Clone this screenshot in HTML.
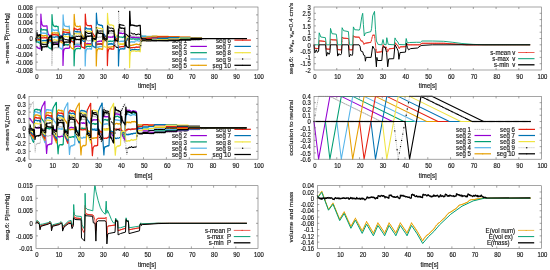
<!DOCTYPE html>
<html lang="en"><head><meta charset="utf-8"><title>segments</title>
<style>html,body{margin:0;padding:0;background:#fff;overflow:hidden}svg{display:block;filter:blur(0.38px)}text{white-space:pre}</style></head>
<body>
<svg width="550" height="270" viewBox="0 0 550 270" font-family="'Liberation Sans', sans-serif" font-size="6.5" fill="#1a1a1a">
<style>text{stroke:#1a1a1a;stroke-width:0.18px;stroke-linejoin:round}</style>
<rect width="550" height="270" fill="#fff"/>
<text transform="translate(186.90 42.70) scale(0.94 1)" text-anchor="end">seg 1</text>
<path d="M190.40 40.10h16.5" stroke="#b8b8b8" stroke-width="0.8" fill="none" stroke-dasharray="1.4 0.7"/>
<circle cx="198.65" cy="40.10" r="0.5" fill="#a0a0a0"/>
<text transform="translate(230.90 42.70) scale(0.94 1)" text-anchor="end">seg 6</text>
<path d="M234.40 40.10h16.5" stroke="#e51e10" stroke-width="1.2" fill="none"/>
<circle cx="242.65" cy="40.10" r="0.6" fill="#e51e10"/>
<text transform="translate(186.90 49.00) scale(0.94 1)" text-anchor="end">seg 2</text>
<path d="M190.40 46.40h16.5" stroke="#9400d3" stroke-width="1.2" fill="none"/>
<text transform="translate(230.90 49.00) scale(0.94 1)" text-anchor="end">seg 7</text>
<path d="M234.40 46.40h16.5" stroke="#0072b2" stroke-width="1.2" fill="none"/>
<circle cx="242.65" cy="46.40" r="0.5" fill="#0072b2"/>
<text transform="translate(186.90 55.30) scale(0.94 1)" text-anchor="end">seg 3</text>
<path d="M190.40 52.70h16.5" stroke="#009e73" stroke-width="1.2" fill="none"/>
<text transform="translate(230.90 55.30) scale(0.94 1)" text-anchor="end">seg 8</text>
<path d="M234.40 52.70h16.5" stroke="#f0e442" stroke-width="1.2" fill="none"/>
<circle cx="242.65" cy="52.70" r="0.5" fill="#f0e442"/>
<text transform="translate(186.90 61.60) scale(0.94 1)" text-anchor="end">seg 4</text>
<path d="M190.40 59.00h16.5" stroke="#56b4e9" stroke-width="1.2" fill="none"/>
<text transform="translate(230.90 61.60) scale(0.94 1)" text-anchor="end">seg 9</text>
<path d="M234.40 59.00h16.5" stroke="#b0b0b0" stroke-width="0.7" fill="none" stroke-dasharray="1.2 0.8"/>
<circle cx="242.65" cy="59.00" r="0.7" fill="#000"/>
<text transform="translate(186.90 67.90) scale(0.94 1)" text-anchor="end">seg 5</text>
<path d="M190.40 65.30h16.5" stroke="#e69f00" stroke-width="1.2" fill="none"/>
<circle cx="198.65" cy="65.30" r="0.6" fill="#e69f00"/>
<text transform="translate(230.90 67.90) scale(0.94 1)" text-anchor="end">seg 10</text>
<path d="M234.40 65.30h16.5" stroke="#000000" stroke-width="1.25" fill="none"/>
<circle cx="242.65" cy="65.30" r="0.6" fill="#000"/>
<polyline points="36.0,31.8 36.1,32.0 36.2,32.0 36.4,31.2 36.9,33.1 37.6,34.5 37.8,34.7 38.0,34.7 38.3,35.0 38.6,35.6 39.4,36.5 39.8,37.1 40.0,37.3 40.3,37.4 40.9,44.3 41.1,44.2 41.3,43.8 41.9,43.7 42.1,43.5 42.2,43.6 42.3,43.4 42.4,43.5 42.7,43.4 42.8,43.2 43.3,43.2 43.4,43.0 44.0,43.4 44.2,43.2 44.3,43.4 44.5,43.2 44.7,43.3 44.8,43.2 44.9,43.4 45.1,43.4 45.4,43.3 45.5,43.4 45.8,43.2 46.0,43.4 46.2,43.2 46.4,43.4 46.5,43.3 46.7,43.5 46.8,43.5 46.9,43.5 47.0,43.6 47.2,43.2 47.3,42.5 47.5,39.7 48.9,36.3 49.3,35.7 49.4,35.7 49.7,35.5 49.8,35.5 50.0,35.4 50.4,34.7 50.5,34.8 50.9,34.6 51.0,34.7 51.2,34.7 51.4,34.6 51.7,43.9 51.9,65.8 52.3,53.4 52.5,50.7 53.0,48.7 53.2,48.3 53.9,47.8 54.1,48.0 54.2,48.0 54.4,48.2 54.5,48.0 54.9,47.9 55.1,47.6 55.3,47.6 55.6,47.7 55.8,47.6 56.1,47.9 56.2,47.8 56.3,47.9 56.6,47.8 56.8,47.6 57.0,47.6 57.2,47.8 57.3,47.7 58.0,47.8 58.1,47.9 58.2,47.9 58.4,46.4 58.6,43.6 59.1,41.5 59.5,39.8 60.0,38.6 60.6,37.6 60.8,37.7 60.9,37.5 61.1,37.4 61.3,37.1 61.8,37.2 62.0,36.9 62.3,37.0 62.5,36.8 63.1,46.4 63.2,46.3 63.4,46.4 63.5,46.2 63.9,46.1 64.4,45.5 65.1,45.6 65.4,45.3 65.7,45.4 66.5,45.3 66.6,45.5 67.1,45.7 67.2,45.9 67.3,45.8 67.5,45.8 67.6,45.6 68.1,45.5 68.2,45.6 68.4,45.7 68.9,45.2 69.0,45.4 69.2,45.4 69.3,45.6 69.5,44.6 69.9,42.1 70.1,41.2 70.9,39.2 71.5,38.4 71.6,38.3 71.7,38.4 72.1,38.1 72.5,38.3 72.6,38.1 72.9,37.9 73.0,38.0 73.3,37.7 73.5,37.8 73.6,37.6 74.2,43.7 74.7,43.4 75.0,43.6 75.1,43.3 75.3,43.4 75.5,43.1 75.6,43.2 76.3,43.3 76.8,43.2 77.5,43.4 77.6,43.3 78.0,43.4 78.2,43.1 78.5,43.0 79.0,43.1 79.2,43.0 79.3,43.1 79.5,43.1 79.6,43.3 79.8,43.3 80.0,43.4 80.5,42.8 80.8,41.5 81.2,40.9 81.5,39.9 81.8,39.3 82.3,39.1 82.5,38.7 83.4,38.6 83.5,38.4 83.7,38.4 83.8,38.3 84.0,38.4 84.1,38.4 84.3,38.2 84.7,38.0 84.8,38.1 85.3,40.9 85.5,40.9 85.6,40.8 85.8,40.8 86.2,40.9 86.4,40.6 86.5,40.6 86.6,40.5 86.7,40.5 86.8,40.4 86.9,40.6 87.6,40.6 88.2,41.1 88.4,40.9 88.5,40.9 88.7,40.8 88.8,40.8 89.1,40.6 89.5,40.5 89.8,40.8 90.2,40.7 90.4,40.5 90.6,40.8 90.9,40.7 91.1,40.7 91.2,40.9 91.3,40.7 91.4,40.7 92.1,40.5 92.2,40.6 92.8,39.6 93.2,39.7 93.7,39.1 93.8,39.2 93.9,39.4 94.1,39.2 94.3,39.2 94.4,39.1 94.7,39.3 94.9,39.3 95.1,39.2 95.4,39.5 95.6,39.2 95.8,39.3 96.3,37.4 96.5,37.0 96.6,37.0 96.8,37.1 96.9,37.1 97.1,37.2 97.2,37.2 97.6,37.3 97.7,37.2 98.3,37.5 98.6,37.1 98.7,37.2 98.8,37.1 99.0,37.2 99.7,36.8 100.3,37.3 100.4,37.1 100.5,37.2 100.6,37.1 100.7,37.2 100.8,37.1 100.9,37.3 101.0,37.2 101.4,37.2 101.7,36.4 102.0,36.1 102.4,35.9 102.7,36.1 103.0,37.8 103.5,37.5 103.8,37.9 104.2,37.9 104.4,38.2 104.6,38.2 104.7,38.4 104.8,38.3 104.9,38.6 105.2,38.7 105.3,38.7 105.6,38.8 105.7,38.8 105.8,38.8 105.9,38.7 106.4,38.9 106.5,38.9 106.8,39.0 106.9,38.9 107.5,33.2 107.7,33.0 108.0,33.0 108.3,33.3 108.4,33.2 109.3,33.3 109.6,33.0 109.9,33.1 110.4,32.9 110.6,33.1 110.8,33.0 110.9,33.1 111.4,33.2 111.6,33.0 111.8,33.1 112.0,33.1 112.8,33.5 112.9,33.4 113.5,33.6 113.6,33.3 113.7,33.3 113.9,34.3 114.1,36.6 114.5,36.9 115.3,37.9 115.4,37.9 115.5,38.0 116.0,38.9 116.3,38.7 116.8,39.3 117.0,39.2 117.3,39.5 117.4,39.3 117.5,39.5 117.9,39.2 118.0,39.4 118.6,30.5 118.7,30.5 118.8,30.3 119.1,30.8 119.4,30.6 119.6,30.9 119.8,31.1 119.9,30.9 120.0,31.0 120.1,30.9 120.2,31.1 120.5,31.0 120.7,31.2 121.1,30.9 121.7,31.0 121.8,31.2 122.0,31.1 122.2,31.3 122.6,30.9 122.9,31.1 123.1,31.0 123.2,31.0 123.5,30.8 123.7,30.9 124.0,31.2 124.6,31.1 124.8,31.2 125.0,32.5 125.2,35.9 126.2,38.5 127.0,40.0 127.6,40.3 128.0,40.3 128.1,40.6 128.4,40.7 128.9,41.4 129.0,41.4 129.1,41.3 129.4,39.2 129.7,33.6 130.0,34.7 130.5,35.5 130.9,35.5 131.0,35.7 131.2,35.8 131.3,36.0 131.6,36.1 131.7,36.3 132.3,36.2 132.5,36.4 132.6,36.3 132.9,36.4 133.0,36.4 133.1,36.5 133.8,36.2 134.2,36.3 134.7,36.2 134.9,36.4 135.0,36.4 135.3,37.0 135.5,37.0 135.7,37.2 135.9,37.0 136.0,37.1 136.3,36.7 136.7,36.7 136.8,36.6 137.0,36.7 137.3,36.7 137.6,36.8 137.7,36.6 137.8,36.8 138.3,36.6 138.7,36.8 138.9,37.0 139.0,37.0 139.3,37.1 139.6,36.9 139.8,36.8 140.0,36.9 140.2,36.7 140.5,37.1 140.9,37.1 141.0,37.3 141.4,37.4 141.6,37.7 141.7,37.6 141.8,37.6 142.2,37.3 142.3,37.4 142.4,37.2 142.6,37.6 145.8,37.6 146.2,38.1 146.8,38.2 151.3,38.3 151.9,38.8 152.6,38.9 156.9,38.9 157.4,39.5 158.3,39.7 179.1,39.7 180.3,39.6 190.2,39.5 190.7,39.3 191.4,39.2 201.3,39.2 201.6,38.8 201.9,38.6 203.1,38.5 246.9,38.5" fill="none" stroke="#b8b8b8" stroke-width="0.8" stroke-linejoin="round" stroke-dasharray="1.4 0.7"/>
<path d="M36.0 31.8h0M36.9 33.1h0M37.8 34.7h0M38.7 35.8h0M39.6 36.7h0M40.4 39.0h0M41.3 43.8h0M42.2 43.6h0M43.1 43.2h0M44.0 43.4h0M44.9 43.4h0M45.8 43.2h0M46.7 43.5h0M47.5 39.7h0M48.4 37.4h0M49.3 35.7h0M50.2 35.0h0M51.1 34.7h0M52.0 62.4h0M52.9 49.1h0M53.8 48.0h0M54.6 47.9h0M55.5 47.7h0M56.4 47.8h0M57.3 47.7h0M58.2 47.9h0M59.1 41.5h0M60.0 38.6h0M60.9 37.5h0M61.8 37.2h0M62.6 39.1h0M63.5 46.2h0M64.4 45.5h0M65.3 45.4h0M66.2 45.4h0M67.1 45.7h0M68.0 45.5h0M68.9 45.2h0M69.7 42.6h0M70.6 39.9h0M71.5 38.4h0M72.4 38.2h0M73.3 37.7h0M74.2 43.7h0M75.1 43.3h0M76.0 43.2h0M76.8 43.2h0M77.7 43.3h0M78.6 43.1h0M79.5 43.1h0M80.4 42.9h0M81.3 40.7h0M82.2 39.1h0M83.1 38.6h0M84.0 38.4h0M84.8 38.1h0M85.7 40.8h0M86.6 40.5h0M87.5 40.6h0M88.4 40.9h0M89.3 40.6h0M90.2 40.7h0M91.1 40.7h0M91.9 40.6h0M92.8 39.6h0M93.7 39.1h0M94.6 39.3h0M95.5 39.3h0M96.4 37.1h0M97.3 37.2h0M98.2 37.4h0M99.0 37.2h0M99.9 37.0h0M100.8 37.1h0M101.7 36.4h0M102.6 36.1h0M103.5 37.5h0M104.4 38.2h0M105.3 38.7h0M106.2 38.8h0M107.0 37.7h0M107.9 33.1h0M108.8 33.3h0M109.7 33.0h0M110.6 33.1h0M111.5 33.1h0M112.4 33.2h0M113.3 33.5h0M114.1 36.6h0M115.0 37.6h0M115.9 38.8h0M116.8 39.3h0M117.7 39.3h0M118.6 30.5h0M119.5 30.7h0M120.4 31.1h0M121.2 31.0h0M122.1 31.3h0M123.0 31.1h0M123.9 31.1h0M124.8 31.2h0M125.7 37.0h0M126.6 39.1h0M127.5 40.3h0M128.4 40.7h0M129.2 40.4h0M130.1 34.8h0M131.0 35.7h0M131.9 36.3h0M132.8 36.4h0M133.7 36.2h0M134.6 36.2h0M135.5 37.0h0M136.3 36.7h0M137.2 36.7h0M138.1 36.7h0M139.0 37.0h0M139.9 36.9h0M140.8 37.1h0M141.7 37.6h0M142.6 37.6h0M143.4 37.6h0M144.3 37.6h0M145.2 37.6h0M146.1 38.0h0M147.0 38.2h0M147.9 38.3h0M148.8 38.3h0M149.7 38.3h0M150.6 38.3h0M151.4 38.4h0M152.3 38.9h0M153.2 38.9h0M154.1 38.9h0M155.0 38.9h0M155.9 38.9h0M156.8 38.9h0M157.7 39.6h0M158.5 39.7h0M159.4 39.7h0M160.3 39.7h0M161.2 39.7h0M162.1 39.7h0M163.0 39.7h0M163.9 39.7h0M164.8 39.7h0M165.6 39.7h0M166.5 39.7h0M167.4 39.7h0M168.3 39.7h0M169.2 39.7h0M170.1 39.7h0M171.0 39.7h0M171.9 39.7h0M172.8 39.7h0M173.6 39.7h0M174.5 39.7h0M175.4 39.7h0M176.3 39.7h0M177.2 39.7h0M178.1 39.7h0M179.0 39.7h0M179.9 39.6h0M180.7 39.6h0M181.6 39.6h0M182.5 39.6h0M183.4 39.6h0M184.3 39.6h0M185.2 39.6h0M186.1 39.6h0M187.0 39.6h0M187.8 39.6h0M188.7 39.6h0M189.6 39.5h0M190.5 39.3h0M191.4 39.2h0M192.3 39.2h0M193.2 39.2h0M194.1 39.2h0M195.0 39.2h0M195.8 39.2h0M196.7 39.2h0M197.6 39.2h0M198.5 39.2h0M199.4 39.2h0M200.3 39.2h0M201.2 39.2h0M202.1 38.6h0M202.9 38.5h0M203.8 38.5h0M204.7 38.5h0M205.6 38.5h0M206.5 38.5h0M207.4 38.5h0M208.3 38.5h0M209.2 38.5h0M210.0 38.5h0M210.9 38.5h0M211.8 38.5h0M212.7 38.5h0M213.6 38.5h0M214.5 38.5h0M215.4 38.5h0M216.3 38.5h0M217.2 38.5h0M218.0 38.5h0M218.9 38.5h0M219.8 38.5h0M220.7 38.5h0M221.6 38.5h0M222.5 38.5h0M223.4 38.5h0M224.3 38.5h0M225.1 38.5h0M226.0 38.5h0M226.9 38.5h0M227.8 38.5h0M228.7 38.5h0M229.6 38.5h0M230.5 38.5h0M231.4 38.5h0M232.2 38.5h0M233.1 38.5h0M234.0 38.5h0M234.9 38.5h0M235.8 38.5h0M236.7 38.5h0M237.6 38.5h0M238.5 38.5h0M239.4 38.5h0M240.2 38.5h0M241.1 38.5h0M242.0 38.5h0M242.9 38.5h0M243.8 38.5h0M244.7 38.5h0M245.6 38.5h0M246.5 38.5h0" stroke="#a0a0a0" stroke-width="0.8" stroke-linecap="round" fill="none"/>
<polyline points="36.0,46.1 36.6,46.6 37.0,47.4 37.2,47.4 37.6,47.8 37.7,47.7 37.8,47.9 38.1,48.0 38.3,48.0 38.6,48.2 38.8,48.2 38.9,48.5 39.1,48.4 39.4,48.6 39.6,48.5 39.7,48.3 40.0,48.8 40.1,48.7 40.3,48.9 40.7,32.1 40.9,14.1 41.3,20.4 41.8,23.4 42.2,24.9 42.4,25.2 42.5,25.2 42.9,25.6 43.1,26.0 43.3,26.1 43.7,26.1 44.0,26.0 44.2,26.1 44.3,26.0 44.5,26.2 45.1,26.1 45.3,26.2 45.7,25.9 45.8,26.0 46.1,26.0 46.3,25.8 47.0,25.8 47.3,30.3 47.5,30.6 48.0,33.1 48.2,33.7 48.7,34.8 48.9,34.9 49.7,35.8 49.9,35.9 50.4,36.4 50.7,36.5 51.0,37.1 51.4,37.5 52.0,45.1 52.5,44.3 53.0,44.0 53.1,44.2 53.2,44.0 53.3,44.1 53.5,43.9 53.8,43.9 54.0,44.1 54.2,44.0 54.5,44.1 54.8,44.0 54.9,44.1 55.1,44.1 55.3,44.3 56.0,44.0 56.1,43.8 56.4,43.9 56.9,43.7 57.1,43.7 57.4,43.7 57.9,44.2 58.2,44.1 58.4,43.1 58.6,40.2 59.2,38.8 59.3,38.7 59.5,37.9 60.1,36.8 60.2,36.8 60.5,36.3 61.1,36.0 61.3,35.7 61.6,35.9 62.0,35.5 62.1,35.7 62.5,35.4 62.8,44.5 63.0,65.5 63.4,53.9 63.6,51.3 64.0,49.6 64.3,49.1 64.7,48.8 65.3,48.3 65.5,48.3 65.6,48.4 66.2,48.4 66.3,48.2 66.9,48.5 67.2,48.3 67.3,48.1 67.4,48.2 67.9,48.3 68.0,48.4 68.1,48.4 68.2,48.2 68.4,48.3 69.1,47.9 69.3,48.2 69.5,46.9 69.7,44.1 70.4,41.1 71.1,39.3 71.5,38.7 71.9,38.0 72.2,37.8 72.6,37.8 73.0,37.6 73.1,37.7 73.4,37.7 73.6,37.5 74.2,47.5 74.6,47.3 75.1,46.6 75.3,46.4 76.0,46.3 76.2,46.4 76.3,46.2 76.4,46.2 76.5,46.1 76.7,46.1 77.0,46.0 77.3,46.2 77.4,46.1 77.6,46.1 77.7,46.2 77.8,46.1 78.0,46.2 78.4,45.9 78.7,46.1 79.0,46.0 79.3,46.4 79.5,46.5 79.6,46.5 79.8,46.2 80.1,46.4 80.2,46.4 80.4,46.6 80.6,45.6 80.8,43.5 81.6,40.9 82.1,40.0 82.8,39.0 83.1,38.9 83.3,38.6 83.5,38.7 84.2,38.5 84.4,38.2 84.6,38.4 84.7,38.4 85.3,44.4 85.5,44.5 85.7,44.3 85.8,44.3 86.0,44.1 86.4,43.9 86.5,44.0 86.8,43.7 87.3,43.6 87.5,43.4 87.7,43.4 87.9,43.7 88.2,43.5 88.3,43.6 88.7,43.6 89.1,43.7 89.3,43.7 89.6,43.8 89.7,43.7 90.1,43.9 90.2,43.7 90.6,43.8 90.8,43.5 91.2,43.7 91.5,43.7 91.7,43.2 91.9,42.2 92.7,40.2 93.1,39.7 93.3,39.7 93.9,39.1 94.5,39.4 95.1,39.5 95.4,39.1 95.5,38.8 95.8,38.6 95.9,38.8 96.4,41.6 96.6,41.5 96.7,41.8 96.9,41.5 97.2,41.7 97.3,41.6 97.7,41.8 97.8,41.5 98.3,41.4 98.4,41.5 98.5,41.3 99.0,41.4 99.2,41.3 99.3,41.4 99.5,41.1 99.6,41.3 99.8,41.0 99.9,41.1 100.3,41.0 100.7,41.2 101.4,41.4 101.5,41.4 101.7,41.0 101.9,40.7 102.2,40.8 102.4,40.6 102.5,40.7 102.6,40.5 102.7,40.6 102.8,40.5 102.9,40.6 103.2,40.7 103.4,40.3 103.7,40.1 103.9,39.7 104.5,39.4 104.7,39.6 105.2,39.4 105.3,39.6 105.5,39.5 105.6,39.4 105.9,39.7 106.0,39.5 106.2,39.6 106.3,39.2 106.7,39.5 106.9,39.4 107.4,37.4 107.5,37.0 107.7,36.8 108.5,37.1 108.7,37.0 108.8,36.8 109.0,37.0 109.3,37.0 109.7,37.2 109.8,37.1 110.1,37.3 110.3,37.3 110.4,37.1 111.0,37.2 111.3,37.0 111.5,37.2 111.7,37.1 112.1,37.2 112.4,37.1 112.5,37.3 113.0,36.3 113.4,36.1 113.5,36.2 113.7,36.1 113.8,36.2 113.9,36.5 114.1,37.7 114.5,37.8 114.6,37.9 114.8,37.9 115.6,38.5 115.8,38.5 115.9,38.4 116.0,38.5 116.1,38.4 116.4,38.6 116.5,38.6 116.9,38.8 117.3,38.8 117.4,39.0 117.5,38.9 117.6,38.9 117.7,38.8 117.9,39.0 118.0,38.8 118.6,33.2 118.9,32.9 119.1,33.1 119.5,32.9 120.0,33.3 120.2,33.0 120.4,33.2 120.6,33.1 120.8,33.3 121.1,33.0 121.4,33.2 121.5,33.1 121.7,33.4 122.1,33.4 122.4,33.6 123.0,33.6 123.4,33.3 123.5,33.3 123.6,33.2 124.4,33.3 124.5,33.5 124.8,33.7 124.9,33.9 125.2,36.5 125.4,36.4 126.2,37.8 126.5,38.0 126.6,38.2 126.9,38.4 127.0,38.6 127.6,38.9 127.7,38.8 128.5,39.1 128.6,39.0 128.7,39.2 128.9,39.3 129.1,39.5 129.2,39.3 129.5,38.2 129.7,36.0 130.3,37.1 130.9,37.2 131.2,37.4 131.7,37.5 132.0,37.4 132.5,37.5 132.6,37.4 132.7,37.5 133.3,37.3 133.5,37.4 133.6,37.4 134.0,37.6 134.6,37.3 135.2,37.7 135.5,37.9 135.8,38.0 136.1,37.6 136.3,37.6 136.5,37.7 136.6,37.6 136.7,37.6 136.9,37.5 137.2,37.6 137.5,37.9 137.8,37.7 138.1,37.8 138.2,37.7 138.3,37.9 138.5,37.9 138.8,37.8 138.9,37.6 139.5,38.1 139.6,37.9 139.7,38.1 140.1,38.1 140.3,37.7 140.7,37.4 140.9,37.0 141.2,36.8 141.7,36.6 141.8,36.7 142.0,36.7 142.1,36.8 142.2,36.7 145.8,36.8 146.2,37.1 146.8,37.2 151.3,37.3 151.9,37.5 152.6,37.6 156.9,37.6 157.4,38.1 158.1,38.2 168.0,38.3 168.5,38.8 169.0,39.0 169.6,39.0 190.2,39.1 191.4,38.9 201.3,38.9 201.9,38.6 203.1,38.5 246.9,38.5" fill="none" stroke="#9400d3" stroke-width="1.2" stroke-linejoin="round"/>
<polyline points="36.0,39.2 36.1,39.3 36.2,39.8 36.4,42.4 36.6,41.9 36.8,41.7 37.2,41.8 37.4,41.7 37.7,42.1 38.2,42.1 38.3,42.3 38.6,42.3 38.9,42.7 39.4,43.0 39.7,43.2 39.8,43.2 40.3,43.3 40.9,28.8 41.2,28.6 41.8,29.6 42.4,29.9 42.7,29.9 43.0,30.1 43.4,29.7 44.0,29.7 44.2,29.8 44.4,29.7 44.5,29.8 44.9,30.0 45.2,30.0 45.4,29.9 45.8,30.1 46.2,29.9 46.3,30.1 46.5,30.0 47.0,29.6 47.3,40.6 47.5,43.6 47.9,46.1 48.1,46.7 48.2,46.7 48.5,47.3 48.9,47.6 49.4,48.1 49.7,48.3 49.9,48.2 50.0,48.3 50.2,48.3 50.4,48.6 50.7,48.4 50.9,48.8 51.4,49.0 51.8,32.3 52.0,14.6 52.4,21.1 52.8,23.4 53.1,24.8 53.5,25.7 53.6,25.8 53.8,25.7 54.0,26.0 54.2,26.1 54.5,26.3 54.8,26.3 55.1,26.6 55.3,26.6 55.6,26.2 55.9,26.0 56.2,26.4 56.3,26.1 56.5,26.0 56.8,26.3 57.0,26.3 57.1,26.6 57.4,26.6 57.5,26.5 57.8,26.5 58.1,26.4 58.4,31.0 58.6,31.3 59.0,33.1 59.5,34.7 60.3,35.7 60.5,35.8 61.0,36.3 61.1,36.3 61.3,36.5 61.4,36.5 62.0,37.6 62.2,37.9 62.3,37.8 62.5,38.2 63.1,45.4 63.4,45.3 63.5,45.1 63.6,45.3 63.9,44.8 64.0,44.9 64.2,44.8 64.3,44.9 64.5,44.6 64.7,44.6 65.0,44.4 65.2,44.4 65.4,44.4 65.7,44.7 65.9,44.6 66.0,44.7 66.2,44.5 66.7,44.4 66.9,44.6 67.0,44.5 67.1,44.8 67.3,44.6 67.6,44.8 68.0,44.6 68.3,44.5 68.4,44.6 68.5,44.5 68.7,44.5 68.9,44.6 69.3,44.6 69.5,43.5 69.7,40.7 71.1,37.3 71.3,37.1 71.4,36.9 71.6,36.9 71.9,36.5 72.9,35.8 73.1,35.8 73.2,35.7 73.6,35.6 73.9,45.0 74.1,65.8 74.5,54.2 74.7,52.0 75.0,50.8 75.2,50.1 75.6,49.1 76.2,48.6 76.3,48.7 76.4,48.6 76.5,48.8 77.0,48.5 77.2,48.6 77.7,48.4 78.1,48.4 78.2,48.6 78.5,48.5 78.6,48.4 79.0,48.5 79.1,48.4 79.2,48.6 79.4,48.5 80.4,48.8 80.6,47.6 80.8,44.7 81.4,41.9 81.8,40.2 82.2,39.4 82.4,39.2 82.8,38.4 83.2,38.3 83.6,37.9 83.8,38.0 84.2,37.7 84.4,37.8 84.6,37.6 84.7,37.7 85.3,47.2 85.4,47.3 85.6,47.2 85.7,47.1 86.1,47.2 86.2,47.0 86.3,47.0 86.5,46.5 86.8,46.7 87.5,46.3 87.7,46.3 87.8,46.4 88.1,46.3 88.3,46.4 88.6,46.3 88.7,46.4 88.8,46.3 89.5,46.7 89.7,46.5 89.8,46.6 90.3,46.5 90.6,46.3 90.9,46.5 91.3,46.4 91.4,46.5 91.6,46.3 91.9,43.9 92.7,41.4 93.2,40.2 93.5,39.9 93.9,39.1 94.1,39.2 94.3,39.1 94.6,39.0 94.7,39.1 95.1,38.9 95.5,38.9 95.8,38.7 96.4,44.7 96.6,44.7 96.9,44.5 97.6,44.7 97.8,44.3 98.2,44.2 98.6,44.2 98.7,44.1 98.8,44.2 98.9,44.0 99.0,44.1 99.2,43.9 99.4,44.1 99.6,44.1 99.7,44.0 100.0,44.0 100.2,44.1 100.4,44.0 100.5,44.1 100.8,44.0 101.5,44.4 101.9,43.7 102.0,43.7 102.3,43.8 102.6,43.6 103.0,42.1 104.2,39.9 104.7,39.5 104.9,39.5 105.2,39.5 105.6,39.4 106.0,39.0 106.2,39.0 106.4,38.9 106.6,39.3 106.7,39.2 106.8,39.3 106.9,39.2 107.0,39.2 107.5,41.6 107.6,41.7 108.0,41.3 108.4,41.5 108.5,41.4 108.6,41.6 108.7,41.4 108.9,41.5 109.1,41.3 109.6,41.2 109.8,41.2 109.9,41.3 110.3,41.1 110.4,41.3 110.6,41.0 110.8,41.2 111.6,41.2 112.1,41.4 112.6,41.1 112.8,41.1 113.1,40.8 113.4,40.8 113.7,40.9 113.9,40.6 114.1,40.6 114.3,40.3 114.4,40.3 114.7,39.7 115.0,39.4 115.3,39.5 115.8,39.4 115.9,39.1 116.3,39.2 116.4,39.4 116.6,39.3 116.9,39.4 117.5,39.2 117.6,39.1 118.0,39.3 118.4,37.7 118.6,37.1 118.7,37.3 118.9,37.1 119.0,37.2 119.2,37.1 119.6,36.8 119.7,37.0 120.2,37.0 120.6,37.0 120.8,37.1 121.0,37.0 121.7,37.2 121.9,37.0 122.1,37.1 122.4,37.5 122.7,37.3 122.9,37.4 123.6,37.0 123.9,36.3 124.1,36.0 124.7,35.9 124.9,36.0 125.2,37.8 125.4,38.0 125.5,37.9 125.8,38.1 125.9,38.0 126.1,38.2 126.4,38.2 126.6,38.1 126.7,38.2 126.8,38.1 127.1,38.4 127.2,38.3 127.5,38.4 127.7,38.6 128.0,38.7 128.5,39.0 128.6,38.9 129.1,39.1 129.2,39.4 129.5,39.0 129.7,37.9 130.2,38.8 130.8,39.2 130.9,39.1 131.0,39.1 131.2,39.0 131.6,39.1 131.8,38.9 132.1,38.9 132.2,38.8 132.6,39.1 132.8,38.9 132.9,39.0 133.2,38.9 133.3,38.8 133.5,39.0 133.6,39.0 133.7,38.9 133.8,38.9 134.1,38.9 134.2,39.1 134.3,39.0 134.5,39.1 134.8,39.0 135.0,39.3 135.1,39.1 135.3,39.2 135.5,39.0 136.0,39.2 136.3,39.1 136.6,39.2 137.0,38.9 137.2,39.1 137.7,39.1 137.9,38.9 138.0,39.0 138.2,38.8 138.3,39.0 138.6,39.1 138.7,39.0 138.9,39.2 139.0,39.1 139.2,39.2 139.6,39.2 139.9,39.5 140.2,39.5 140.5,38.0 140.9,36.6 141.0,36.7 141.1,36.3 141.2,36.3 141.8,36.6 142.0,36.3 142.4,36.1 142.6,36.3 145.8,36.3 146.2,36.5 146.9,36.6 151.3,36.6 152.6,36.8 156.9,36.8 157.4,37.1 158.1,37.2 168.0,37.3 168.5,37.7 169.3,37.9 179.1,37.9 179.6,38.5 180.1,38.6 180.7,38.6 201.3,38.7 201.9,38.5 203.1,38.5 246.9,38.5" fill="none" stroke="#009e73" stroke-width="1.2" stroke-linejoin="round"/>
<polyline points="36.0,38.7 36.1,38.8 36.2,39.3 36.4,40.8 36.7,40.5 37.1,40.5 37.4,40.8 37.8,40.9 38.1,41.1 38.3,41.0 38.4,41.1 38.9,41.5 39.2,41.3 39.4,41.3 39.7,41.2 39.9,41.4 40.1,41.4 40.3,41.6 40.9,32.6 41.4,32.8 41.5,33.0 41.9,32.9 42.1,33.2 42.3,33.1 42.9,33.2 43.1,33.3 43.2,33.2 43.3,33.3 43.7,33.0 44.3,33.3 44.9,33.2 45.0,33.3 45.1,33.2 45.2,33.3 45.8,33.3 46.0,33.4 46.1,33.3 46.3,33.3 46.5,33.4 47.0,33.3 47.2,33.6 47.3,34.5 47.5,38.0 47.8,38.3 48.8,40.8 48.9,41.0 49.0,41.0 49.3,41.8 50.0,42.6 50.2,42.5 50.3,42.6 50.5,42.6 50.9,43.0 51.4,43.0 52.0,29.0 52.3,28.9 53.0,29.7 53.1,29.6 53.5,30.2 53.6,30.1 54.1,30.4 54.2,30.3 54.5,30.5 54.8,30.6 55.2,30.2 55.6,30.1 55.9,29.9 56.2,30.2 56.4,30.3 56.6,30.2 56.9,30.4 57.2,30.2 57.3,30.2 57.5,30.0 58.1,29.8 58.3,38.3 58.5,42.7 58.8,45.0 59.1,46.8 59.4,47.4 59.9,47.8 60.1,48.1 60.4,48.1 60.9,48.6 61.0,48.6 61.1,48.4 61.3,48.7 61.9,49.0 62.1,49.4 62.2,49.3 62.5,49.4 62.9,32.9 63.1,14.9 63.5,21.2 63.8,22.8 64.3,25.0 64.5,25.6 64.7,25.9 65.0,25.8 65.2,26.0 65.4,26.0 65.7,26.4 66.1,26.3 66.6,26.5 66.7,26.4 67.0,26.7 67.2,26.6 67.3,26.7 67.5,26.7 67.7,26.4 68.0,26.6 68.4,26.5 68.6,26.6 68.7,26.3 69.2,26.0 69.5,30.9 69.6,31.3 69.7,31.3 70.1,33.3 70.5,34.6 71.0,35.4 71.7,36.4 72.1,36.5 72.9,37.2 73.1,37.3 73.6,37.9 74.2,45.4 74.6,45.4 74.8,44.9 75.2,44.9 75.6,44.6 75.7,44.7 76.2,44.7 77.0,44.4 77.2,44.6 77.4,44.5 77.5,44.7 77.8,44.5 78.1,44.6 78.2,44.5 78.3,44.6 78.4,44.5 78.6,44.8 78.7,44.6 78.8,44.7 79.1,44.5 79.2,44.6 79.3,44.5 79.6,44.7 80.1,44.8 80.2,44.9 80.4,44.7 80.6,43.5 80.8,40.7 81.4,39.2 82.4,37.2 82.6,36.9 82.8,36.8 83.1,36.5 83.2,36.6 83.4,36.3 83.7,36.3 84.2,36.0 84.7,35.9 85.0,45.0 85.2,65.9 85.6,54.3 86.0,51.0 86.4,49.7 86.9,48.9 87.2,49.0 87.4,48.7 87.6,48.8 87.7,48.7 87.9,48.9 88.3,48.8 88.5,48.9 88.6,48.9 89.3,49.0 89.6,48.8 89.8,48.6 89.9,48.6 90.2,48.5 90.7,49.0 90.8,48.8 91.3,48.9 91.5,49.2 91.6,49.0 91.7,48.1 91.9,45.1 92.7,41.4 93.5,39.6 93.8,39.1 94.1,39.0 94.2,39.1 94.6,38.4 95.1,38.0 95.3,38.0 95.4,37.8 95.8,38.0 96.4,47.7 96.6,47.6 96.8,47.4 96.9,47.5 97.1,47.5 97.3,47.2 97.4,47.3 97.5,47.0 98.2,47.3 98.5,46.9 98.8,46.9 99.2,46.7 99.3,46.8 99.4,46.7 99.8,46.6 100.0,46.5 100.2,46.6 100.6,46.5 101.3,46.5 101.4,46.4 101.7,46.7 101.9,46.6 102.4,46.7 102.6,46.5 102.8,45.7 103.0,43.7 103.8,41.0 104.0,40.8 104.6,39.7 104.7,39.6 104.8,39.7 105.0,39.3 105.7,39.2 106.0,38.9 106.2,39.0 106.6,38.7 106.9,38.7 107.5,44.7 107.6,44.8 108.3,44.3 108.5,44.5 108.6,44.3 108.7,44.3 109.0,44.1 109.5,44.3 109.6,44.2 109.8,44.3 110.0,44.1 110.5,44.0 110.6,44.2 110.9,44.2 111.1,43.9 111.3,44.3 111.5,44.3 111.6,44.4 111.9,44.2 112.1,44.4 112.4,44.1 112.5,44.2 112.9,44.0 113.3,44.0 113.4,43.9 113.7,43.9 113.8,43.8 114.3,41.9 114.4,41.8 115.3,39.9 115.4,39.8 115.6,39.7 116.0,39.2 116.5,39.1 116.6,39.0 117.0,39.0 117.3,38.8 117.6,38.9 117.8,38.8 118.1,39.2 118.6,41.8 118.9,41.6 119.4,41.7 119.5,41.6 119.7,41.6 119.8,41.4 119.9,41.5 120.1,41.3 120.4,41.3 120.7,41.2 121.1,41.3 121.4,41.2 121.5,41.3 121.6,41.1 122.1,41.3 122.5,41.2 122.6,41.3 122.7,41.3 122.8,41.2 123.1,41.5 123.2,41.4 123.4,41.6 123.5,41.4 123.7,41.4 124.0,40.6 124.1,40.7 124.5,40.6 124.7,40.7 125.0,40.4 125.2,40.7 125.5,40.2 126.0,39.6 126.1,39.7 126.2,39.6 126.4,39.8 126.5,39.8 126.7,39.8 127.0,39.5 127.1,39.5 127.2,39.6 127.4,39.4 127.8,39.8 128.4,39.5 128.5,39.3 128.7,39.3 128.8,39.2 129.0,39.3 129.1,39.2 129.5,41.2 129.7,41.3 129.9,41.7 130.2,42.0 130.5,42.3 130.7,42.2 130.9,41.8 131.1,41.8 131.3,41.7 131.6,42.0 131.8,42.0 132.2,41.7 132.6,41.9 132.7,42.0 132.8,41.9 132.9,42.0 133.1,41.7 133.2,41.9 133.3,41.8 133.6,41.8 133.9,42.1 134.1,42.1 134.6,42.2 134.7,42.1 135.2,40.8 135.5,40.8 135.7,41.0 135.8,41.0 136.0,41.0 137.3,40.6 137.8,40.7 138.0,40.9 138.3,40.8 138.5,41.0 138.8,41.1 138.9,41.0 139.2,41.2 139.5,41.0 139.8,41.1 139.9,41.0 140.2,41.0 140.5,38.6 140.8,37.1 141.2,36.5 141.4,36.4 141.6,36.5 141.8,36.2 142.1,36.1 145.8,36.1 146.3,36.3 147.2,36.3 156.9,36.3 157.4,36.5 158.1,36.6 168.0,36.6 168.5,37.0 169.3,37.1 179.1,37.1 179.6,37.6 180.3,37.7 190.2,37.7 190.7,38.3 191.2,38.4 191.8,38.5 246.9,38.5" fill="none" stroke="#56b4e9" stroke-width="1.2" stroke-linejoin="round"/>
<polyline points="36.0,38.6 36.2,39.0 36.4,40.1 36.6,40.0 36.7,40.1 36.8,40.0 37.0,40.0 37.2,39.7 37.4,39.7 37.6,39.9 37.7,39.8 37.8,40.0 38.1,40.1 38.2,40.2 38.4,40.2 38.6,40.4 38.7,40.4 39.0,40.1 39.3,40.1 39.4,40.0 39.6,40.2 39.9,40.3 40.0,40.4 40.3,40.6 40.9,35.2 41.1,35.3 41.2,35.2 41.4,35.4 41.7,35.5 42.0,35.3 42.2,35.7 42.3,35.6 42.5,35.8 42.7,35.7 43.0,36.1 43.1,36.0 43.3,36.2 43.4,35.9 43.8,35.7 44.0,36.0 44.1,35.9 44.2,36.0 44.4,35.6 44.8,35.7 45.1,35.4 45.7,35.6 46.0,35.9 46.3,35.7 46.9,35.9 47.1,35.7 47.2,35.8 47.3,36.5 47.5,38.7 47.9,39.2 48.5,39.9 48.9,40.1 49.0,40.3 49.2,40.4 49.5,40.9 49.8,40.9 50.2,41.3 50.3,41.2 50.5,41.2 50.7,41.4 51.1,41.5 51.2,41.4 51.4,41.6 52.0,32.4 52.1,32.3 52.4,32.6 52.6,32.6 53.0,33.1 53.1,33.1 53.3,33.0 53.6,33.0 54.0,32.8 54.3,33.0 54.9,32.8 55.4,33.2 55.8,33.2 56.0,33.0 56.1,33.2 56.2,33.2 56.3,33.0 56.8,32.9 56.9,32.9 57.2,32.8 57.6,33.1 57.9,32.9 58.1,33.2 58.2,33.0 58.3,33.3 58.6,37.7 59.6,40.6 59.9,40.9 60.0,40.9 60.3,41.6 60.6,42.0 61.1,42.1 61.3,42.5 61.9,42.7 62.1,42.9 62.2,42.9 62.3,42.9 62.5,43.2 63.1,29.0 63.4,28.9 64.4,29.7 64.5,29.6 64.9,29.9 65.1,29.9 65.2,30.1 65.4,30.0 65.6,30.2 65.7,30.0 65.9,30.2 66.4,30.1 66.5,30.2 66.6,30.1 66.7,30.3 67.1,30.1 67.2,30.2 67.4,30.2 67.5,30.3 68.0,30.0 68.1,30.1 68.3,30.0 68.4,30.1 68.5,30.0 68.6,30.2 68.7,30.1 69.0,30.0 69.1,30.2 69.2,30.0 69.5,40.7 69.7,43.7 70.0,45.3 70.4,46.7 70.9,47.4 71.1,47.6 71.2,47.6 71.3,47.8 71.5,47.9 72.2,48.6 72.5,48.5 72.7,48.7 73.0,48.6 73.1,48.8 73.2,48.7 73.3,48.9 73.6,49.1 74.2,14.3 74.7,21.9 75.1,24.0 75.4,25.4 75.8,26.0 76.1,26.0 76.4,26.4 76.8,26.4 77.0,26.6 77.4,26.4 77.7,26.5 77.8,26.4 78.1,26.5 78.3,26.6 78.5,26.5 79.0,26.5 79.2,26.4 79.5,26.1 79.8,26.2 80.3,26.1 80.6,30.7 80.7,31.1 80.8,31.1 81.3,33.5 81.7,34.5 82.3,35.2 82.4,35.5 82.7,35.9 83.1,36.6 83.5,37.2 83.6,37.1 83.7,37.4 83.8,37.3 84.1,37.7 84.2,37.7 84.5,38.1 84.6,38.3 84.7,38.4 85.3,45.3 86.9,44.6 87.3,44.4 87.9,44.7 88.1,44.7 88.2,44.7 88.4,44.5 88.7,44.5 88.8,44.3 89.1,44.5 89.3,44.4 89.6,44.8 89.9,44.6 90.1,44.7 90.4,44.7 90.6,44.5 90.9,44.9 91.2,44.7 91.5,44.8 91.7,43.5 91.9,40.7 92.2,40.3 92.7,38.4 92.9,38.1 93.4,37.1 93.5,37.2 93.6,37.0 93.8,37.2 94.3,36.6 94.4,36.6 94.5,36.5 94.6,36.5 94.9,36.4 95.1,36.4 95.2,36.2 95.4,36.1 95.7,35.7 95.8,35.7 96.1,44.8 96.3,65.9 96.7,54.4 96.9,51.7 97.3,50.1 97.6,49.4 98.0,48.9 98.8,48.7 99.0,48.8 99.3,48.6 99.5,48.9 99.7,48.9 99.8,49.1 100.2,48.9 100.3,49.0 100.7,48.8 100.9,48.9 101.2,48.8 101.4,49.2 101.7,49.2 101.8,49.3 101.9,49.2 102.0,49.4 102.3,49.3 102.4,49.5 102.6,49.3 102.8,47.9 103.0,45.1 103.9,41.0 104.2,40.4 104.7,39.4 105.2,39.1 105.7,38.3 105.8,38.2 105.9,38.3 106.5,37.8 106.6,37.9 106.7,37.8 106.8,38.0 106.9,38.0 107.5,47.7 107.6,47.6 107.7,47.7 107.9,47.6 108.0,47.4 108.2,47.4 108.3,47.3 108.5,47.5 108.9,47.0 109.0,47.1 109.1,47.0 109.6,47.1 109.8,46.9 110.4,46.9 110.5,47.1 110.8,47.4 111.1,47.3 111.3,47.1 111.7,46.7 112.5,46.7 112.7,46.8 113.0,46.8 113.1,46.7 113.3,46.9 113.7,46.6 113.8,46.5 114.3,43.3 115.0,40.7 115.5,39.9 116.0,39.4 116.3,39.1 116.4,39.0 116.5,39.1 116.8,38.7 117.1,38.8 117.3,38.7 117.7,38.7 117.8,38.6 118.0,38.9 118.6,44.8 118.8,44.6 119.0,44.8 119.1,44.7 119.7,44.2 119.8,44.5 119.9,44.3 120.0,44.4 120.1,44.2 120.2,44.3 120.7,44.0 120.9,44.0 121.2,44.5 121.4,44.5 121.8,44.2 122.0,44.4 122.1,44.3 122.5,44.3 122.6,44.2 122.9,44.1 123.0,44.0 123.5,44.3 123.8,44.1 124.2,44.1 124.4,43.9 124.6,44.0 124.7,43.9 124.8,44.0 125.4,42.1 125.6,41.8 125.9,40.9 126.1,40.6 126.5,39.7 126.7,39.7 126.8,39.4 126.9,39.4 127.0,39.4 127.2,39.4 127.5,39.6 127.8,39.2 128.6,38.9 128.8,39.2 129.0,39.1 129.1,39.2 129.7,44.9 129.9,45.4 130.3,45.5 130.6,45.5 130.8,45.3 130.9,45.4 131.0,45.2 131.2,45.3 131.8,45.3 132.0,45.1 132.2,45.2 132.7,44.9 132.8,44.9 133.0,45.2 133.6,44.7 134.0,44.7 134.2,44.6 134.6,44.7 134.7,44.6 134.8,44.6 134.9,44.4 135.1,44.2 135.7,44.4 135.9,44.2 136.1,44.1 136.5,44.3 136.8,44.1 136.9,44.2 137.0,44.3 137.1,44.2 137.6,44.4 137.7,44.4 137.8,44.5 138.0,44.4 138.1,44.6 138.5,44.5 138.7,44.7 138.9,44.6 139.1,44.4 139.6,44.6 139.7,44.5 139.8,44.5 140.2,44.5 140.7,39.6 140.9,38.8 141.2,38.2 141.6,38.0 141.9,38.1 142.1,38.0 142.4,38.1 142.6,38.0 145.8,37.9 146.2,37.2 146.7,37.0 147.6,36.9 151.3,36.9 151.9,36.3 152.6,36.2 156.9,36.1 157.4,36.3 158.3,36.3 168.0,36.3 168.5,36.6 169.2,36.6 179.1,36.6 179.6,37.0 180.4,37.1 190.2,37.1 190.7,37.6 191.4,37.7 201.3,37.7 201.8,38.3 202.8,38.5 246.9,38.5" fill="none" stroke="#e69f00" stroke-width="1.2" stroke-linejoin="round"/>
<polyline points="36.0,37.2 36.4,38.5 36.6,38.6 36.8,38.6 36.9,38.6 37.2,38.9 37.3,38.8 37.7,39.2 37.9,39.1 38.3,39.4 39.4,39.3 39.6,39.4 39.8,39.3 39.9,39.5 40.1,39.3 40.3,39.4 40.7,38.0 40.9,37.6 41.0,37.7 41.1,37.6 41.3,37.7 41.5,38.0 41.7,37.9 41.8,38.0 41.9,37.9 42.5,37.9 42.8,37.7 43.2,37.9 43.5,37.8 43.7,37.9 43.8,37.8 44.1,37.8 44.2,37.6 44.3,37.7 44.7,37.6 44.8,37.6 45.0,37.9 45.2,37.7 45.4,37.7 45.7,38.0 46.0,37.8 46.1,37.8 46.3,37.6 47.0,37.7 47.1,37.6 47.2,37.6 47.5,39.4 47.9,39.3 48.1,39.7 48.3,39.7 48.4,39.8 48.7,39.8 49.0,40.1 49.2,39.9 49.5,40.2 49.7,40.1 49.8,40.3 49.9,40.1 50.2,40.3 50.3,40.1 51.2,40.5 51.4,40.4 52.0,34.4 52.2,34.0 53.3,34.8 53.6,34.7 53.8,34.8 53.9,34.7 54.2,34.8 54.3,34.6 54.5,34.6 54.8,34.6 54.9,34.5 55.3,34.9 55.8,34.9 56.1,34.6 56.2,34.6 56.5,35.0 56.8,35.1 56.9,34.9 57.0,34.9 57.2,35.2 57.4,35.3 57.6,35.1 58.0,35.3 58.2,35.0 58.4,35.6 58.6,37.8 58.9,38.1 59.0,38.1 59.5,39.1 59.6,39.1 60.4,40.3 61.1,40.7 61.5,40.8 61.6,40.7 61.8,40.9 61.9,40.8 62.1,40.9 62.2,40.7 62.5,40.8 63.1,31.6 63.2,31.6 63.4,31.8 63.5,31.7 63.9,32.0 64.2,31.9 64.3,32.1 64.9,32.2 65.0,32.3 65.3,32.2 65.5,32.3 65.9,32.1 66.3,32.3 66.5,32.3 66.7,32.4 67.1,32.5 67.2,32.6 67.3,32.5 67.4,32.6 67.7,32.4 68.4,32.6 68.6,32.5 68.7,32.6 69.2,32.2 69.3,32.2 69.4,32.6 69.5,33.5 69.7,36.9 70.7,39.9 71.1,40.4 71.2,40.8 71.6,41.4 71.7,41.5 71.9,41.4 72.0,41.7 72.1,41.6 72.7,41.8 72.9,41.8 73.0,42.1 73.1,42.0 73.3,42.3 73.6,42.4 74.1,30.5 74.2,28.2 74.3,28.0 74.6,28.1 75.6,29.1 76.2,29.2 76.3,29.2 76.6,29.2 76.8,29.6 77.1,29.8 77.3,29.5 77.4,29.5 77.6,29.8 77.8,29.7 78.0,29.6 78.4,29.6 78.6,29.5 78.7,29.3 79.1,29.0 79.2,29.0 79.3,29.1 80.2,28.8 80.3,28.9 80.5,37.3 80.7,41.7 81.0,44.1 81.2,45.3 81.5,46.5 81.7,46.9 82.2,47.0 82.5,47.4 82.8,47.5 83.1,47.5 83.2,47.3 83.4,47.6 83.7,47.7 84.3,48.4 84.5,48.5 84.7,48.5 85.1,31.9 85.3,14.1 85.8,21.4 86.3,23.9 86.7,25.0 87.4,25.3 87.7,25.6 88.4,25.6 88.6,25.7 88.9,25.5 89.1,25.7 89.3,25.6 89.5,25.8 89.8,25.7 90.2,25.8 90.3,25.6 90.7,25.6 90.9,25.4 91.3,25.5 91.4,25.5 91.7,30.1 91.9,30.5 92.3,32.1 92.5,32.7 93.6,34.9 94.3,35.5 95.1,36.7 95.3,36.9 95.5,37.2 95.8,37.4 96.4,44.8 96.5,44.8 97.5,43.9 97.8,43.9 98.0,44.1 98.2,44.0 98.5,44.1 98.6,44.0 98.7,44.0 98.9,43.9 99.2,44.1 99.5,44.1 99.9,43.7 100.6,43.9 100.7,43.7 100.9,43.6 101.3,43.7 101.9,44.4 102.6,44.6 102.8,43.5 103.0,40.6 104.2,37.8 104.8,36.9 105.0,36.8 105.6,36.3 106.0,36.2 106.2,36.0 106.5,36.0 106.6,35.8 106.8,35.9 106.9,35.8 107.2,44.9 107.4,65.6 107.8,54.3 108.0,52.0 108.5,49.9 108.8,49.1 109.3,48.9 109.6,48.6 109.9,48.7 110.4,48.6 110.6,48.8 111.0,48.9 111.4,49.1 111.5,49.0 111.6,49.1 111.8,48.9 112.0,49.1 112.8,49.0 113.0,49.2 113.3,49.2 113.4,49.1 113.5,49.2 113.6,49.1 113.7,49.2 113.9,48.0 114.1,45.1 114.7,42.4 115.5,40.0 115.8,39.3 116.0,38.9 116.4,38.9 116.8,38.3 116.9,38.4 117.3,38.3 117.4,38.4 117.5,38.4 117.6,38.5 117.8,38.4 118.0,38.2 118.6,47.9 119.1,47.3 119.2,47.4 119.6,46.9 120.0,46.9 120.1,46.8 120.6,46.8 120.8,46.9 121.0,46.6 121.4,46.7 121.5,46.6 121.6,46.7 121.7,46.6 122.0,46.7 122.4,46.5 122.6,46.5 122.7,46.6 123.1,46.4 123.4,46.8 123.6,46.7 123.7,46.4 123.9,46.5 124.1,46.5 124.4,46.7 124.7,46.7 124.9,46.3 125.2,43.9 125.5,43.0 125.9,41.5 126.4,40.5 126.6,40.3 126.7,39.9 127.5,38.9 127.8,38.8 128.1,38.5 128.5,38.5 128.7,38.8 129.0,38.7 129.1,38.8 129.7,47.7 129.9,47.8 130.1,48.1 130.5,48.0 130.6,47.9 130.8,47.8 131.0,47.6 131.6,47.8 131.9,47.5 132.7,47.8 132.9,47.7 133.2,47.4 133.3,47.5 134.0,47.5 134.2,47.7 134.5,47.7 134.7,47.7 134.9,47.4 135.5,47.3 135.7,47.1 135.9,47.2 136.1,47.2 136.3,47.0 136.5,47.2 136.6,47.2 136.7,47.3 137.2,47.1 137.5,47.1 137.7,47.3 137.9,47.3 138.0,47.2 138.1,47.3 138.5,47.0 138.8,47.0 138.9,47.1 139.3,47.0 139.6,47.1 139.8,47.4 140.0,47.3 140.2,47.5 140.5,43.5 140.7,41.6 140.9,40.4 141.1,39.8 141.2,39.7 141.4,39.6 141.8,39.3 141.9,39.4 142.1,39.2 142.3,39.3 142.4,39.2 145.8,39.2 146.3,38.7 147.0,38.6 151.3,38.6 151.8,38.1 152.4,38.0 156.9,37.9 157.4,37.1 158.2,36.9 168.0,36.9 169.2,37.1 179.1,37.1 179.6,37.3 180.4,37.4 190.2,37.4 190.7,37.8 191.4,37.9 201.3,37.9 201.8,38.4 202.9,38.5 246.9,38.5" fill="none" stroke="#e51e10" stroke-width="1.2" stroke-linejoin="round"/>
<polyline points="36.0,38.2 36.2,38.3 36.4,38.0 36.7,38.1 36.9,38.0 37.1,38.2 37.2,38.1 37.3,38.2 37.8,37.9 38.2,38.0 38.4,38.3 39.0,37.9 39.1,37.7 39.3,37.5 39.4,37.7 39.6,37.5 40.1,37.6 40.3,37.4 40.4,37.6 40.9,40.6 41.1,40.8 41.2,40.8 41.4,41.0 42.0,41.0 42.3,40.8 42.7,40.6 42.8,40.6 43.1,40.4 43.3,40.5 43.4,40.7 43.7,40.8 43.8,40.7 43.9,40.8 44.1,40.5 44.3,40.7 44.4,40.6 45.0,40.6 45.3,40.8 45.5,40.4 45.8,40.6 46.0,40.5 46.4,40.4 46.7,40.2 46.9,40.4 47.0,40.3 47.1,40.4 47.3,40.3 47.5,40.6 47.7,40.2 48.1,40.0 48.5,39.6 48.7,39.4 48.8,39.5 48.9,39.3 49.1,39.6 49.3,39.5 49.4,39.3 49.5,39.5 49.7,39.4 49.9,39.5 50.3,39.2 50.4,39.3 51.1,39.2 51.3,39.0 51.4,39.2 51.9,37.5 52.0,37.2 52.1,37.1 52.2,37.3 52.5,37.2 52.6,37.1 52.9,37.2 53.1,37.1 53.4,37.2 53.5,37.2 53.8,37.2 53.9,37.0 54.3,37.0 54.6,37.5 55.3,36.9 55.6,37.0 55.8,36.9 56.4,37.0 56.6,36.9 56.8,37.0 57.2,36.9 57.4,36.9 57.5,36.7 57.8,36.9 58.1,36.8 58.3,37.1 58.6,38.9 59.1,38.9 59.4,39.1 59.8,39.5 59.9,39.5 60.1,39.7 60.3,39.6 60.5,39.7 60.6,39.9 61.0,39.5 61.1,39.4 61.2,39.6 61.3,39.5 61.5,39.6 61.8,39.8 62.0,39.8 62.1,40.0 62.2,39.9 62.3,40.0 62.5,40.0 63.1,34.1 63.3,33.9 63.5,33.9 63.6,34.0 63.9,33.9 64.0,34.0 64.1,33.9 64.3,34.2 64.4,34.1 64.6,34.3 64.7,34.2 65.0,34.4 65.2,34.4 65.4,34.6 65.5,34.6 65.6,34.5 66.2,34.3 66.3,34.3 66.6,34.2 66.7,34.3 67.0,34.1 67.1,34.2 67.3,34.2 67.5,34.0 67.9,34.2 68.1,34.1 68.2,34.2 68.4,34.1 68.7,34.2 69.0,34.1 69.2,33.8 69.4,34.3 69.5,34.9 69.7,37.0 69.9,37.1 70.0,37.1 70.9,38.8 71.1,38.9 71.2,38.8 71.4,39.1 71.7,39.2 71.9,39.4 72.1,39.4 72.6,39.9 72.7,39.9 73.0,40.0 73.2,40.0 73.5,40.3 73.6,40.3 74.2,31.3 74.4,31.0 74.5,31.1 74.7,31.0 74.8,31.1 75.1,31.5 75.2,31.4 75.3,31.6 75.8,31.5 76.2,31.8 76.3,31.6 76.4,31.6 76.5,31.5 76.6,31.6 76.7,31.6 77.0,31.8 77.2,31.8 77.4,31.5 77.6,31.7 78.0,31.9 78.2,31.9 78.3,31.7 78.5,32.0 78.7,32.0 79.3,31.9 79.6,32.0 80.2,31.7 80.3,31.9 80.4,31.7 80.6,32.9 80.8,36.2 81.5,38.4 81.8,38.9 82.0,38.9 82.2,39.6 82.3,39.7 82.5,40.1 82.6,40.5 83.0,40.7 83.4,41.1 83.5,41.1 83.7,41.3 84.0,41.2 84.5,41.6 84.6,41.5 84.7,41.6 85.3,27.6 85.4,27.4 85.6,27.7 86.2,27.9 86.6,28.6 86.8,28.6 87.1,28.9 87.4,28.9 87.8,28.7 88.4,29.0 88.5,28.8 88.7,28.8 89.1,29.1 89.2,29.0 89.3,29.1 89.5,29.1 89.8,28.9 90.1,28.9 90.3,28.9 90.4,29.0 90.6,28.7 90.8,28.9 91.2,28.6 91.3,28.7 91.4,28.6 91.7,39.3 91.9,42.5 92.2,44.1 92.4,45.1 93.1,46.4 93.5,46.5 93.8,46.9 94.1,46.8 94.3,46.9 94.4,46.8 94.5,47.0 94.6,47.0 94.7,47.3 94.9,47.4 95.1,47.6 95.4,47.6 95.7,47.8 95.8,47.7 96.1,37.3 96.4,13.2 96.8,19.6 97.1,21.4 97.4,23.2 97.8,24.1 98.2,24.5 98.4,24.5 98.5,24.6 98.6,24.6 99.0,24.9 99.2,24.7 99.5,24.8 99.6,25.0 99.7,25.1 100.0,24.8 100.4,25.3 100.9,25.4 101.0,25.2 101.2,25.2 101.4,25.3 101.6,25.6 101.7,25.5 101.8,25.7 102.0,25.7 102.2,25.9 102.5,25.6 102.8,30.1 102.9,30.4 103.0,30.4 103.4,32.4 103.8,33.9 103.9,34.2 104.3,34.6 104.7,35.3 105.7,36.3 106.0,36.9 106.2,36.9 106.9,37.7 107.5,44.7 107.8,44.7 108.0,44.4 108.2,44.4 108.4,44.2 108.6,44.4 109.0,43.8 109.1,43.8 109.3,44.0 109.5,43.7 109.9,43.9 110.3,43.7 110.4,43.9 110.6,43.9 111.1,43.6 111.4,43.7 111.6,43.5 111.9,43.8 112.1,43.8 112.8,44.4 113.1,44.3 113.3,44.5 113.4,44.4 113.5,44.4 113.7,44.3 113.8,44.1 113.9,43.3 114.1,40.5 114.5,39.9 115.1,38.0 115.6,37.4 115.7,37.0 115.9,36.9 116.0,36.7 116.1,36.7 116.6,36.4 116.8,36.4 117.1,36.1 117.4,36.4 117.5,36.3 118.0,35.9 118.3,45.0 118.5,66.0 118.9,54.2 119.1,51.6 119.5,49.9 120.0,49.1 120.2,49.1 120.5,48.9 120.6,49.0 120.8,48.9 121.0,49.1 121.2,48.9 121.5,48.9 122.0,48.7 122.2,48.7 122.4,48.9 122.5,48.7 123.2,49.1 123.4,48.9 123.8,48.8 124.1,48.8 124.4,48.7 124.8,48.9 125.0,47.7 125.2,45.0 126.2,40.6 127.0,39.2 127.2,39.0 127.4,38.8 127.8,38.7 128.2,38.4 128.4,38.1 129.1,38.1 129.7,50.2 129.8,50.4 130.1,50.6 130.2,50.6 130.7,50.1 130.8,50.2 131.0,50.1 131.2,49.8 131.6,50.0 131.8,50.0 131.9,49.8 132.3,49.6 132.5,49.7 132.7,49.5 133.0,49.7 133.2,49.7 133.3,49.8 133.6,49.8 133.8,49.5 134.0,49.5 134.2,49.8 134.6,49.6 134.7,49.7 134.9,49.4 135.0,49.5 135.1,49.4 135.3,49.5 135.5,49.5 135.6,49.6 135.7,49.5 136.0,49.5 136.1,49.6 136.2,49.6 136.3,49.7 136.6,49.6 136.9,49.6 137.2,49.8 137.7,49.8 137.8,49.9 138.2,49.7 138.5,49.7 138.9,50.0 139.2,50.1 139.9,49.6 140.0,49.8 140.2,49.7 140.6,43.7 140.9,41.6 141.3,40.5 141.7,40.6 142.3,40.0 142.6,40.1 145.8,40.1 146.2,39.9 146.8,39.8 151.3,39.7 151.8,39.4 152.3,39.3 156.9,39.2 157.4,38.7 158.1,38.6 168.0,38.6 168.3,38.0 168.6,37.7 169.1,37.6 169.9,37.5 179.1,37.5 180.3,37.7 190.2,37.7 190.7,37.9 191.4,38.0 201.3,38.0 201.8,38.4 202.9,38.5 246.9,38.5" fill="none" stroke="#0072b2" stroke-width="1.2" stroke-linejoin="round"/>
<polyline points="36.0,39.1 36.2,38.5 36.4,37.4 36.7,37.5 36.8,37.6 37.2,37.2 37.8,37.3 38.3,36.7 38.9,36.8 39.2,36.6 39.4,36.4 39.8,36.7 40.1,36.6 40.3,36.7 40.9,42.9 41.4,42.6 42.0,42.8 42.2,42.5 42.3,42.7 42.5,42.7 42.9,42.5 43.1,42.6 43.2,42.5 43.4,42.6 43.8,42.4 44.0,42.3 44.5,42.6 44.8,42.5 45.2,42.6 45.3,42.4 45.5,42.6 45.9,42.5 46.0,42.7 46.1,42.5 46.3,42.5 46.5,42.5 46.8,42.4 47.1,42.6 47.3,42.1 47.5,41.0 47.9,40.1 48.4,38.9 48.5,39.0 48.7,38.8 49.1,38.6 49.3,38.2 50.1,37.7 50.8,38.0 50.9,37.8 51.2,37.9 51.4,37.8 51.5,37.9 52.0,40.3 52.4,39.9 53.1,40.0 53.2,40.1 53.5,40.0 53.6,40.1 54.0,39.9 54.2,40.0 54.4,39.9 54.5,40.0 54.8,39.8 55.2,39.9 55.3,40.0 55.8,40.0 56.2,40.3 56.9,40.1 57.1,40.4 57.4,40.3 57.5,40.4 57.6,40.2 57.9,40.4 58.0,40.3 58.3,40.2 58.5,40.2 58.8,39.9 59.1,39.6 59.3,39.1 59.9,38.7 60.3,38.7 60.6,38.7 60.9,38.6 61.4,38.7 61.6,38.9 62.1,38.6 62.2,38.7 62.5,38.5 63.1,36.7 63.5,36.4 63.8,36.4 63.9,36.6 64.1,36.4 64.3,36.5 64.4,36.3 64.6,36.2 64.9,36.3 65.0,36.2 65.3,36.5 65.5,36.4 65.6,36.7 65.7,36.7 66.1,36.4 66.2,36.4 66.3,36.5 66.9,36.5 67.3,37.0 67.4,36.8 67.5,36.9 67.9,36.6 68.5,36.7 68.6,36.6 68.7,36.7 69.0,36.5 69.2,36.4 69.4,36.6 69.7,38.2 70.1,38.1 70.3,38.3 70.6,38.3 71.2,38.9 71.3,38.8 71.4,38.9 71.9,38.9 72.7,39.5 73.2,39.1 73.3,39.1 73.4,39.2 73.6,39.0 74.2,33.5 74.5,33.2 75.3,33.6 75.6,33.5 75.8,33.7 76.0,33.6 76.1,33.8 76.3,33.7 76.5,33.9 76.7,33.9 76.8,33.6 77.0,33.8 77.2,33.8 77.4,34.0 78.1,33.7 78.3,33.9 78.4,33.8 78.7,33.7 78.8,33.8 79.0,33.8 79.4,33.9 79.5,33.8 79.6,33.9 80.1,33.8 80.4,33.9 80.5,34.0 80.6,34.6 80.8,37.0 81.6,38.2 82.0,38.5 82.2,38.5 82.3,38.5 82.5,39.0 83.0,39.4 83.2,39.3 84.0,39.8 84.3,39.5 84.5,39.5 84.7,39.7 85.3,30.8 85.4,30.9 85.6,30.8 85.7,30.9 85.8,30.9 86.1,31.1 86.3,31.1 86.9,31.2 87.2,31.1 87.3,31.2 87.7,31.4 87.8,31.2 87.9,31.3 88.3,31.2 88.5,31.4 89.1,31.3 89.2,31.4 89.5,31.3 89.9,31.5 90.1,31.5 90.2,31.5 90.4,31.8 90.6,31.6 91.1,31.6 91.5,31.4 91.7,32.8 91.9,36.0 92.3,36.6 92.8,38.3 93.7,39.9 94.3,40.4 94.5,40.8 94.8,40.9 95.2,41.3 95.4,41.2 95.5,41.2 95.8,41.1 96.4,27.0 96.7,27.0 97.5,27.7 97.8,28.2 97.9,28.1 98.0,28.2 98.3,28.0 99.0,28.4 99.4,28.3 99.6,28.4 99.8,28.3 99.9,28.4 100.2,28.3 100.3,28.4 100.8,28.4 101.2,28.6 101.4,28.5 101.7,28.8 101.8,28.7 101.9,28.8 102.0,28.7 102.3,28.7 102.5,28.6 102.8,39.5 103.2,43.7 103.4,45.0 103.7,46.0 103.9,46.2 104.3,46.3 104.4,46.3 104.9,46.9 105.0,46.9 105.2,46.8 105.4,47.0 105.5,46.9 105.6,47.2 106.2,47.4 106.4,47.8 106.6,47.9 106.7,47.9 106.9,48.1 107.3,31.2 107.5,13.4 107.7,17.1 108.0,20.6 108.4,22.5 108.7,23.8 109.1,24.5 109.3,24.6 109.5,24.9 109.6,24.9 109.9,25.1 110.3,24.9 110.9,25.1 111.7,24.8 112.0,25.1 112.1,25.1 112.3,25.3 112.6,25.3 112.8,25.4 113.3,25.4 113.5,25.6 113.6,25.6 113.9,30.2 114.1,30.4 114.8,33.5 115.3,34.4 115.5,34.6 115.6,34.9 116.3,35.5 116.9,36.8 117.3,37.0 117.4,37.3 117.8,37.3 118.0,37.4 118.6,44.8 119.1,44.4 119.5,44.3 119.7,44.1 119.8,44.2 120.0,43.9 120.4,44.0 120.5,43.8 120.7,43.8 120.8,43.9 121.4,44.0 121.5,44.1 121.8,44.0 121.9,43.8 122.1,44.0 122.4,43.8 122.7,43.8 123.4,43.6 123.6,43.6 124.1,44.4 124.8,44.5 125.0,43.3 125.2,40.5 125.7,39.7 126.1,38.4 126.8,37.0 126.9,36.8 127.1,36.9 127.4,36.6 127.5,36.7 127.9,36.2 128.1,36.3 128.4,36.1 128.9,36.2 129.1,36.1 129.4,46.2 129.6,67.6 130.0,56.5 130.3,53.4 130.6,52.4 130.8,51.9 131.0,51.8 131.2,51.4 131.5,51.4 131.6,51.2 131.9,51.2 132.1,51.0 132.3,51.1 132.9,50.8 133.3,50.8 133.6,51.1 133.7,50.8 133.8,50.8 134.0,50.9 134.1,50.9 134.2,51.0 134.5,50.9 134.6,51.0 134.9,51.0 135.0,51.0 135.1,50.9 135.9,51.4 136.2,51.3 136.6,51.3 136.8,51.4 137.3,51.0 138.6,51.2 138.7,51.1 138.8,51.2 138.9,51.1 139.1,51.3 139.3,51.2 140.1,51.8 140.2,51.8 140.5,46.6 140.8,42.9 141.0,41.6 141.2,41.1 141.8,40.6 145.8,40.6 146.8,40.4 151.3,40.4 151.8,40.2 152.3,40.1 156.9,40.1 157.4,39.8 158.1,39.7 168.0,39.7 168.5,39.2 169.3,39.1 179.1,39.1 179.4,38.5 179.7,38.2 180.2,38.1 180.9,38.0 190.2,38.0 191.4,38.2 201.3,38.2 201.9,38.4 203.1,38.5 246.9,38.5" fill="none" stroke="#f0e442" stroke-width="1.2" stroke-linejoin="round"/>
<polyline points="36.0,38.6 36.1,38.3 36.3,32.9 36.8,35.7 37.0,39.8 37.3,37.7 37.6,37.0 38.1,36.4 38.3,36.0 38.4,36.0 38.9,35.7 39.1,35.6 39.3,35.7 39.6,35.5 40.0,35.6 40.3,35.6 40.8,43.6 41.0,50.3 41.2,47.6 41.4,46.3 41.7,42.1 41.8,42.8 42.1,43.9 42.2,44.2 42.5,44.4 42.9,44.4 43.3,44.6 43.7,44.5 43.8,44.6 44.1,44.7 44.8,44.3 45.1,44.6 45.5,44.4 46.2,44.9 46.7,44.8 46.9,44.5 47.1,44.4 47.2,44.1 47.4,47.0 47.5,44.4 47.9,41.3 48.1,36.5 48.4,37.8 48.7,37.9 49.1,37.6 49.7,37.4 49.9,37.2 50.3,37.1 50.7,36.9 50.8,36.6 51.1,36.9 51.3,36.8 51.4,36.8 51.9,41.5 52.1,37.9 52.3,40.5 52.5,41.6 52.8,45.4 52.9,44.5 53.2,43.0 53.8,42.3 53.9,42.5 54.1,42.3 54.3,42.3 54.6,42.2 55.0,42.4 55.4,42.1 55.6,42.3 56.0,42.1 56.1,41.9 56.5,42.2 56.6,42.1 57.1,42.0 57.2,42.1 57.5,41.8 57.8,41.8 58.0,42.1 58.2,42.1 58.3,41.7 58.5,36.9 58.8,38.5 59.0,39.2 59.2,42.5 59.5,39.9 59.8,38.9 60.0,38.4 60.1,38.4 60.3,38.0 60.4,38.0 60.6,37.9 60.8,38.0 61.0,37.9 61.4,37.9 62.1,37.6 62.3,37.7 62.5,37.6 62.6,37.6 63.0,39.6 63.2,44.9 63.4,42.0 63.6,40.7 63.9,36.7 64.1,38.1 64.3,38.8 64.7,39.4 64.9,39.4 65.0,39.5 65.3,39.6 65.4,39.4 65.7,39.6 66.1,39.4 66.3,39.8 66.5,39.7 66.6,39.8 67.2,39.7 67.4,39.9 67.7,39.8 67.9,39.9 68.0,39.9 68.1,39.8 68.4,40.2 68.7,40.3 68.9,40.1 69.4,40.1 69.6,44.4 70.1,40.1 70.3,35.8 70.5,37.2 70.7,38.0 71.0,38.4 71.5,38.2 71.7,38.2 71.9,38.1 72.2,38.3 72.4,38.3 72.7,38.7 73.0,38.7 73.3,38.4 73.6,38.4 74.1,36.6 74.3,31.3 74.5,34.0 74.7,35.0 75.0,39.4 75.3,37.4 75.8,36.2 76.0,36.1 76.2,36.2 76.5,36.0 76.6,36.2 76.7,36.1 76.8,36.3 77.1,36.3 77.2,36.4 77.5,36.1 77.8,36.5 78.0,36.3 78.2,36.4 78.3,36.2 78.5,36.2 78.7,36.1 78.8,36.3 79.1,36.3 79.2,36.5 79.8,36.1 80.2,36.3 80.5,36.1 80.7,32.7 80.8,34.9 81.2,37.0 81.4,41.2 81.7,39.3 81.8,39.0 82.2,38.7 82.4,38.9 82.6,38.8 82.8,38.6 83.2,38.9 83.3,38.8 83.6,39.2 84.2,39.1 84.6,39.4 84.7,39.3 85.2,34.5 85.4,38.1 85.6,35.3 85.8,33.9 86.1,29.9 86.3,31.6 86.6,32.4 86.8,32.7 87.3,32.8 87.5,33.1 87.6,33.1 87.8,33.2 88.2,33.2 88.4,33.4 88.6,33.4 88.8,33.5 88.9,33.7 89.2,33.4 89.4,33.4 89.6,33.2 89.7,33.3 90.2,33.2 90.3,33.4 90.5,33.2 90.8,33.4 91.1,33.1 91.3,33.4 91.5,33.3 91.6,33.4 91.8,39.3 92.2,37.6 92.3,37.4 92.5,33.9 92.8,36.6 93.1,37.5 93.4,38.1 93.6,38.3 93.7,38.3 93.9,38.5 94.2,38.5 94.4,38.8 94.7,38.6 94.8,38.8 95.3,39.3 95.4,39.1 95.5,39.2 95.8,39.3 96.3,31.8 96.5,25.4 96.7,28.0 96.9,29.2 97.2,33.5 97.4,32.1 97.7,31.1 97.9,31.2 98.5,30.9 98.6,31.0 98.7,30.9 99.0,31.0 99.3,30.7 99.5,30.9 99.7,30.9 99.9,31.1 100.2,30.8 100.5,31.0 100.7,30.8 100.9,31.2 101.4,30.7 101.6,30.8 101.7,31.0 102.3,30.9 102.5,31.1 102.6,31.0 102.7,31.3 102.9,29.3 103.0,32.7 103.4,35.4 103.6,40.3 103.8,39.2 103.9,39.0 104.3,39.4 104.6,39.6 105.4,40.6 105.5,40.6 106.0,41.0 106.5,40.9 106.9,41.2 107.4,29.6 107.5,29.5 107.6,31.7 107.8,29.2 108.0,28.2 108.3,24.4 108.6,26.7 108.9,27.5 109.0,27.5 109.4,28.0 109.8,27.9 109.9,28.1 110.3,28.1 110.4,28.3 111.5,28.0 112.0,28.4 112.1,28.4 112.5,28.2 112.9,28.5 113.0,28.4 113.3,28.7 113.6,28.8 114.0,45.9 114.3,45.6 114.5,45.8 114.7,42.5 114.9,44.6 115.4,46.4 115.5,46.5 115.9,46.6 116.3,47.0 117.0,47.6 117.1,47.5 117.4,47.5 117.5,47.4 117.8,47.5 117.9,47.4 118.0,47.5 118.4,31.0 118.6,11.3 118.7,11.0 119.4,25.8 119.6,25.2 119.9,24.7 120.2,24.8 120.4,24.7 120.6,24.8 120.7,24.7 120.9,25.0 121.0,24.9 121.2,24.9 121.4,25.1 121.7,25.3 121.9,24.9 122.2,25.1 122.4,25.3 122.7,25.1 122.8,25.2 123.0,25.1 123.2,25.4 123.4,25.3 123.7,25.2 123.9,25.5 124.4,25.6 124.5,25.8 124.7,25.7 124.9,29.3 125.1,26.1 125.6,31.4 125.8,36.3 126.1,34.9 126.4,34.5 126.8,34.8 127.0,35.1 127.4,35.4 127.5,35.4 127.7,35.8 127.9,36.0 128.0,36.4 128.4,36.5 128.9,37.2 129.1,37.3 129.2,35.9 129.5,34.8 129.6,35.5 129.8,40.1 130.0,36.7 130.2,35.0 130.5,30.8 130.8,32.5 131.0,33.0 131.2,33.1 131.6,33.4 131.9,33.4 132.7,33.9 132.8,34.0 133.0,33.6 133.3,33.9 133.6,33.7 133.8,33.8 133.9,33.6 134.1,33.8 134.3,33.6 134.5,33.7 134.6,33.7 134.8,33.8 134.9,34.1 135.0,34.0 135.5,34.6 135.8,34.4 136.0,34.4 136.3,34.7 136.9,34.3 137.1,34.5 137.2,34.4 137.3,34.5 137.6,34.3 137.7,34.4 137.9,33.9 138.8,34.2 139.0,34.1 139.2,34.3 139.7,34.2 139.9,34.5 140.2,34.3 140.5,38.9 140.7,47.7 140.9,44.2 141.2,41.9 141.4,41.3 141.8,41.0 142.0,40.9 142.1,41.0 142.6,40.7 151.3,40.8 152.3,40.6 156.9,40.6 158.0,40.4 168.0,40.4 168.5,40.1 169.3,40.1 179.1,40.1 179.6,39.5 180.3,39.4 190.2,39.4 190.5,38.8 190.8,38.5 191.3,38.4 192.0,38.3 201.3,38.3 201.9,38.5 203.1,38.5 246.9,38.5" fill="none" stroke="#b0b0b0" stroke-width="0.7" stroke-linejoin="round" stroke-dasharray="1.2 0.8"/>
<path d="M36.0 38.6h0M36.9 37.8h0M37.8 36.8h0M38.7 35.9h0M39.6 35.5h0M40.4 37.8h0M41.3 46.8h0M42.2 44.2h0M43.1 44.4h0M44.0 44.7h0M44.9 44.5h0M45.8 44.6h0M46.7 44.8h0M47.5 44.4h0M48.4 37.8h0M49.3 37.5h0M50.2 37.1h0M51.1 36.9h0M52.0 40.2h0M52.9 44.5h0M53.8 42.3h0M54.6 42.2h0M55.5 42.2h0M56.4 42.1h0M57.3 42.0h0M58.2 42.1h0M59.1 40.8h0M60.0 38.4h0M60.9 37.9h0M61.8 37.8h0M62.6 37.6h0M63.5 41.3h0M64.4 39.0h0M65.3 39.6h0M66.2 39.5h0M67.1 39.8h0M68.0 39.9h0M68.9 40.1h0M69.7 42.9h0M70.6 37.6h0M71.5 38.2h0M72.4 38.3h0M73.3 38.4h0M74.2 33.9h0M75.1 38.6h0M76.0 36.1h0M76.8 36.3h0M77.7 36.3h0M78.6 36.2h0M79.5 36.3h0M80.4 36.1h0M81.3 39.0h0M82.2 38.7h0M83.1 38.8h0M84.0 39.1h0M84.8 38.0h0M85.7 34.6h0M86.6 32.4h0M87.5 33.1h0M88.4 33.4h0M89.3 33.4h0M90.2 33.2h0M91.1 33.1h0M91.9 38.9h0M92.8 36.6h0M93.7 38.3h0M94.6 38.7h0M95.5 39.2h0M96.4 27.8h0M97.3 32.7h0M98.2 31.0h0M99.0 31.0h0M99.9 31.1h0M100.8 30.9h0M101.7 31.0h0M102.6 31.0h0M103.5 37.8h0M104.4 39.4h0M105.3 40.5h0M106.2 41.0h0M107.0 38.0h0M107.9 28.6h0M108.8 27.2h0M109.7 28.0h0M110.6 28.2h0M111.5 28.0h0M112.4 28.3h0M113.3 28.7h0M114.1 45.7h0M115.0 45.1h0M115.9 46.6h0M116.8 47.4h0M117.7 47.5h0M118.6 11.3h0M119.5 25.5h0M120.4 24.7h0M121.2 24.9h0M122.1 25.1h0M123.0 25.1h0M123.9 25.5h0M124.8 27.9h0M125.7 34.0h0M126.6 34.6h0M127.5 35.4h0M128.4 36.5h0M129.2 35.9h0M130.1 35.6h0M131.0 33.0h0M131.9 33.4h0M132.8 34.0h0M133.7 33.8h0M134.6 33.7h0M135.5 34.6h0M136.3 34.7h0M137.2 34.4h0M138.1 34.0h0M139.0 34.1h0M139.9 34.5h0M140.8 45.7h0M141.7 41.2h0M142.6 40.7h0M143.4 40.7h0M144.3 40.7h0M145.2 40.7h0M146.1 40.8h0M147.0 40.8h0M147.9 40.8h0M148.8 40.8h0M149.7 40.8h0M150.6 40.8h0M151.4 40.8h0M152.3 40.6h0M153.2 40.6h0M154.1 40.6h0M155.0 40.6h0M155.9 40.6h0M156.8 40.6h0M157.7 40.5h0M158.5 40.4h0M159.4 40.4h0M160.3 40.4h0M161.2 40.4h0M162.1 40.4h0M163.0 40.4h0M163.9 40.4h0M164.8 40.4h0M165.6 40.4h0M166.5 40.4h0M167.4 40.4h0M168.3 40.2h0M169.2 40.1h0M170.1 40.1h0M171.0 40.1h0M171.9 40.1h0M172.8 40.1h0M173.6 40.1h0M174.5 40.1h0M175.4 40.1h0M176.3 40.1h0M177.2 40.1h0M178.1 40.1h0M179.0 40.1h0M179.9 39.5h0M180.7 39.4h0M181.6 39.4h0M182.5 39.4h0M183.4 39.4h0M184.3 39.4h0M185.2 39.4h0M186.1 39.4h0M187.0 39.4h0M187.8 39.4h0M188.7 39.4h0M189.6 39.4h0M190.5 38.8h0M191.4 38.4h0M192.3 38.3h0M193.2 38.3h0M194.1 38.3h0M195.0 38.3h0M195.8 38.3h0M196.7 38.3h0M197.6 38.3h0M198.5 38.3h0M199.4 38.3h0M200.3 38.3h0M201.2 38.3h0M202.1 38.5h0M202.9 38.5h0M203.8 38.5h0M204.7 38.5h0M205.6 38.5h0M206.5 38.5h0M207.4 38.5h0M208.3 38.5h0M209.2 38.5h0M210.0 38.5h0M210.9 38.5h0M211.8 38.5h0M212.7 38.5h0M213.6 38.5h0M214.5 38.5h0M215.4 38.5h0M216.3 38.5h0M217.2 38.5h0M218.0 38.5h0M218.9 38.5h0M219.8 38.5h0M220.7 38.5h0M221.6 38.5h0M222.5 38.5h0M223.4 38.5h0M224.3 38.5h0M225.1 38.5h0M226.0 38.5h0M226.9 38.5h0M227.8 38.5h0M228.7 38.5h0M229.6 38.5h0M230.5 38.5h0M231.4 38.5h0M232.2 38.5h0M233.1 38.5h0M234.0 38.5h0M234.9 38.5h0M235.8 38.5h0M236.7 38.5h0M237.6 38.5h0M238.5 38.5h0M239.4 38.5h0M240.2 38.5h0M241.1 38.5h0M242.0 38.5h0M242.9 38.5h0M243.8 38.5h0M244.7 38.5h0M245.6 38.5h0M246.5 38.5h0" stroke="#000" stroke-width="1.24" stroke-linecap="round" fill="none"/>
<polyline points="36.0,38.3 36.1,38.3 36.3,41.1 36.4,38.4 36.8,36.6 37.0,32.7 37.2,34.3 37.4,35.2 37.7,35.4 37.9,35.5 38.0,35.4 38.2,35.5 38.3,35.3 38.4,35.4 38.7,35.2 38.9,34.9 39.0,35.0 39.1,34.9 39.7,34.9 39.8,34.7 40.3,34.6 40.8,45.4 40.9,45.4 41.0,43.1 41.2,45.5 41.4,46.5 41.7,50.4 42.1,47.8 42.5,46.9 43.0,46.6 43.1,46.8 43.3,46.8 43.4,46.9 43.5,46.8 43.8,46.9 44.1,46.8 44.3,46.9 44.4,46.8 44.7,46.7 44.8,46.8 45.1,46.5 45.3,46.5 45.4,46.6 45.9,46.3 46.4,46.7 46.7,46.5 46.9,46.8 47.1,46.8 47.2,46.5 47.4,39.7 47.5,39.8 47.8,40.4 47.9,40.3 48.1,43.3 48.7,38.9 49.2,37.0 49.7,36.3 49.8,36.2 49.9,36.4 50.1,36.3 50.4,35.9 50.5,36.1 50.8,35.8 50.9,35.8 51.0,35.7 51.1,35.8 51.3,35.5 51.4,35.7 51.9,43.6 52.1,50.1 52.3,47.3 52.5,46.1 52.8,41.9 53.1,43.8 53.5,44.5 53.8,44.6 54.0,44.7 54.6,44.2 55.0,44.2 55.3,44.3 55.5,44.2 55.8,44.4 56.0,44.1 56.8,44.4 57.5,44.3 57.8,44.5 58.0,44.5 58.3,44.1 58.5,46.8 58.6,44.4 59.0,41.4 59.2,36.4 59.4,37.3 59.6,37.6 59.9,37.4 60.4,37.1 60.5,37.2 60.6,37.0 60.9,37.1 61.2,36.8 61.4,36.8 61.6,36.6 61.9,36.7 62.1,36.5 62.2,36.7 62.4,36.5 62.5,36.3 63.0,41.3 63.2,37.8 63.4,40.5 63.6,41.4 63.9,45.3 64.1,43.7 64.3,42.9 64.6,42.3 65.0,42.1 65.1,42.1 65.3,42.0 65.5,42.1 65.6,42.0 66.1,42.0 66.2,41.9 66.7,42.2 66.9,42.1 67.1,42.2 67.2,42.0 67.3,42.2 67.6,42.0 68.2,42.0 68.4,42.1 68.6,42.0 68.7,42.1 68.9,41.9 69.0,42.1 69.3,42.1 69.4,41.8 69.6,36.9 69.9,38.6 70.1,39.0 70.3,42.4 70.7,39.3 71.3,38.3 71.7,37.6 72.1,37.7 72.3,37.4 72.6,37.4 72.7,37.3 73.0,37.4 73.2,37.3 73.3,37.3 73.6,37.2 74.1,39.5 74.3,44.7 74.5,41.9 74.7,40.7 75.0,36.8 75.2,38.2 75.3,38.4 75.4,38.4 75.7,39.1 75.8,39.0 76.0,39.3 76.2,39.4 76.3,39.6 76.5,39.6 76.8,39.4 77.0,39.6 77.2,39.6 77.5,39.4 77.6,39.4 78.0,39.4 78.4,39.7 78.7,39.6 78.8,39.5 79.2,39.6 79.3,39.4 79.7,39.5 80.1,39.4 80.3,39.7 80.5,39.6 80.7,44.0 81.0,41.3 81.2,39.9 81.4,36.0 81.7,37.6 82.1,38.2 82.2,38.3 82.6,38.2 82.8,38.4 83.0,38.3 83.2,38.5 83.4,38.4 83.5,38.3 83.8,38.4 84.0,38.3 84.4,38.3 84.6,38.5 84.7,38.4 85.2,36.5 85.4,31.6 85.6,34.2 85.8,35.3 86.1,39.4 86.3,37.7 86.5,37.0 86.8,36.4 86.9,36.4 87.1,36.5 87.4,36.1 87.5,36.1 87.6,36.2 87.8,36.1 88.2,36.3 88.4,36.2 88.5,36.3 88.7,36.2 89.1,36.3 89.3,36.1 89.5,36.2 89.9,35.9 90.1,36.0 90.3,35.9 90.6,36.0 90.7,36.0 90.9,36.0 91.1,35.9 91.2,36.2 91.4,36.1 91.6,36.3 91.8,33.0 91.9,35.2 92.3,37.2 92.5,41.1 92.8,39.2 93.1,38.8 93.4,38.5 93.9,38.5 94.2,38.8 94.5,39.0 94.6,39.2 94.8,39.2 94.9,39.3 95.2,39.3 95.5,39.0 95.7,39.2 95.8,39.2 96.3,34.0 96.5,38.0 96.7,35.1 96.9,33.9 97.2,29.9 97.5,31.8 97.8,32.7 98.0,32.9 98.2,32.9 98.6,33.2 98.7,33.1 98.8,33.2 98.9,33.1 99.0,33.3 99.6,33.4 99.9,33.2 100.4,33.5 100.5,33.3 100.8,33.2 101.2,33.4 101.6,33.5 101.7,33.3 101.9,33.2 102.0,33.4 102.2,33.3 102.3,33.4 102.6,33.3 102.7,33.5 102.9,39.5 103.4,37.8 103.6,34.2 104.0,37.0 104.4,38.0 104.6,38.1 104.8,38.5 104.9,38.5 105.7,39.2 106.4,39.4 106.5,39.5 106.7,39.5 106.8,39.3 106.9,39.5 107.4,32.1 107.6,25.8 107.8,28.5 108.0,29.6 108.3,33.7 108.5,32.3 108.7,31.5 108.9,31.2 109.4,30.9 110.3,31.0 111.1,30.8 111.5,30.5 111.7,30.5 112.1,30.8 112.3,31.0 112.4,30.9 112.5,31.0 112.6,31.0 113.0,31.3 113.3,31.1 113.4,31.3 113.5,31.1 113.7,31.1 113.8,31.3 114.0,29.9 114.1,33.1 114.5,35.7 114.7,40.7 114.9,39.5 115.1,39.4 115.4,39.5 115.5,39.8 115.8,40.1 115.9,40.3 116.3,40.7 116.4,40.6 116.5,40.7 116.7,40.6 117.1,41.1 117.5,41.0 117.8,41.1 117.9,40.9 118.0,41.1 118.5,29.7 118.6,29.4 118.7,31.7 118.9,29.1 119.1,28.2 119.4,24.4 119.8,26.9 120.0,27.5 120.5,28.0 121.1,28.0 121.2,28.2 121.4,28.1 121.6,28.3 121.7,28.3 121.8,28.2 122.1,28.1 122.2,28.2 122.7,28.0 122.9,28.0 123.0,28.0 123.2,28.3 123.5,28.3 123.6,28.3 123.9,28.7 124.0,28.6 124.4,28.6 124.7,28.8 125.1,45.7 125.4,45.4 125.5,45.4 125.6,45.6 125.8,42.2 126.1,44.6 126.5,45.8 126.8,46.4 127.1,46.9 127.5,47.1 127.6,47.1 127.7,47.2 127.9,47.2 128.0,47.4 128.7,47.5 129.1,47.9 129.5,31.2 129.7,11.4 129.8,11.3 130.5,25.7 130.7,25.2 130.9,25.0 131.2,24.8 131.5,25.0 131.6,25.2 131.9,25.1 132.1,25.3 132.7,25.0 133.1,25.4 133.2,25.3 133.5,25.4 133.6,25.4 133.8,25.5 133.9,25.4 134.0,25.5 134.2,25.5 134.3,25.5 134.6,25.5 134.7,25.3 135.1,25.9 135.9,25.9 136.2,26.1 136.3,26.0 136.6,26.1 136.9,25.8 137.2,25.9 137.5,25.8 137.7,26.0 138.1,25.7 138.5,25.7 138.7,25.5 139.1,25.6 139.3,25.4 139.6,25.5 140.2,25.3 140.6,33.6 140.9,36.9 141.2,38.0 142.1,38.7 142.4,38.6 142.6,38.9 145.8,38.9 146.2,39.4 146.9,39.7 151.3,39.7 151.9,40.5 152.7,40.7 168.0,40.8 169.2,40.6 179.1,40.6 179.6,40.3 180.4,40.2 190.2,40.2 190.7,39.7 191.6,39.6 201.3,39.5 201.8,38.7 202.3,38.6 202.9,38.5 246.9,38.5" fill="none" stroke="#000000" stroke-width="1.25" stroke-linejoin="round"/>
<rect x="36" y="7" width="222.00" height="63.00" fill="none" stroke="#6a6a6a" stroke-width="0.6"/>
<path d="M58.20 70v-2.0M58.20 7v2.0M80.40 70v-2.0M80.40 7v2.0M102.60 70v-2.0M102.60 7v2.0M124.80 70v-2.0M124.80 7v2.0M147.00 70v-2.0M147.00 7v2.0M169.20 70v-2.0M169.20 7v2.0M191.40 70v-2.0M191.40 7v2.0M213.60 70v-2.0M213.60 7v2.0M235.80 70v-2.0M235.80 7v2.0M36 62.12h2.0M258 62.12h-2.0M36 54.25h2.0M258 54.25h-2.0M36 46.38h2.0M258 46.38h-2.0M36 38.50h2.0M258 38.50h-2.0M36 30.62h2.0M258 30.62h-2.0M36 22.75h2.0M258 22.75h-2.0M36 14.88h2.0M258 14.88h-2.0" stroke="#6a6a6a" stroke-width="0.6" fill="none"/>
<text transform="translate(36.80 78.90) scale(0.91 1)" text-anchor="middle">0</text>
<text transform="translate(59.00 78.90) scale(0.91 1)" text-anchor="middle">10</text>
<text transform="translate(81.20 78.90) scale(0.91 1)" text-anchor="middle">20</text>
<text transform="translate(103.40 78.90) scale(0.91 1)" text-anchor="middle">30</text>
<text transform="translate(125.60 78.90) scale(0.91 1)" text-anchor="middle">40</text>
<text transform="translate(147.80 78.90) scale(0.91 1)" text-anchor="middle">50</text>
<text transform="translate(170.00 78.90) scale(0.91 1)" text-anchor="middle">60</text>
<text transform="translate(192.20 78.90) scale(0.91 1)" text-anchor="middle">70</text>
<text transform="translate(214.40 78.90) scale(0.91 1)" text-anchor="middle">80</text>
<text transform="translate(236.60 78.90) scale(0.91 1)" text-anchor="middle">90</text>
<text transform="translate(258.80 78.90) scale(0.91 1)" text-anchor="middle">100</text>
<text transform="translate(32.80 72.70) scale(0.91 1)" text-anchor="end">-0.008</text>
<text transform="translate(32.80 64.83) scale(0.91 1)" text-anchor="end">-0.006</text>
<text transform="translate(32.80 56.95) scale(0.91 1)" text-anchor="end">-0.004</text>
<text transform="translate(32.80 49.08) scale(0.91 1)" text-anchor="end">-0.002</text>
<text transform="translate(32.80 41.20) scale(0.91 1)" text-anchor="end">0</text>
<text transform="translate(32.80 33.33) scale(0.91 1)" text-anchor="end">0.002</text>
<text transform="translate(32.80 25.45) scale(0.91 1)" text-anchor="end">0.004</text>
<text transform="translate(32.80 17.57) scale(0.91 1)" text-anchor="end">0.006</text>
<text transform="translate(32.80 9.70) scale(0.91 1)" text-anchor="end">0.008</text>
<text transform="translate(147.00 88.40) scale(0.94 1)" text-anchor="middle">time[s]</text>
<text transform="translate(9.30 38.50) scale(0.91 1) rotate(-90)" text-anchor="middle">s-mean P̅[mmHg]</text>
<text transform="translate(186.90 131.90) scale(0.94 1)" text-anchor="end">seg 1</text>
<path d="M190.40 129.30h16.5" stroke="#b8b8b8" stroke-width="0.8" fill="none" stroke-dasharray="1.4 0.7"/>
<circle cx="198.65" cy="129.30" r="0.5" fill="#a0a0a0"/>
<text transform="translate(230.90 131.90) scale(0.94 1)" text-anchor="end">seg 6</text>
<path d="M234.40 129.30h16.5" stroke="#e51e10" stroke-width="1.2" fill="none"/>
<circle cx="242.65" cy="129.30" r="0.6" fill="#e51e10"/>
<text transform="translate(186.90 138.20) scale(0.94 1)" text-anchor="end">seg 2</text>
<path d="M190.40 135.60h16.5" stroke="#9400d3" stroke-width="1.2" fill="none"/>
<text transform="translate(230.90 138.20) scale(0.94 1)" text-anchor="end">seg 7</text>
<path d="M234.40 135.60h16.5" stroke="#0072b2" stroke-width="1.2" fill="none"/>
<circle cx="242.65" cy="135.60" r="0.5" fill="#0072b2"/>
<text transform="translate(186.90 144.50) scale(0.94 1)" text-anchor="end">seg 3</text>
<path d="M190.40 141.90h16.5" stroke="#009e73" stroke-width="1.2" fill="none"/>
<text transform="translate(230.90 144.50) scale(0.94 1)" text-anchor="end">seg 8</text>
<path d="M234.40 141.90h16.5" stroke="#f0e442" stroke-width="1.2" fill="none"/>
<circle cx="242.65" cy="141.90" r="0.5" fill="#f0e442"/>
<text transform="translate(186.90 150.80) scale(0.94 1)" text-anchor="end">seg 4</text>
<path d="M190.40 148.20h16.5" stroke="#56b4e9" stroke-width="1.2" fill="none"/>
<text transform="translate(230.90 150.80) scale(0.94 1)" text-anchor="end">seg 9</text>
<path d="M234.40 148.20h16.5" stroke="#b0b0b0" stroke-width="0.7" fill="none" stroke-dasharray="1.2 0.8"/>
<circle cx="242.65" cy="148.20" r="0.7" fill="#000"/>
<text transform="translate(186.90 157.10) scale(0.94 1)" text-anchor="end">seg 5</text>
<path d="M190.40 154.50h16.5" stroke="#e69f00" stroke-width="1.2" fill="none"/>
<circle cx="198.65" cy="154.50" r="0.6" fill="#e69f00"/>
<text transform="translate(230.90 157.10) scale(0.94 1)" text-anchor="end">seg 10</text>
<path d="M234.40 154.50h16.5" stroke="#000000" stroke-width="1.25" fill="none"/>
<circle cx="242.65" cy="154.50" r="0.6" fill="#000"/>
<polyline points="29.0,108.6 29.1,108.7 29.3,108.3 29.5,108.3 30.1,107.6 30.4,106.9 30.8,106.1 30.9,105.7 31.2,105.3 31.4,105.1 31.5,104.6 31.7,104.1 32.1,103.9 32.5,102.7 32.9,102.2 33.5,101.6 33.7,120.4 33.9,131.0 34.2,136.7 35.2,152.3 35.5,147.5 35.9,145.1 36.1,144.5 37.0,143.5 37.1,143.8 37.5,143.4 37.7,143.5 37.9,143.3 38.5,143.4 38.6,143.2 38.7,143.4 39.0,143.4 39.1,143.5 39.4,143.0 39.6,143.2 39.8,143.1 40.2,143.0 40.3,142.8 40.6,136.1 40.8,132.6 41.1,130.0 41.4,129.2 41.6,128.8 41.8,128.9 42.2,128.7 42.3,128.7 42.6,128.5 42.7,128.6 43.0,128.4 43.3,128.6 43.8,129.1 44.0,129.0 44.1,128.8 44.2,129.2 44.3,129.3 44.6,129.4 44.9,129.2 45.1,132.1 45.5,134.6 45.8,135.4 46.1,135.4 46.2,135.7 46.4,135.6 46.7,135.9 47.0,135.8 47.2,136.1 47.5,136.0 47.9,136.5 48.1,136.3 48.4,136.0 48.6,135.9 48.7,136.0 49.2,135.7 49.4,135.9 49.5,135.7 49.6,135.8 49.8,135.5 50.1,135.6 50.3,135.3 50.4,135.4 50.6,135.3 50.8,135.5 51.0,135.4 51.2,135.2 51.3,135.3 51.6,135.2 51.8,135.4 52.1,131.5 52.4,130.5 52.6,130.0 52.8,129.8 53.0,129.9 53.4,129.5 53.7,130.0 54.1,130.2 54.6,130.1 54.9,130.6 55.0,130.7 55.1,130.5 55.2,130.6 55.3,130.5 56.0,131.1 56.4,131.3 56.7,128.8 57.1,127.8 57.3,127.6 57.4,127.6 57.9,127.3 58.1,127.3 58.2,127.0 58.3,127.2 58.5,127.2 58.7,127.3 59.3,127.2 59.7,126.6 59.9,126.7 60.3,126.8 60.5,126.5 60.7,126.8 60.8,126.8 60.9,127.0 61.1,126.9 61.3,127.1 61.5,127.0 61.7,127.1 62.2,127.0 62.4,127.3 62.7,127.4 62.9,127.0 63.1,127.0 63.2,126.9 63.5,127.8 64.3,129.4 64.4,129.3 64.7,129.5 65.0,129.5 65.1,129.6 65.2,129.6 65.4,130.2 65.6,130.5 66.2,130.3 66.6,131.3 66.8,131.5 67.0,131.4 67.2,131.8 67.5,131.8 67.8,132.2 68.0,127.6 68.3,125.1 68.5,123.6 69.1,122.2 69.4,122.3 69.5,122.5 70.0,122.5 70.1,122.7 70.2,122.7 70.8,122.2 71.1,122.2 71.3,122.3 71.4,122.2 71.5,122.3 71.8,122.2 71.9,121.9 72.3,122.4 72.6,122.1 72.7,122.2 72.9,122.4 73.1,122.3 73.2,122.3 73.5,122.1 73.7,122.1 73.8,121.9 73.9,121.9 74.0,122.2 74.2,122.2 74.7,122.8 74.9,125.7 75.5,129.1 75.8,129.5 76.1,129.9 76.2,129.8 76.4,130.3 77.1,131.1 77.3,131.8 77.5,131.7 77.9,132.1 78.3,132.0 78.7,132.7 79.3,133.4 79.5,126.6 79.7,122.8 80.0,120.9 80.3,119.7 80.4,119.5 80.8,119.4 80.9,119.4 81.1,119.1 81.2,119.3 81.3,119.3 81.4,119.1 81.7,119.1 81.8,119.2 82.0,119.0 82.2,119.0 82.4,119.2 82.5,119.1 83.0,119.5 83.2,119.4 83.3,119.6 83.4,119.4 83.6,119.5 83.7,119.3 83.8,119.5 84.1,119.3 84.2,119.4 84.3,119.3 84.8,119.0 85.0,119.1 85.3,119.6 85.4,119.4 85.7,119.5 85.8,119.7 85.9,119.8 86.0,119.6 86.1,119.7 86.4,124.2 86.6,126.7 86.8,128.4 87.3,130.3 87.6,130.9 88.1,131.3 88.3,132.0 88.5,132.3 88.7,132.3 88.9,132.8 89.0,132.9 89.2,132.7 89.3,133.0 89.7,133.2 89.9,133.7 90.1,133.9 90.5,134.7 90.7,134.9 90.9,126.2 91.3,120.0 91.5,118.0 91.7,116.8 92.0,116.3 92.3,116.2 92.4,115.9 92.5,115.9 92.7,116.1 92.8,116.1 93.0,115.8 93.3,116.3 93.5,116.1 93.7,116.6 93.9,116.7 94.0,116.7 94.2,116.6 94.5,116.7 94.6,116.6 94.7,116.9 94.8,116.9 95.0,116.7 95.1,116.8 95.2,116.7 95.3,116.5 95.4,116.7 95.6,116.6 95.8,116.7 96.4,116.9 96.8,117.3 97.0,117.0 97.4,117.1 97.5,116.9 97.6,117.1 97.9,125.1 98.2,127.6 98.6,130.1 99.2,131.9 99.6,132.5 100.1,133.6 100.6,134.2 100.7,134.6 100.9,134.4 101.1,135.1 101.4,135.3 102.1,136.7 102.2,137.2 102.5,123.4 102.9,117.3 103.1,115.7 103.5,114.4 103.8,114.2 104.0,114.2 104.1,114.1 104.3,114.5 104.6,114.0 104.7,114.1 104.8,113.9 104.9,114.0 105.1,114.0 105.3,114.1 105.4,113.9 105.5,114.0 105.6,113.9 105.9,114.1 106.1,113.9 106.2,114.1 106.4,113.8 106.5,114.0 106.6,113.9 107.1,114.3 107.4,114.2 107.8,114.5 107.9,114.3 108.1,114.8 108.5,115.2 108.8,115.4 109.0,115.4 109.4,125.5 109.6,128.8 110.0,131.2 110.6,133.8 111.2,135.4 112.2,137.7 112.4,137.7 112.7,138.7 113.0,139.1 113.3,139.7 113.4,139.7 113.6,140.1 114.0,123.4 114.2,118.2 114.4,115.3 114.6,113.6 115.0,112.7 115.3,112.4 115.8,112.3 115.9,112.1 116.1,112.2 116.2,112.1 116.4,112.3 116.5,112.1 116.6,112.3 116.7,112.1 116.9,112.5 117.2,112.5 117.3,112.3 117.4,112.7 117.7,112.8 117.9,112.7 118.1,112.7 118.4,113.1 118.7,113.0 118.8,112.8 118.9,113.0 119.1,112.9 119.3,113.1 119.5,113.0 119.7,113.2 120.1,113.6 120.4,113.5 120.5,113.6 120.7,122.7 120.9,127.7 121.2,130.9 121.5,133.7 121.6,134.4 121.9,134.8 122.1,135.8 122.3,136.3 122.7,137.4 122.9,137.8 123.0,137.8 123.3,138.5 124.1,141.2 124.5,141.9 124.7,142.7 125.1,143.1 125.4,135.2 125.9,130.9 126.1,130.1 126.2,130.0 126.3,130.0 126.8,129.0 127.0,129.0 127.2,128.7 127.5,128.8 127.6,128.7 127.8,128.7 127.9,128.5 128.2,128.4 128.4,128.7 128.8,129.0 129.0,129.0 129.1,129.1 129.2,129.2 129.4,129.0 129.6,129.1 129.8,128.9 129.9,129.1 130.1,129.1 130.3,129.1 130.4,129.3 130.6,129.2 130.7,129.2 131.2,129.3 131.5,129.0 131.8,129.2 131.9,129.0 132.1,129.2 132.3,129.2 132.4,129.0 132.5,129.0 132.7,129.1 132.9,129.4 133.3,129.3 133.5,129.4 133.8,129.0 134.2,128.9 134.3,129.1 134.7,129.1 134.9,129.3 135.5,129.0 135.9,129.5 136.2,129.5 136.3,129.6 136.4,129.4 136.5,129.5 136.7,130.8 137.1,131.5 137.2,131.6 137.4,131.9 137.5,132.0 137.7,131.8 137.8,132.0 138.2,132.2 138.3,132.4 138.6,132.2 138.7,132.3 138.8,132.0 138.9,132.3 139.5,132.3 142.2,132.3 142.8,132.1 143.5,132.1 148.0,132.0 148.4,133.2 148.7,133.5 149.0,133.7 149.9,133.8 153.7,133.9 154.3,133.4 155.1,133.3 165.1,133.3 165.7,132.6 166.5,132.4 176.6,132.4 177.2,131.4 177.5,131.3 178.1,131.2 188.0,131.1 188.6,130.0 189.0,129.8 189.4,129.7 199.5,129.6 199.8,128.7 200.2,128.1 200.6,127.9 201.2,127.8 246.5,127.8" fill="none" stroke="#b8b8b8" stroke-width="0.8" stroke-linejoin="round" stroke-dasharray="1.4 0.7"/>
<path d="M29.0 108.6h0M29.9 107.8h0M30.8 106.1h0M31.7 104.1h0M32.7 102.6h0M33.6 112.0h0M34.5 141.2h0M35.4 148.6h0M36.3 144.3h0M37.2 143.7h0M38.2 143.3h0M39.1 143.5h0M40.0 143.0h0M40.9 131.5h0M41.8 128.9h0M42.7 128.6h0M43.7 128.9h0M44.6 129.4h0M45.5 134.6h0M46.4 135.6h0M47.3 136.0h0M48.2 136.1h0M49.2 135.7h0M50.1 135.6h0M51.0 135.4h0M51.9 133.7h0M52.8 129.8h0M53.7 130.0h0M54.6 130.1h0M55.6 130.7h0M56.5 130.4h0M57.4 127.6h0M58.3 127.2h0M59.2 127.2h0M60.1 126.8h0M61.1 126.9h0M62.0 127.0h0M62.9 127.0h0M63.8 128.6h0M64.7 129.5h0M65.6 130.5h0M66.6 131.3h0M67.5 131.8h0M68.4 124.5h0M69.3 122.3h0M70.2 122.7h0M71.1 122.2h0M72.1 122.1h0M73.0 122.3h0M73.9 121.9h0M74.8 124.4h0M75.7 129.4h0M76.6 130.5h0M77.5 131.7h0M78.5 132.1h0M79.4 129.6h0M80.3 119.7h0M81.2 119.3h0M82.1 119.1h0M83.0 119.5h0M84.0 119.4h0M84.9 119.1h0M85.8 119.7h0M86.7 127.6h0M87.6 130.9h0M88.5 132.3h0M89.5 133.0h0M90.4 134.3h0M91.3 120.0h0M92.2 116.2h0M93.1 115.9h0M94.0 116.7h0M95.0 116.7h0M95.9 116.7h0M96.8 117.3h0M97.7 120.4h0M98.6 130.1h0M99.5 132.4h0M100.4 134.1h0M101.4 135.3h0M102.3 131.3h0M103.2 115.2h0M104.1 114.1h0M105.0 114.0h0M105.9 114.1h0M106.9 114.1h0M107.8 114.5h0M108.7 115.4h0M109.6 128.8h0M110.5 133.4h0M111.4 135.8h0M112.4 137.7h0M113.3 139.7h0M114.2 118.2h0M115.1 112.6h0M116.0 112.1h0M116.9 112.5h0M117.9 112.7h0M118.8 112.8h0M119.7 113.2h0M120.6 118.9h0M121.5 133.7h0M122.4 136.7h0M123.3 138.5h0M124.3 141.4h0M125.2 140.1h0M126.1 130.1h0M127.0 129.0h0M127.9 128.5h0M128.8 129.0h0M129.8 128.9h0M130.7 129.2h0M131.6 129.1h0M132.5 129.0h0M133.4 129.3h0M134.3 129.1h0M135.3 129.1h0M136.2 129.5h0M137.1 131.5h0M138.0 132.1h0M138.9 132.3h0M139.8 132.3h0M140.8 132.3h0M141.7 132.3h0M142.6 132.2h0M143.5 132.1h0M144.4 132.0h0M145.3 132.0h0M146.2 132.0h0M147.2 132.0h0M148.1 132.3h0M149.0 133.7h0M149.9 133.8h0M150.8 133.9h0M151.7 133.9h0M152.7 133.9h0M153.6 133.9h0M154.5 133.3h0M155.4 133.3h0M156.3 133.3h0M157.2 133.3h0M158.2 133.3h0M159.1 133.3h0M160.0 133.3h0M160.9 133.3h0M161.8 133.3h0M162.7 133.3h0M163.7 133.3h0M164.6 133.3h0M165.5 132.8h0M166.4 132.4h0M167.3 132.4h0M168.2 132.4h0M169.1 132.4h0M170.1 132.4h0M171.0 132.4h0M171.9 132.4h0M172.8 132.4h0M173.7 132.4h0M174.6 132.4h0M175.6 132.4h0M176.5 132.4h0M177.4 131.3h0M178.3 131.2h0M179.2 131.1h0M180.1 131.1h0M181.1 131.1h0M182.0 131.1h0M182.9 131.1h0M183.8 131.1h0M184.7 131.1h0M185.6 131.1h0M186.6 131.1h0M187.5 131.1h0M188.4 130.3h0M189.3 129.7h0M190.2 129.6h0M191.1 129.6h0M192.0 129.6h0M193.0 129.6h0M193.9 129.6h0M194.8 129.6h0M195.7 129.6h0M196.6 129.6h0M197.5 129.6h0M198.5 129.6h0M199.4 129.6h0M200.3 128.1h0M201.2 127.8h0M202.1 127.8h0M203.0 127.8h0M204.0 127.8h0M204.9 127.8h0M205.8 127.8h0M206.7 127.8h0M207.6 127.8h0M208.5 127.8h0M209.5 127.8h0M210.4 127.8h0M211.3 127.8h0M212.2 127.8h0M213.1 127.8h0M214.0 127.8h0M214.9 127.8h0M215.9 127.8h0M216.8 127.8h0M217.7 127.8h0M218.6 127.8h0M219.5 127.8h0M220.4 127.8h0M221.4 127.8h0M222.3 127.8h0M223.2 127.8h0M224.1 127.8h0M225.0 127.8h0M225.9 127.8h0M226.9 127.8h0M227.8 127.8h0M228.7 127.8h0M229.6 127.8h0M230.5 127.8h0M231.4 127.8h0M232.4 127.8h0M233.3 127.8h0M234.2 127.8h0M235.1 127.8h0M236.0 127.8h0M236.9 127.8h0M237.8 127.8h0M238.8 127.8h0M239.7 127.8h0M240.6 127.8h0M241.5 127.8h0M242.4 127.8h0M243.3 127.8h0M244.3 127.8h0M245.2 127.8h0M246.1 127.8h0" stroke="#a0a0a0" stroke-width="0.8" stroke-linecap="round" fill="none"/>
<polyline points="29.0,118.1 29.5,118.3 29.6,118.3 29.8,118.5 30.0,118.8 30.1,118.8 30.3,119.0 30.4,118.9 30.8,119.8 30.9,119.9 31.1,119.9 31.3,120.5 31.5,120.8 31.6,120.8 32.4,122.1 32.5,122.3 32.7,122.1 33.0,122.8 33.2,122.9 33.5,123.1 33.7,125.5 34.0,126.9 34.4,127.6 34.7,127.8 34.8,127.9 35.3,127.7 35.4,127.5 35.5,127.7 35.6,127.7 35.8,127.6 36.0,127.8 36.2,127.6 36.7,128.1 37.1,127.7 37.5,127.7 37.6,127.8 37.7,128.0 38.2,127.1 38.7,127.7 38.8,127.6 39.0,127.6 39.4,128.2 39.5,128.0 39.8,128.1 40.0,127.8 40.2,128.1 40.3,128.1 40.7,116.6 40.9,112.9 41.3,109.9 41.6,108.1 42.4,105.9 42.6,105.8 43.0,105.0 43.2,104.9 43.5,103.9 43.9,103.5 44.3,102.6 44.6,101.8 44.7,101.8 44.9,101.4 45.1,120.6 45.4,131.7 45.6,137.6 45.9,141.9 46.6,153.5 47.1,147.4 47.4,145.7 47.7,145.1 48.0,144.7 48.4,144.8 48.7,144.6 49.0,144.7 49.3,144.6 49.5,144.2 49.6,144.4 49.8,144.3 50.2,143.8 50.6,144.2 50.9,144.0 51.2,144.1 51.3,143.9 51.4,144.1 51.8,143.7 52.0,136.9 52.2,133.5 52.6,131.1 52.8,130.2 53.2,129.5 53.4,129.5 53.6,129.7 53.8,129.5 54.0,129.7 54.2,129.7 54.3,129.6 54.5,129.7 54.6,129.5 54.9,129.5 55.1,129.3 55.3,129.5 55.6,129.5 55.8,129.8 56.0,129.8 56.1,129.7 56.3,130.0 56.4,129.8 56.7,134.0 56.9,135.2 57.2,135.9 57.5,136.3 57.6,136.2 57.7,136.2 58.0,136.5 58.1,136.5 58.2,136.6 58.4,136.7 58.5,136.9 58.8,136.6 59.0,136.8 59.1,136.7 59.2,136.9 59.6,136.8 59.7,137.0 60.0,136.7 60.1,136.5 60.4,136.5 60.5,136.7 60.6,136.6 60.7,136.6 60.8,136.5 60.9,136.6 61.5,136.1 61.6,136.2 62.0,136.2 62.3,136.5 62.7,136.3 62.8,136.3 62.9,136.1 63.0,136.3 63.2,136.4 63.6,132.2 63.8,131.0 64.0,130.3 64.5,130.1 64.6,130.3 64.7,130.2 64.8,130.5 65.1,130.4 65.5,130.8 65.8,130.6 66.0,130.9 66.1,130.9 66.2,131.0 66.4,131.1 66.6,131.2 66.8,130.9 66.9,131.3 67.2,131.6 67.4,131.5 67.7,131.6 67.8,131.5 68.2,129.6 68.6,128.8 68.7,128.4 69.0,128.2 69.2,128.3 69.4,127.9 69.5,128.0 69.8,127.9 69.9,128.0 70.3,127.3 70.4,127.3 70.7,127.6 70.9,127.7 71.0,127.6 71.1,127.7 71.3,127.4 71.5,127.5 71.7,127.3 72.1,127.6 72.2,127.9 72.4,127.9 72.6,127.8 72.9,127.5 73.0,127.5 73.2,127.7 73.3,127.6 73.5,127.8 73.7,128.0 74.1,127.6 74.5,127.5 74.7,127.8 74.8,128.2 74.9,128.2 75.3,129.2 75.6,129.7 75.8,129.7 76.1,130.2 76.3,130.1 76.4,130.3 76.6,130.4 77.0,131.3 77.1,131.3 77.4,131.9 77.7,131.7 78.0,131.8 78.1,132.0 78.5,131.9 79.0,132.6 79.3,132.6 79.5,128.0 79.7,125.6 80.0,124.3 80.4,123.1 80.8,123.0 80.9,122.7 81.1,122.8 81.2,123.0 81.8,122.9 82.0,123.1 82.1,122.9 82.4,123.0 82.6,123.4 82.7,123.2 82.9,123.3 83.3,122.8 83.7,122.7 84.0,123.3 84.2,123.2 84.5,123.2 84.6,123.4 85.1,123.0 85.2,123.2 85.6,122.8 85.8,123.1 85.9,123.1 86.1,123.0 86.6,128.0 86.9,129.5 87.3,129.9 87.7,131.0 88.1,131.2 88.8,132.0 89.0,132.3 89.2,132.9 89.3,132.8 89.7,133.4 89.9,133.3 90.1,133.9 90.3,133.8 90.4,133.9 90.7,134.6 90.9,127.9 91.2,124.5 91.5,121.9 92.0,120.6 93.1,119.7 93.3,120.1 93.5,120.1 93.7,119.9 93.9,119.9 94.0,119.7 94.2,119.9 94.4,119.8 94.5,119.9 94.7,119.9 94.8,120.0 95.0,119.9 95.1,120.0 95.6,119.9 95.8,119.8 96.0,120.0 96.1,119.8 96.2,119.9 96.4,119.7 96.8,119.7 96.9,119.9 97.0,119.8 97.2,119.8 97.5,119.6 97.6,119.7 97.8,124.1 98.0,126.5 98.3,128.2 98.6,129.5 99.2,131.1 99.3,131.1 100.3,132.7 100.8,133.0 101.0,133.7 101.1,133.6 101.4,134.2 101.6,134.5 101.7,134.5 101.8,134.6 102.2,135.1 102.4,126.3 102.6,121.8 102.9,119.3 103.1,118.0 103.3,117.4 103.9,116.5 104.2,116.3 104.3,116.5 104.5,116.3 104.6,116.5 104.8,116.1 105.3,116.7 105.5,116.7 105.6,116.5 105.8,116.8 105.9,116.7 106.1,116.9 106.4,117.0 106.6,116.5 107.0,116.7 107.3,116.6 107.4,116.7 107.5,116.5 108.0,116.8 108.1,117.1 108.3,116.8 108.7,117.0 109.0,117.0 109.4,124.9 109.7,128.5 110.1,130.4 110.3,131.2 111.4,133.7 112.0,134.6 112.2,134.8 112.6,135.5 113.0,135.9 113.4,137.0 113.6,137.4 114.0,123.5 114.2,118.8 114.4,116.5 114.9,114.6 115.0,114.7 115.3,114.0 115.4,114.0 115.7,113.8 115.8,113.9 116.1,113.7 116.2,113.9 116.5,114.0 116.6,113.9 116.8,114.2 117.1,114.0 117.2,114.0 117.3,113.9 117.6,113.9 117.7,114.1 118.1,114.1 118.3,114.4 118.5,114.2 118.7,114.5 118.9,114.6 119.1,114.2 119.5,114.5 119.6,114.8 119.8,114.9 120.0,115.1 120.1,115.4 120.3,115.3 120.4,115.3 120.5,115.6 120.8,125.8 121.1,129.1 121.4,131.6 121.9,133.5 122.9,136.3 123.1,136.3 123.2,136.6 123.6,137.1 124.1,138.6 124.5,139.1 124.8,140.0 125.1,140.2 125.3,126.6 125.6,116.3 126.1,111.7 126.6,110.3 126.7,110.4 127.0,110.0 127.2,110.2 127.5,110.1 127.8,110.2 128.2,110.4 128.6,110.3 128.8,110.1 129.2,110.3 129.5,110.2 129.6,110.3 129.8,110.3 129.9,110.6 130.1,110.7 130.6,111.2 130.7,111.3 130.8,111.2 131.4,111.8 131.6,111.7 131.7,111.8 131.8,111.7 131.9,111.8 132.1,111.3 132.3,110.9 132.5,110.9 132.7,111.1 132.9,110.9 133.2,111.0 133.3,110.7 133.4,110.8 133.5,110.7 134.0,111.0 134.1,111.3 134.3,111.2 134.7,111.6 134.8,111.4 134.9,111.4 135.1,111.6 135.5,111.2 136.2,111.8 136.4,111.9 136.5,111.8 136.7,120.4 137.1,126.6 137.4,128.8 138.2,130.2 138.3,130.2 138.5,130.3 138.6,130.2 138.7,130.4 142.2,130.4 142.7,130.6 143.4,130.8 148.0,130.8 148.5,131.9 148.9,132.1 149.2,132.2 153.7,132.3 154.3,132.1 155.1,132.1 165.1,132.0 165.7,131.6 166.5,131.5 176.6,131.4 177.2,130.8 178.0,130.6 188.0,130.5 188.6,129.6 189.0,129.4 189.4,129.4 199.5,129.3 199.8,128.5 200.2,128.1 200.6,127.9 201.2,127.8 246.5,127.8" fill="none" stroke="#9400d3" stroke-width="1.2" stroke-linejoin="round"/>
<polyline points="29.0,132.8 29.2,132.6 29.7,133.3 30.4,134.8 30.5,134.8 30.7,135.3 31.3,137.1 31.7,138.1 32.2,139.6 33.1,141.7 33.4,142.0 33.5,142.4 33.7,127.2 34.0,116.3 34.4,111.7 34.7,109.9 34.8,109.7 35.0,109.8 35.1,109.4 35.2,109.5 35.3,109.5 35.4,109.6 35.5,109.5 35.8,109.6 36.3,109.3 36.7,109.5 36.8,109.3 37.0,109.6 37.1,109.5 37.4,109.9 37.5,109.9 37.9,109.5 38.3,109.9 38.4,109.8 38.6,109.8 38.7,110.0 39.0,110.0 39.1,110.0 39.2,109.8 39.5,110.0 39.6,109.8 39.8,109.8 39.9,109.7 40.0,109.7 40.1,109.9 40.3,110.0 40.8,115.7 41.3,117.6 41.8,119.1 42.1,119.3 42.2,119.3 42.4,119.4 43.0,120.7 43.9,121.6 44.3,122.7 44.5,122.6 44.6,122.7 44.9,123.4 45.4,126.9 45.9,128.1 46.1,128.2 46.3,128.2 46.4,128.3 46.5,128.2 46.7,128.2 46.9,128.0 47.3,128.4 47.5,128.0 47.7,128.1 48.0,128.2 48.1,128.4 48.2,128.3 48.5,128.6 48.6,128.5 48.9,128.8 49.0,128.6 49.3,128.9 49.5,129.0 49.6,128.7 49.8,128.8 50.0,128.6 50.2,128.7 50.3,128.5 50.5,128.5 50.9,128.2 51.0,128.3 51.1,128.2 51.3,128.4 51.4,128.2 51.7,128.6 51.8,128.6 52.1,116.8 52.5,112.1 52.9,108.6 53.8,106.5 54.6,105.4 55.7,103.0 56.0,102.7 56.1,102.8 56.4,102.4 56.6,121.7 56.9,136.3 58.1,153.8 58.4,148.8 59.0,145.8 59.3,145.1 59.5,145.2 59.8,144.8 59.9,144.9 60.0,144.7 60.1,144.8 60.3,144.5 60.5,144.6 60.7,144.5 61.2,144.9 61.4,145.0 61.6,144.9 61.7,144.7 62.0,144.7 62.2,144.5 62.3,144.6 62.4,144.8 62.7,144.8 63.2,144.3 63.5,137.5 63.7,134.1 64.0,131.7 64.3,130.8 64.8,129.7 65.2,130.1 65.4,130.2 65.8,130.1 66.2,130.4 66.4,130.1 66.6,130.2 66.7,130.1 66.9,130.2 67.1,129.9 67.5,130.4 67.6,130.4 67.7,130.2 67.8,130.3 68.0,133.6 68.3,135.3 68.7,136.9 69.0,136.9 69.2,137.3 69.5,137.2 69.6,137.1 69.8,137.3 70.0,137.4 70.2,137.3 70.4,137.0 70.6,137.0 70.8,137.4 71.0,137.1 71.1,137.3 71.3,137.0 71.6,137.0 71.8,136.8 72.3,136.7 72.4,137.0 72.5,137.0 72.9,136.7 73.0,136.6 73.1,136.7 73.2,136.6 73.4,137.1 73.7,136.7 74.2,137.1 74.3,136.9 74.5,137.1 74.6,137.0 74.7,137.0 75.0,133.0 75.7,130.7 75.9,130.7 76.1,130.4 76.3,130.6 76.7,130.8 77.0,131.2 77.1,131.1 77.4,131.4 77.8,131.0 78.0,131.2 78.1,131.6 78.3,131.7 78.5,132.0 78.9,132.2 79.2,132.1 79.3,132.3 79.5,130.4 79.7,129.3 80.1,128.8 80.2,128.8 80.4,128.6 80.8,128.6 81.1,128.3 81.3,128.0 81.7,128.1 82.0,128.0 82.2,128.3 82.4,128.3 82.5,128.1 82.6,128.3 82.7,128.1 83.5,128.6 83.6,128.6 83.7,128.8 84.1,128.4 84.2,128.7 84.4,128.3 84.9,128.5 85.2,128.4 85.7,128.6 85.9,128.5 86.1,128.6 86.5,129.6 87.1,130.3 87.4,130.5 87.7,130.9 88.0,131.0 88.1,131.3 88.2,131.3 88.4,131.5 88.5,131.5 88.8,131.7 89.1,132.5 89.2,132.4 89.5,132.6 90.1,133.5 90.5,133.5 90.6,133.6 90.7,133.6 90.9,129.1 91.2,126.5 91.4,125.0 91.9,123.8 92.1,123.6 92.3,123.8 92.7,123.6 92.9,123.6 93.3,123.5 93.6,123.7 93.8,123.5 93.9,123.9 94.4,123.8 94.6,124.3 95.1,123.7 95.5,124.3 95.8,123.9 95.9,123.9 96.0,124.1 96.4,124.0 96.7,123.6 97.0,123.6 97.4,123.9 97.5,123.8 97.6,123.9 98.0,128.4 98.3,129.3 98.7,130.2 99.6,131.3 99.8,131.7 100.4,132.3 100.6,132.5 100.8,132.6 101.5,133.5 101.6,133.5 102.2,134.2 102.6,124.1 103.0,121.3 103.4,120.1 103.5,120.1 103.9,119.7 104.0,119.9 104.2,119.7 104.3,119.8 104.8,119.7 105.1,119.4 105.4,119.8 105.5,119.9 105.8,119.7 106.1,119.8 106.2,120.2 106.4,119.9 106.7,119.8 107.0,119.9 107.1,120.3 107.3,120.5 107.7,120.0 107.8,120.2 108.1,119.5 108.5,119.5 108.6,119.6 108.8,119.2 109.0,119.4 109.4,125.4 109.6,127.3 110.0,129.0 110.9,131.3 111.6,132.2 111.9,133.0 112.1,133.1 112.4,133.6 112.7,133.7 112.8,133.6 113.4,134.6 113.6,134.8 114.0,123.7 114.3,119.0 114.6,117.3 115.0,117.0 115.1,116.8 115.7,116.5 115.8,116.6 116.0,116.3 116.1,116.4 116.2,116.3 116.5,116.6 116.6,116.3 116.7,116.4 117.4,116.1 117.7,116.5 118.2,116.4 118.9,117.2 119.1,117.2 119.2,117.4 119.3,117.2 119.6,117.3 119.7,117.1 119.9,117.2 120.3,116.8 120.4,116.9 120.5,117.0 120.8,124.7 121.1,127.5 121.4,129.7 121.7,130.9 122.5,132.9 123.1,133.6 123.2,134.0 123.8,135.0 124.4,136.6 124.5,136.8 124.6,136.7 125.0,137.2 125.1,137.2 125.3,125.5 125.8,115.5 126.0,113.5 126.2,112.7 126.4,112.2 126.8,112.1 126.9,111.8 127.1,111.6 127.4,111.7 127.5,112.0 127.7,111.8 127.9,111.9 128.0,111.8 128.3,112.2 128.5,112.0 128.6,112.2 128.8,112.0 129.1,111.9 129.2,112.1 129.3,112.0 129.6,112.2 130.2,112.6 130.3,112.5 130.4,112.5 130.6,112.7 130.7,112.6 130.8,112.8 130.9,112.8 131.0,113.1 131.2,113.0 131.4,113.1 131.6,113.5 131.9,113.7 132.2,113.2 132.3,113.2 132.9,112.3 133.0,112.4 133.1,112.3 133.3,112.4 133.5,112.6 133.7,112.5 133.8,112.7 134.0,112.7 134.2,113.0 134.3,112.8 134.5,113.0 134.6,113.1 134.7,112.9 134.8,113.0 134.9,112.9 135.1,113.0 135.3,113.2 135.6,112.9 135.8,113.3 136.2,113.4 136.3,113.7 136.4,113.6 136.5,114.0 136.7,120.4 137.1,125.1 137.4,126.8 138.0,127.9 138.2,127.9 138.3,128.0 138.6,127.9 138.8,128.3 138.9,128.2 142.2,128.3 142.7,128.8 143.4,129.1 148.0,129.2 148.5,130.1 149.2,130.3 153.7,130.4 154.4,130.7 155.6,130.8 165.1,130.8 165.7,130.6 166.5,130.5 176.6,130.5 177.2,130.1 178.0,129.9 188.0,129.9 188.6,129.2 189.4,129.0 199.5,129.0 199.8,128.4 200.2,128.0 200.6,127.9 201.3,127.8 246.5,127.8" fill="none" stroke="#009e73" stroke-width="1.2" stroke-linejoin="round"/>
<polyline points="29.0,132.0 29.1,131.9 29.5,132.1 30.0,133.7 30.3,133.9 30.6,134.8 31.2,135.6 31.4,136.4 31.9,137.2 32.0,137.3 32.1,137.2 32.3,137.8 32.4,138.0 32.5,138.1 32.8,138.8 33.1,139.3 33.5,140.3 33.8,123.1 34.0,117.6 34.3,114.9 34.5,113.3 34.8,112.2 35.1,111.8 35.4,111.7 35.5,111.5 35.9,112.0 36.2,112.1 36.4,111.9 36.6,111.9 36.8,112.2 36.9,112.2 37.1,112.0 37.4,112.4 37.5,112.2 38.0,112.9 38.3,112.6 38.4,112.7 38.5,112.7 38.6,113.0 39.1,112.5 39.3,112.8 39.4,112.7 39.5,112.8 39.6,112.6 39.9,112.7 40.2,112.6 40.3,112.8 40.6,121.9 40.8,127.0 41.0,130.1 41.5,133.5 42.4,136.6 42.6,136.9 43.2,138.4 43.5,138.9 43.8,139.4 44.9,142.7 45.3,123.0 45.6,114.9 45.8,112.3 46.3,109.9 46.5,109.7 46.7,109.8 46.9,109.5 47.0,109.7 47.1,109.6 47.5,109.7 47.8,109.9 48.1,109.6 48.5,110.2 48.6,110.2 48.8,109.8 49.0,110.0 49.2,110.0 49.3,110.2 49.5,110.2 49.7,109.9 50.0,110.1 50.1,110.0 50.2,110.0 50.3,110.3 50.4,110.3 50.6,110.1 50.8,110.3 50.9,110.1 51.2,110.4 51.3,110.3 51.6,110.6 51.7,110.2 51.8,110.3 52.0,114.0 52.2,116.1 52.7,118.4 52.8,118.3 52.9,118.5 53.3,119.4 53.4,119.3 53.6,119.6 54.0,120.3 54.1,120.8 54.4,121.3 54.6,121.5 54.8,121.5 54.9,121.6 55.6,122.8 55.9,123.1 56.0,123.1 56.4,123.7 56.6,125.8 56.9,127.7 57.5,128.6 57.9,128.7 58.0,128.9 58.1,128.8 58.2,128.9 58.4,128.8 59.0,129.1 59.5,128.7 59.6,128.8 59.8,128.6 59.9,128.7 60.0,128.9 60.3,128.9 60.4,129.1 60.7,128.9 60.9,128.9 61.1,128.7 61.3,129.0 61.5,129.0 61.6,129.3 61.7,129.3 62.0,128.9 62.2,129.3 62.5,128.8 62.7,128.9 63.0,128.8 63.2,129.0 63.7,115.2 64.0,111.3 64.3,109.9 65.0,107.8 65.2,107.7 65.4,107.4 65.9,106.1 66.0,106.0 66.2,105.6 66.3,105.2 66.7,104.7 66.9,104.5 67.1,103.7 67.5,103.5 67.8,102.7 68.0,122.6 68.3,133.4 68.6,141.0 68.8,143.2 69.5,154.5 69.9,149.4 70.1,147.9 70.6,146.2 70.7,146.0 70.9,146.0 71.0,145.9 71.1,146.1 71.3,145.8 71.4,145.9 71.6,145.7 72.3,145.8 72.5,145.7 72.7,145.8 72.9,145.5 73.2,145.2 73.3,144.9 73.5,144.8 73.7,145.0 73.8,145.1 73.9,144.9 74.2,144.9 74.5,145.0 74.6,145.0 74.7,144.8 74.9,138.0 75.3,133.3 75.6,131.4 75.8,131.1 75.9,131.1 76.3,130.9 76.4,130.9 76.6,130.7 76.9,131.1 77.1,131.1 77.2,131.3 77.4,131.1 77.7,131.2 77.9,131.2 78.1,130.9 78.3,131.0 78.6,130.8 78.8,131.3 79.2,131.1 79.3,131.2 79.6,135.3 80.0,137.0 80.4,137.5 80.8,138.0 81.0,137.9 81.1,138.0 81.3,138.0 81.4,138.1 81.6,137.9 81.7,138.1 81.8,138.0 82.4,138.2 82.6,137.9 82.7,138.0 82.8,137.9 82.9,137.8 83.0,137.9 83.3,137.7 83.5,137.2 83.7,137.3 83.8,137.2 84.1,137.4 84.2,137.3 84.3,137.6 84.6,137.4 85.1,137.7 85.3,137.4 85.6,137.5 85.7,137.3 85.8,137.6 86.1,137.5 86.4,134.6 86.6,132.9 86.8,131.9 87.2,131.3 87.3,131.2 87.4,131.4 87.5,131.4 87.6,131.5 87.7,131.5 87.9,131.6 88.0,131.5 88.3,131.5 88.8,132.1 88.9,132.4 89.1,132.2 89.3,132.2 89.6,132.8 89.8,132.7 89.9,132.5 90.4,132.8 90.7,132.8 91.1,130.7 91.5,129.5 92.1,129.0 92.3,129.3 92.4,129.3 92.5,129.0 92.8,128.8 93.1,129.3 93.6,129.0 93.9,129.3 94.2,128.9 94.4,128.9 94.6,129.2 94.8,128.7 95.1,128.8 95.5,129.2 95.8,129.2 95.9,129.4 96.1,129.1 96.3,129.2 96.7,128.9 96.8,128.7 96.9,128.7 97.1,128.4 97.2,128.5 97.5,128.9 97.6,128.8 98.0,129.9 98.3,129.8 98.8,130.6 99.0,130.7 99.1,130.6 99.4,131.4 99.6,131.4 100.0,131.6 100.1,131.4 100.6,132.1 101.0,132.4 101.1,132.4 101.8,133.2 102.2,133.9 102.5,127.9 102.9,125.3 103.0,124.7 103.2,124.3 103.3,124.1 103.4,124.2 103.5,124.0 103.7,124.0 103.8,124.1 104.2,124.0 104.3,124.1 104.5,124.0 104.7,124.3 104.8,124.3 105.0,124.0 105.1,124.2 105.3,124.1 105.4,124.2 105.6,123.8 105.8,124.0 105.9,124.0 106.1,124.1 106.3,123.8 106.4,124.0 106.6,123.7 106.7,124.0 106.9,124.0 107.0,124.0 107.2,123.8 107.5,123.7 107.7,123.8 107.8,124.0 108.1,123.8 108.2,123.9 108.5,123.5 109.0,123.2 109.5,128.0 109.7,129.1 110.1,130.0 110.9,131.5 111.2,131.7 111.3,131.8 111.4,131.8 111.6,132.1 111.7,132.0 112.0,132.4 112.2,132.3 112.8,133.5 113.0,133.6 113.2,133.8 113.5,133.8 113.6,134.2 113.8,127.8 114.1,124.1 114.4,121.5 114.9,120.0 115.2,119.6 115.3,119.8 115.4,119.8 115.8,119.6 115.9,119.9 116.2,120.2 116.6,119.8 116.8,120.0 116.9,119.9 117.2,120.1 117.5,119.9 117.6,119.9 117.9,120.2 118.0,120.2 118.1,120.4 118.2,120.2 118.3,120.3 118.5,120.2 118.8,120.2 119.3,120.7 120.4,119.7 120.5,119.7 120.7,124.3 121.1,127.7 121.6,129.9 121.9,130.6 122.2,130.7 122.4,131.4 122.8,131.7 123.3,133.1 124.3,133.9 124.5,134.5 124.6,134.4 124.8,134.5 125.1,135.2 125.4,122.8 125.8,117.6 126.1,115.3 126.2,115.2 126.7,114.2 126.9,114.3 127.1,114.0 127.4,114.2 127.5,114.1 127.6,114.1 127.7,114.1 127.8,114.2 127.9,114.1 128.0,114.2 128.2,114.0 128.3,114.2 128.4,114.1 128.7,114.5 129.0,114.5 129.2,114.9 129.3,114.9 129.4,114.7 129.5,114.8 129.6,114.7 130.1,115.2 130.4,115.4 130.6,115.6 130.7,115.3 131.1,115.5 131.4,115.2 131.5,115.1 131.6,115.2 131.7,115.1 131.8,115.3 132.1,115.1 132.2,114.7 132.3,114.9 132.4,114.9 132.5,114.6 132.6,114.7 133.2,114.4 133.5,114.8 133.8,114.4 134.0,114.7 134.1,114.6 134.3,114.7 134.5,114.6 134.6,114.6 134.9,114.8 135.0,115.1 135.3,115.2 135.5,115.1 135.6,115.2 135.7,115.1 135.8,115.4 135.9,115.5 136.2,115.3 136.5,115.4 136.7,120.2 137.0,122.8 137.2,124.1 137.5,125.1 137.8,125.0 138.1,125.4 138.3,125.4 138.7,125.7 138.9,125.5 142.2,125.5 142.8,126.9 143.2,127.2 143.5,127.3 148.0,127.3 148.5,128.0 149.2,128.2 153.7,128.3 154.3,128.9 155.0,129.1 165.1,129.2 165.7,129.5 166.7,129.6 176.6,129.6 177.2,129.4 178.0,129.3 188.0,129.3 188.6,128.9 189.5,128.7 199.5,128.7 199.8,128.2 200.2,128.0 201.3,127.8 246.5,127.8" fill="none" stroke="#56b4e9" stroke-width="1.2" stroke-linejoin="round"/>
<polyline points="29.0,131.2 29.5,131.4 29.7,132.0 29.9,132.1 30.7,133.8 31.5,134.9 32.1,136.2 32.2,136.2 32.7,137.4 32.8,137.5 33.5,138.5 33.9,121.9 34.2,118.7 34.5,116.4 35.0,115.2 35.3,115.0 35.5,115.3 35.9,114.9 36.0,115.0 36.1,114.9 36.4,115.2 36.9,114.9 37.2,115.0 37.6,115.2 37.8,115.1 38.3,115.2 38.5,115.6 38.8,115.8 39.2,115.8 39.3,115.7 39.5,115.8 39.6,115.7 39.9,115.8 40.0,115.6 40.2,115.7 40.3,115.8 40.8,127.5 41.0,130.0 41.4,132.3 41.9,134.1 42.6,135.4 43.4,137.5 43.5,137.5 44.3,138.9 44.8,140.3 44.9,140.4 45.1,127.8 45.4,120.5 45.6,116.8 45.9,114.0 46.3,112.9 46.4,112.9 46.6,112.6 47.0,112.8 47.2,112.7 47.3,112.9 47.9,112.4 48.4,112.7 48.6,112.5 48.8,112.9 49.3,112.8 49.6,112.9 49.8,112.8 50.0,112.9 50.9,112.6 51.2,112.9 51.4,112.8 51.8,113.2 52.1,125.1 52.4,129.1 52.7,132.7 53.4,135.8 53.6,136.3 53.8,136.5 54.4,138.3 54.8,139.0 55.1,140.0 55.6,140.7 56.3,142.4 56.4,143.0 56.6,128.0 56.8,119.7 57.1,115.4 57.3,113.0 57.6,110.9 58.2,110.1 58.3,110.2 58.7,109.8 58.9,110.0 59.0,109.9 59.2,110.2 59.3,110.2 59.7,110.6 59.9,110.6 60.0,110.7 60.1,110.7 60.4,110.5 60.6,110.6 60.7,110.4 60.8,110.4 61.1,110.2 61.3,110.4 61.5,111.0 61.6,111.1 62.1,110.6 62.4,110.8 62.5,110.8 63.0,111.4 63.2,111.1 63.6,115.8 63.8,117.3 64.2,118.8 64.3,118.8 64.6,119.6 65.5,121.2 65.8,121.1 65.9,121.4 66.2,121.8 66.6,122.7 66.8,122.9 67.1,123.6 67.2,123.5 67.5,123.6 67.7,124.1 67.8,124.0 68.3,127.8 68.7,129.1 68.8,129.1 69.0,129.3 69.2,129.6 69.4,129.5 70.2,129.7 70.4,129.6 70.6,129.8 70.7,129.6 70.9,129.6 71.0,129.8 71.3,129.4 71.6,129.4 71.8,129.2 71.9,129.3 72.3,129.1 72.5,129.5 72.7,129.3 73.2,129.3 73.4,129.4 73.5,129.6 74.2,129.7 74.3,129.5 74.5,129.9 74.7,129.2 75.1,115.6 75.6,111.1 75.9,109.5 76.4,108.2 76.7,107.7 77.0,107.0 77.4,106.3 77.8,105.5 78.2,104.8 78.5,104.7 78.7,104.1 79.0,103.7 79.3,103.0 79.5,122.3 79.8,137.0 81.0,154.9 81.4,148.9 81.7,147.7 82.0,146.6 82.2,146.5 82.4,146.2 82.5,146.2 82.6,145.9 82.8,145.9 82.9,145.7 83.0,145.7 83.2,145.9 83.4,145.4 83.5,145.4 83.6,145.3 84.0,145.5 84.1,145.5 84.4,145.8 84.9,145.5 85.0,145.7 85.1,145.7 85.8,144.8 85.9,144.9 86.0,144.7 86.1,144.8 86.4,138.3 86.6,134.8 86.9,132.3 87.2,131.6 87.5,131.1 88.2,131.0 88.5,131.2 88.7,131.0 89.2,131.6 89.5,131.4 89.8,131.8 89.9,131.5 90.7,131.4 91.1,135.7 91.3,136.9 91.5,137.6 92.0,138.3 92.4,138.2 92.7,138.1 93.1,138.5 93.3,138.1 93.6,138.2 93.7,138.0 94.0,137.9 94.3,138.2 94.6,137.9 94.8,137.9 95.1,138.1 95.6,137.7 95.8,137.7 96.0,137.9 96.1,137.7 96.4,138.0 96.8,137.5 96.9,137.4 97.1,137.4 97.6,137.1 97.8,134.3 98.0,132.8 98.4,131.7 98.7,131.3 98.8,131.3 99.3,131.7 99.4,131.5 99.6,131.4 100.0,131.8 100.4,131.7 100.9,132.4 101.2,132.2 101.4,132.5 101.7,133.0 102.1,132.8 102.2,133.0 102.5,130.5 102.7,129.8 103.2,129.0 103.7,129.2 103.8,129.3 104.1,129.1 104.2,129.2 104.7,129.0 104.9,129.2 105.0,129.2 105.3,129.2 105.6,129.0 105.7,129.1 105.9,129.0 106.1,129.1 106.2,128.9 106.4,129.1 106.5,128.9 106.7,128.9 106.9,129.2 107.2,129.4 107.3,129.2 107.4,129.2 107.5,128.9 108.0,128.9 108.2,128.7 108.5,128.8 108.9,128.3 109.0,128.4 109.5,129.9 109.6,129.8 110.2,130.7 110.3,130.5 110.4,130.7 110.5,130.7 110.6,130.7 111.0,131.3 111.2,131.5 111.4,132.1 111.6,132.1 111.9,132.5 112.5,132.5 112.6,132.8 112.7,132.7 113.0,132.9 113.6,134.0 114.0,127.9 114.3,125.5 114.6,124.5 115.0,124.2 115.1,124.0 115.2,124.1 115.3,123.9 115.6,124.0 115.8,123.6 115.9,123.7 116.5,123.3 116.7,123.5 117.1,123.4 117.3,123.8 117.5,123.6 117.6,123.8 117.7,123.6 117.9,123.6 118.0,123.9 118.1,123.8 118.3,124.1 118.7,123.9 118.8,124.0 119.0,123.9 119.3,124.0 119.6,123.9 119.7,123.5 119.8,123.6 119.9,123.4 120.1,123.5 120.4,123.4 120.5,123.2 120.8,127.1 121.1,128.5 121.5,130.0 121.7,130.2 122.7,131.8 122.9,132.0 123.0,132.0 123.7,133.2 123.8,133.0 124.0,133.0 124.3,133.4 124.4,133.8 124.6,133.9 124.7,134.1 125.0,134.1 125.1,134.3 125.3,128.7 125.5,125.6 125.8,123.9 126.4,122.4 126.7,122.1 126.8,122.3 126.9,122.1 127.2,122.3 127.6,122.2 127.7,122.4 127.8,122.3 128.3,122.7 128.6,122.5 128.8,122.1 129.2,122.5 129.5,122.1 129.8,122.1 130.2,122.7 130.3,122.6 130.6,122.7 130.7,122.6 130.9,122.9 131.2,122.1 131.6,121.7 131.7,121.8 131.9,121.7 132.2,121.8 132.3,121.7 132.5,121.7 132.6,121.9 133.0,121.6 133.1,121.9 133.4,121.6 133.5,121.6 133.8,121.9 134.0,121.7 134.2,121.4 134.5,121.7 134.6,121.5 135.0,121.9 135.1,121.7 135.3,121.8 135.4,122.0 135.7,121.8 135.8,122.0 136.1,121.7 136.2,121.8 136.4,121.7 137.1,124.0 137.2,124.2 137.8,124.5 138.2,125.0 138.3,124.9 138.7,125.1 138.9,124.9 148.0,124.9 148.4,125.3 149.0,125.5 153.7,125.5 154.3,126.9 154.6,127.2 155.0,127.3 156.2,127.3 165.1,127.3 165.7,128.0 166.6,128.2 176.6,128.3 177.2,128.6 178.2,128.6 188.0,128.7 188.6,128.5 189.4,128.4 199.5,128.4 199.8,128.1 200.2,127.9 201.3,127.8 246.5,127.8" fill="none" stroke="#e69f00" stroke-width="1.2" stroke-linejoin="round"/>
<polyline points="29.0,131.0 29.1,131.3 29.7,131.4 29.9,131.9 30.3,132.2 30.6,132.8 30.9,132.8 31.3,133.6 31.4,133.5 31.7,134.4 32.0,134.7 32.2,135.3 32.3,135.3 32.4,135.6 32.5,135.6 32.7,135.4 33.1,136.2 33.5,136.6 33.8,125.4 34.2,120.4 34.4,119.2 35.0,117.8 35.1,117.7 35.2,117.4 35.5,117.5 35.8,117.2 36.0,117.6 36.2,117.5 36.4,117.8 36.7,117.6 36.9,117.6 37.0,117.9 37.2,118.2 37.4,118.2 37.5,118.0 37.6,118.0 37.8,117.9 37.9,118.0 38.3,118.1 38.4,117.9 38.5,118.1 38.7,117.9 39.1,118.1 39.2,117.9 39.3,118.2 39.5,118.1 40.0,118.3 40.2,118.1 40.3,118.2 40.7,126.0 41.1,130.2 41.8,132.9 41.9,132.9 42.2,133.5 42.3,133.5 42.4,133.7 43.0,135.3 43.2,135.6 43.5,136.5 43.7,136.5 44.2,137.1 44.8,138.2 44.9,138.6 45.1,127.8 45.4,121.8 45.6,118.6 45.9,116.3 46.3,115.6 46.5,115.5 46.7,115.2 47.1,115.1 47.2,115.3 47.4,115.2 47.9,115.2 48.0,115.1 48.2,115.3 48.4,115.1 48.9,115.7 49.2,115.6 49.3,115.7 49.4,115.6 49.5,115.7 49.6,115.9 49.7,115.7 50.1,115.8 50.3,115.7 50.4,115.8 50.6,116.1 50.9,116.0 51.0,116.1 51.2,115.8 51.4,115.9 51.6,115.7 51.7,115.8 51.8,115.6 52.1,125.8 52.5,130.2 52.8,132.6 53.2,133.9 53.7,135.1 54.0,135.4 54.2,136.2 54.5,136.7 55.0,137.8 55.4,138.6 55.6,139.1 55.8,139.3 56.1,140.2 56.3,140.2 56.4,140.5 56.8,120.5 57.1,116.7 57.5,113.6 58.1,112.8 58.3,112.7 58.8,112.8 58.9,112.8 59.2,113.2 59.5,113.0 59.9,113.3 60.1,113.1 60.3,113.3 60.5,113.2 60.8,113.1 61.1,113.2 61.3,113.4 61.5,113.0 61.7,113.2 61.9,113.1 62.2,113.7 62.4,113.6 62.5,113.7 62.8,113.3 62.9,113.6 63.0,113.5 63.1,113.7 63.2,113.6 63.6,125.7 63.8,129.5 64.3,133.7 65.1,136.8 65.3,137.2 65.5,138.0 66.0,138.7 66.6,139.9 66.9,141.3 67.6,142.7 67.8,143.4 68.0,128.0 68.3,120.0 68.5,115.5 68.7,113.0 68.8,112.3 69.2,111.3 69.8,110.6 69.9,110.5 70.1,110.1 70.3,110.3 70.6,110.3 70.8,110.8 71.0,110.5 71.1,110.5 71.4,110.7 71.6,111.2 71.7,111.2 71.8,111.4 72.1,111.2 72.2,111.3 72.3,111.2 72.7,110.6 73.0,110.7 73.1,110.6 73.3,111.1 73.5,111.0 73.7,111.1 73.9,111.1 74.0,111.3 74.2,111.3 74.7,111.6 75.0,116.1 75.4,118.4 75.6,119.2 75.7,119.4 75.8,119.5 75.9,119.7 76.7,120.6 77.0,121.3 77.1,121.4 77.2,121.3 77.5,122.2 77.8,122.3 78.2,123.2 78.3,123.1 78.6,123.5 78.9,123.8 79.2,124.3 79.3,124.2 79.7,127.8 80.0,128.7 80.2,128.9 80.5,129.6 80.6,129.4 81.1,129.4 81.2,129.6 81.4,129.6 81.6,129.8 81.8,129.7 81.9,130.0 82.2,129.9 82.4,129.8 82.5,129.9 82.6,129.8 82.9,129.9 83.0,129.8 83.3,130.0 83.5,129.8 83.6,129.5 83.7,129.7 83.8,129.5 84.0,129.3 84.1,129.3 84.2,129.6 84.4,129.4 84.6,129.6 84.9,129.5 85.1,129.7 85.2,129.6 85.3,129.8 85.4,129.7 85.6,129.9 85.7,129.6 85.9,129.9 86.0,129.7 86.1,129.8 86.6,116.2 86.9,112.5 87.3,110.2 87.6,109.3 88.1,108.7 88.8,106.8 89.5,105.8 89.7,105.1 89.8,104.9 89.9,105.0 90.4,103.8 90.5,103.8 90.7,103.3 90.9,122.5 91.3,137.3 91.4,140.2 91.7,144.3 92.4,155.6 92.7,151.7 92.9,149.4 93.0,148.7 93.3,147.4 93.6,147.0 94.2,146.2 94.5,146.2 94.6,145.8 94.7,146.0 95.0,145.5 95.2,145.9 95.6,145.8 95.8,145.9 96.1,146.0 96.3,145.8 96.4,145.8 96.7,145.5 96.8,145.5 96.9,145.4 97.0,145.5 97.1,145.2 97.2,145.4 97.4,145.3 97.5,145.4 97.6,145.4 97.8,138.6 98.0,135.0 98.5,132.0 98.7,131.2 99.0,131.0 99.3,131.1 99.5,131.0 99.6,131.2 99.8,131.0 99.9,131.1 100.0,131.0 100.1,131.2 100.6,131.3 100.9,131.8 101.0,131.8 101.2,131.5 101.5,131.8 101.6,131.7 101.8,131.8 101.9,131.7 102.2,131.8 102.4,134.9 102.6,136.6 102.9,137.2 103.4,138.2 103.7,138.3 104.0,138.3 104.1,138.5 104.3,138.3 104.6,138.4 105.0,138.2 105.1,138.3 105.7,138.1 105.9,138.2 106.2,138.0 106.3,138.1 106.4,138.4 106.5,138.2 106.7,138.4 107.2,137.9 107.4,138.0 107.7,137.9 107.8,137.8 108.0,137.8 108.3,137.1 108.6,137.3 108.9,137.5 109.0,137.3 109.5,132.6 109.6,132.0 109.8,131.5 110.0,131.6 110.2,131.4 110.3,131.7 110.4,131.6 110.5,131.8 110.6,131.7 111.0,131.9 111.1,131.8 111.3,132.0 111.6,132.1 111.7,131.9 111.9,132.1 112.1,131.9 112.5,132.2 112.7,132.7 112.8,132.6 113.0,132.8 113.3,132.8 113.4,132.9 113.6,132.9 114.0,130.4 114.4,129.4 114.9,128.9 115.0,128.9 115.1,129.2 115.2,129.2 115.6,129.5 115.8,129.3 115.9,129.0 116.2,129.1 116.5,129.0 116.6,129.1 116.7,129.0 116.9,129.5 117.1,129.3 117.6,129.5 117.7,129.4 118.0,129.5 118.1,129.5 118.3,129.5 118.5,129.1 118.8,129.3 119.0,129.0 119.2,129.2 119.5,129.0 119.6,129.2 120.3,128.2 120.4,128.2 120.7,129.4 121.4,130.2 121.7,131.0 122.0,131.2 122.1,131.5 122.3,131.3 122.4,131.5 122.5,131.3 122.8,131.4 123.2,132.2 123.6,132.3 123.7,132.2 124.0,132.4 124.3,133.1 124.5,133.4 124.7,133.9 125.0,134.1 125.1,134.0 125.3,132.3 126.0,130.0 126.4,129.7 126.9,129.7 127.1,129.9 127.2,129.9 127.5,129.9 127.8,129.4 127.9,129.6 128.2,129.4 128.3,129.5 128.6,129.4 128.7,129.2 128.8,129.5 129.3,129.3 129.5,129.4 129.9,129.3 130.4,129.7 130.7,129.5 130.8,129.7 131.0,129.6 131.4,129.1 131.6,129.0 131.7,129.0 131.8,129.0 131.9,129.2 132.1,129.0 132.2,129.1 132.3,128.8 132.4,129.0 132.6,129.2 132.7,129.3 133.0,129.0 133.3,129.2 133.5,128.8 134.0,129.3 134.2,129.0 134.3,129.0 134.5,128.8 134.8,128.8 135.3,129.0 135.4,128.9 135.6,129.0 135.8,128.8 135.9,128.9 136.5,128.7 137.1,126.9 137.3,126.7 137.7,126.2 137.8,126.5 138.0,126.5 138.3,126.8 138.5,126.8 138.6,126.9 138.7,126.9 138.8,127.0 138.9,126.5 142.2,126.5 142.8,125.1 143.3,124.8 143.8,124.7 148.0,124.7 148.5,124.9 149.6,124.9 165.1,124.9 165.7,126.3 166.1,126.6 166.5,126.7 176.6,126.7 177.2,127.4 177.8,127.6 188.0,127.7 188.6,128.0 189.4,128.0 199.5,128.1 200.2,127.8 201.4,127.8 246.5,127.8" fill="none" stroke="#e51e10" stroke-width="1.2" stroke-linejoin="round"/>
<polyline points="29.0,131.6 29.1,131.4 29.2,131.5 29.3,131.4 29.6,130.9 30.0,131.2 30.4,131.6 30.6,131.6 30.7,132.0 30.8,132.0 30.9,132.2 31.4,132.4 31.7,133.2 32.0,133.3 32.2,133.6 32.5,133.7 32.9,134.2 33.2,134.6 33.4,134.5 33.5,134.7 33.7,128.3 33.9,124.8 34.3,122.2 34.7,120.2 35.0,120.4 35.2,120.2 35.5,120.3 35.6,120.2 35.9,120.2 36.0,120.4 36.4,120.3 36.6,120.5 36.8,120.3 36.9,120.6 37.1,120.6 37.5,120.9 37.6,120.9 37.8,120.6 37.9,120.6 38.2,120.4 38.4,120.4 38.5,120.4 39.0,120.9 39.1,120.6 39.4,121.1 39.6,121.0 39.8,121.0 40.1,120.6 40.3,120.9 40.7,126.9 40.9,129.1 41.3,131.0 41.6,131.7 41.9,132.0 42.3,132.9 42.5,133.1 42.7,133.0 43.9,135.3 44.0,135.5 44.2,135.4 44.5,135.7 44.9,136.6 45.3,125.2 45.5,121.8 45.8,119.3 46.3,118.1 46.5,118.0 46.6,117.8 46.9,117.8 47.0,117.6 47.3,117.5 47.4,117.6 47.5,117.6 47.8,117.9 48.0,117.9 48.2,117.6 48.5,117.7 48.7,117.5 48.8,117.7 49.3,118.1 49.5,117.7 49.6,117.7 49.8,117.8 50.0,118.1 50.2,118.0 50.3,118.2 50.4,118.0 50.8,118.1 50.9,118.3 51.0,118.2 51.1,118.5 51.2,118.3 51.3,118.4 51.4,118.3 51.6,118.5 51.8,118.5 52.1,126.5 52.5,129.8 52.8,131.5 53.3,133.1 54.4,135.6 54.5,135.6 54.8,135.9 54.9,136.3 55.0,136.3 55.4,136.9 55.6,137.3 56.4,138.7 56.8,122.0 57.2,117.6 57.5,115.8 57.9,115.3 58.1,115.2 58.3,115.4 58.4,115.2 58.7,115.0 59.2,115.8 59.3,115.7 59.5,115.8 59.6,115.7 59.7,115.7 59.9,115.6 60.3,115.8 60.5,115.7 60.7,115.8 60.8,115.7 61.2,115.7 61.3,115.9 61.5,115.8 61.7,115.8 62.2,116.5 62.4,116.2 62.7,116.0 63.0,116.0 63.1,116.2 63.2,116.1 63.6,126.3 63.8,129.5 64.2,131.9 64.5,133.4 65.2,135.4 65.5,136.1 65.6,136.2 66.3,137.9 66.4,138.0 66.9,138.9 67.2,139.8 67.8,140.6 68.2,123.9 68.4,118.9 68.8,114.3 69.2,113.4 69.4,113.3 69.8,112.7 70.2,113.2 70.3,113.0 70.7,113.4 71.0,113.3 71.3,113.5 71.5,113.5 71.7,113.8 72.2,113.4 72.4,113.4 72.7,113.0 73.2,113.3 73.3,113.2 73.5,113.6 73.7,113.4 74.1,113.5 74.3,114.1 74.7,113.9 74.9,122.9 75.1,128.0 75.4,131.2 75.7,134.0 76.7,137.6 77.2,138.2 78.2,140.9 78.6,141.5 79.0,142.7 79.2,142.7 79.3,143.0 79.5,128.0 79.7,119.5 80.1,114.1 80.3,111.9 80.5,111.1 80.9,110.8 81.0,110.8 81.2,110.5 81.4,110.8 81.8,110.4 81.9,110.5 82.1,110.3 82.5,110.8 82.7,110.9 83.0,110.7 83.5,110.9 83.7,110.7 83.8,110.9 84.2,110.8 84.3,110.9 84.5,110.9 85.0,111.6 85.2,111.5 85.3,111.6 85.4,111.6 85.6,111.7 85.7,111.6 85.8,111.7 85.9,111.3 86.0,111.2 86.1,111.3 86.5,116.0 86.8,118.2 87.4,119.7 87.7,120.3 88.0,120.4 88.2,121.0 88.3,121.0 88.5,121.4 88.7,121.4 88.9,122.1 89.2,122.8 89.6,122.7 90.0,123.3 90.5,124.3 90.6,124.3 91.1,127.6 91.4,128.8 91.5,128.8 91.6,129.1 91.9,129.3 92.1,129.7 92.2,129.6 92.4,129.7 92.5,129.9 92.9,129.6 93.0,129.6 93.2,129.9 93.3,129.9 93.6,130.0 93.8,129.7 93.9,129.8 94.0,129.7 94.3,129.9 94.4,129.8 94.5,130.0 94.6,129.8 94.8,129.9 95.0,129.8 95.2,129.8 95.3,130.1 95.4,130.1 95.6,130.4 95.9,130.2 96.0,130.4 96.1,130.3 96.2,130.4 96.3,130.1 96.4,130.1 96.6,130.3 96.7,130.1 96.8,130.1 97.1,130.3 97.5,129.8 97.6,129.9 97.9,118.1 98.4,112.0 98.8,109.9 99.1,109.6 99.8,107.7 99.9,107.7 100.2,106.8 100.9,105.6 101.0,105.6 101.4,104.9 101.8,103.3 102.1,103.1 102.2,103.1 102.4,122.6 102.7,137.1 103.9,155.0 104.2,150.0 104.5,148.1 104.9,146.6 105.1,146.7 105.3,146.6 105.5,146.8 105.6,146.6 105.7,146.8 105.8,146.7 105.9,146.8 106.3,146.4 106.4,146.4 106.9,146.1 107.1,146.1 107.2,146.0 107.3,146.1 107.4,145.9 107.8,146.1 108.2,145.6 108.3,145.8 108.6,145.9 109.0,145.5 109.3,138.5 109.6,134.0 110.1,131.9 110.3,131.5 110.4,131.6 110.6,131.2 110.8,131.4 111.0,131.3 111.1,131.1 111.3,131.2 111.7,131.3 111.9,131.5 112.1,131.4 112.2,131.7 112.4,131.6 112.6,131.6 112.8,131.9 113.0,131.9 113.3,131.7 113.5,131.9 113.6,131.8 114.0,135.8 114.4,137.6 114.5,137.7 114.8,138.2 115.0,137.9 115.4,138.5 115.6,138.5 115.7,138.3 115.8,138.4 115.9,138.3 116.1,138.6 116.4,138.6 116.5,138.4 116.7,138.3 116.8,138.2 117.3,138.2 117.5,137.9 117.7,138.0 117.9,138.2 118.2,138.3 118.3,138.2 118.9,138.0 119.0,137.9 119.1,137.9 119.2,137.8 119.3,137.8 119.7,137.5 119.9,137.6 120.0,137.4 120.3,137.4 120.5,137.2 120.8,133.2 121.3,131.5 121.4,131.5 121.7,131.1 122.0,131.4 122.5,131.5 122.9,132.1 123.0,132.0 123.1,132.2 123.2,132.2 123.5,132.4 123.6,132.2 123.7,132.5 123.9,132.5 124.0,132.7 124.3,132.8 124.5,132.6 124.6,132.6 125.0,133.0 125.1,133.0 125.3,133.8 125.5,134.2 125.9,134.6 126.0,134.4 126.2,134.7 126.4,134.1 126.6,134.3 126.9,134.4 127.1,134.6 127.2,134.5 127.4,134.7 127.7,134.8 127.8,134.7 128.0,134.8 128.3,134.5 128.4,134.2 128.5,134.2 128.6,134.6 129.0,134.5 129.2,134.3 129.3,134.5 129.4,134.4 129.6,134.5 129.9,134.2 130.0,134.4 130.1,134.2 130.3,134.3 130.6,134.0 130.7,134.1 131.0,134.1 131.2,133.9 131.4,133.7 131.5,133.8 131.6,133.6 131.7,134.0 131.9,133.8 132.3,133.7 132.4,133.9 132.5,134.0 133.0,133.6 133.1,133.3 133.2,133.4 133.3,133.2 133.4,133.3 133.7,133.3 133.9,133.6 134.2,133.3 134.6,133.5 134.9,133.3 135.0,133.4 135.3,133.4 135.5,133.1 135.7,133.2 135.9,133.1 136.1,133.3 136.4,133.2 136.5,133.0 136.9,130.1 137.1,129.2 137.2,129.1 137.3,128.9 137.4,128.9 137.8,128.5 138.1,128.5 138.3,128.3 138.5,128.5 138.8,128.3 138.9,128.4 142.2,128.4 142.8,127.3 143.2,127.0 143.6,126.9 148.0,126.9 148.5,126.6 149.2,126.5 153.7,126.5 154.3,125.1 154.7,124.8 155.3,124.7 176.6,124.7 177.2,126.0 177.5,126.3 178.0,126.4 188.0,126.5 188.6,127.2 189.3,127.4 199.5,127.4 200.1,127.7 200.9,127.8 246.5,127.8" fill="none" stroke="#0072b2" stroke-width="1.2" stroke-linejoin="round"/>
<polyline points="29.0,129.4 29.7,129.8 29.9,130.2 30.0,130.1 30.1,130.4 30.4,130.4 30.7,131.1 31.1,131.1 31.2,131.2 31.3,131.1 31.4,131.4 32.0,131.3 32.2,131.6 32.5,131.8 32.9,132.5 33.4,133.1 33.5,133.1 33.8,127.5 34.3,124.3 34.5,124.2 34.8,123.6 35.0,123.7 35.1,123.5 35.4,123.3 35.5,123.4 35.9,123.0 36.2,123.6 36.3,123.4 36.4,123.6 36.7,123.4 36.9,123.6 37.2,123.6 37.4,123.4 37.6,123.5 37.7,123.9 37.8,123.7 37.9,123.9 38.0,123.9 38.3,124.0 38.5,123.8 38.7,123.9 39.0,123.6 39.3,123.7 39.6,123.3 39.8,123.4 39.9,123.6 40.2,123.1 40.3,123.2 40.7,127.3 41.0,129.5 41.3,130.1 41.7,130.9 41.8,130.9 41.9,131.2 42.6,132.1 42.9,132.7 43.2,133.2 43.4,133.3 43.8,133.6 43.9,133.6 44.0,133.8 44.2,133.8 44.5,134.0 44.9,134.6 45.1,128.1 45.4,124.6 45.7,122.1 46.2,120.8 46.3,120.6 46.5,120.6 46.6,120.3 46.9,120.3 47.2,120.0 47.7,120.3 47.8,120.2 47.9,120.4 48.1,120.3 48.2,120.4 48.6,120.2 48.8,120.3 48.9,120.2 49.2,120.4 49.3,120.3 49.5,120.6 49.6,120.5 49.7,120.6 50.0,120.6 50.1,120.7 50.2,120.6 50.4,120.7 50.8,120.5 50.9,120.7 51.0,120.7 51.1,120.6 51.2,120.7 51.6,120.7 51.8,120.8 52.1,127.0 52.5,129.8 52.8,131.2 53.3,132.2 53.5,132.3 53.8,132.8 54.2,133.5 54.5,133.9 54.8,134.0 54.9,134.1 55.0,133.9 55.6,135.2 55.9,135.5 56.4,136.2 56.6,127.6 56.8,122.7 57.1,120.1 57.4,118.7 57.6,118.0 58.1,117.5 58.5,118.0 58.8,117.8 59.0,118.0 59.5,117.8 59.7,118.1 60.0,117.8 60.4,117.7 60.6,118.0 60.8,118.0 60.9,118.2 61.2,118.2 61.4,118.4 61.5,118.0 62.0,117.9 62.3,118.2 62.4,118.1 62.5,118.3 62.7,118.3 62.9,118.4 63.0,118.4 63.1,118.6 63.2,118.3 63.6,126.2 63.8,128.9 64.2,131.1 64.8,133.2 65.3,133.9 65.4,134.4 66.8,136.6 67.0,136.7 67.7,138.4 67.8,138.5 68.0,127.7 68.3,121.9 68.6,117.7 69.0,115.8 69.5,115.0 69.9,115.2 70.0,115.0 70.1,115.0 70.3,114.8 70.8,114.9 71.0,115.1 71.5,115.3 71.6,115.5 71.7,115.4 71.9,115.7 72.2,115.8 72.6,115.5 72.7,115.6 72.9,115.5 73.0,115.7 73.3,115.4 73.7,115.9 73.9,115.6 74.1,115.6 74.2,115.5 74.7,115.8 74.9,123.5 75.1,127.7 75.4,130.4 75.7,132.7 75.8,133.2 76.2,133.9 76.4,134.7 76.6,135.0 76.9,135.6 77.1,135.9 78.0,138.4 78.1,138.4 78.2,138.8 78.9,140.3 79.0,140.3 79.3,140.7 79.5,128.1 79.7,120.9 80.1,115.5 80.3,113.8 80.6,112.8 81.0,112.5 81.2,112.8 81.7,112.4 82.1,112.9 82.4,113.0 82.5,112.9 82.7,113.1 82.9,113.0 83.0,113.2 83.4,112.9 83.6,113.2 84.0,113.4 84.3,113.1 84.5,113.4 84.8,113.3 85.1,113.4 85.2,113.2 85.4,113.1 86.1,113.5 86.6,127.6 86.9,131.9 87.2,133.4 87.9,136.3 89.5,140.1 90.1,141.4 90.7,143.1 90.9,128.2 91.3,117.4 91.6,113.1 91.9,111.6 92.2,110.7 92.4,110.6 92.5,110.4 92.8,110.5 93.0,110.3 93.3,109.9 93.5,110.2 93.8,110.5 93.9,110.4 94.0,110.6 94.2,110.3 94.7,110.7 94.8,110.6 95.0,110.7 95.1,110.5 95.4,110.6 95.8,110.8 96.0,111.2 96.7,111.1 96.9,111.2 97.1,111.5 97.4,111.1 97.6,111.5 98.0,117.1 98.5,119.1 99.3,120.9 99.8,121.3 100.0,121.8 100.3,122.1 100.6,122.8 100.8,122.6 101.6,123.8 101.8,124.3 102.1,124.5 102.2,124.7 102.4,127.0 102.6,128.2 102.9,128.8 103.3,129.4 103.5,129.5 103.7,129.2 103.9,129.6 104.3,129.9 104.5,130.0 104.7,129.9 104.9,130.3 105.1,130.4 105.6,129.6 105.8,129.7 106.1,129.7 106.4,130.0 106.5,129.9 106.6,130.1 106.7,129.8 107.1,129.6 107.4,130.1 107.5,130.0 107.7,130.0 107.9,129.6 108.1,129.7 108.2,129.8 108.3,129.7 108.5,130.0 108.8,129.6 108.9,129.6 109.0,129.5 109.4,118.2 109.6,114.5 110.0,111.5 110.4,109.7 110.9,108.4 111.0,108.3 111.7,106.9 111.8,107.0 111.9,106.9 112.1,106.3 112.4,106.1 112.6,105.4 112.9,104.9 113.3,103.9 113.4,103.9 113.6,103.3 113.8,122.5 114.2,137.2 115.3,155.2 115.7,150.3 115.9,148.5 116.2,147.4 116.5,147.0 116.9,146.8 117.3,146.2 117.4,146.2 117.6,146.0 117.7,145.9 118.0,146.1 118.2,146.2 118.3,145.9 118.5,146.4 118.7,146.2 118.8,146.0 118.9,146.1 119.1,145.7 119.2,145.8 119.6,145.8 120.1,145.2 120.3,145.3 120.5,145.2 120.8,136.4 121.2,133.1 121.4,132.2 121.7,131.5 121.9,131.8 122.1,131.5 122.3,131.5 122.4,131.3 122.7,131.5 123.0,131.1 123.1,131.4 123.2,131.3 123.3,131.4 123.5,131.2 124.0,131.5 124.1,131.3 124.3,131.4 124.4,131.2 124.8,131.7 125.1,131.5 125.4,137.3 125.8,139.7 125.9,140.3 126.1,140.8 126.3,141.0 126.4,140.9 126.8,141.3 127.0,141.0 127.1,141.2 127.2,141.1 127.4,141.1 127.6,140.8 128.0,140.8 128.3,140.6 128.5,140.9 128.8,140.7 129.2,140.8 129.3,140.9 129.4,141.0 129.5,140.7 129.9,140.6 130.0,140.8 130.3,140.4 130.4,140.5 130.7,140.4 131.0,139.8 131.1,140.0 131.2,139.7 131.5,139.9 131.7,139.5 131.8,139.7 131.9,139.6 132.1,139.9 132.4,140.0 132.5,140.2 132.9,140.2 133.0,140.4 133.2,140.4 133.7,139.8 133.9,140.0 134.2,139.8 134.3,139.8 134.6,139.7 134.8,139.9 134.9,139.7 135.4,139.9 135.6,139.6 135.9,139.6 136.3,139.2 136.5,139.3 136.7,135.5 137.1,132.1 137.3,131.0 137.7,130.4 137.8,130.5 138.0,130.4 138.1,130.6 138.2,130.6 138.5,130.7 138.6,130.6 138.8,130.7 138.9,130.6 142.2,130.5 142.7,129.7 143.0,129.5 143.4,129.4 148.0,129.3 148.5,128.6 149.2,128.5 153.7,128.4 154.3,127.3 154.6,127.0 155.1,126.9 165.1,126.9 165.7,125.5 166.1,125.3 166.6,125.1 188.0,125.1 188.6,126.4 189.0,126.7 189.3,126.8 190.6,126.9 199.5,126.9 199.8,127.4 200.2,127.6 201.2,127.8 246.5,127.8" fill="none" stroke="#f0e442" stroke-width="1.2" stroke-linejoin="round"/>
<polyline points="29.0,129.1 29.2,128.9 29.5,123.2 29.7,126.6 29.9,128.1 30.1,132.6 30.4,131.0 30.6,130.2 30.8,129.9 31.1,130.0 31.2,129.8 31.5,129.9 31.7,130.1 31.9,130.0 32.0,130.0 32.1,130.3 32.3,130.5 32.5,130.4 32.8,130.2 32.9,130.4 33.0,130.3 33.2,130.3 33.5,130.5 33.7,129.0 34.0,128.2 34.3,133.4 34.5,130.4 34.7,129.0 35.0,124.6 35.4,127.2 36.0,127.8 36.1,127.9 36.4,127.5 36.6,127.8 36.7,127.7 37.0,127.8 37.2,127.7 37.4,127.8 37.5,127.5 37.6,127.4 37.9,128.1 38.0,128.0 38.3,128.2 38.4,128.0 38.5,127.9 38.6,128.0 38.8,127.8 39.0,127.8 39.1,127.5 39.3,127.6 39.5,127.9 39.6,127.7 40.0,127.5 40.3,127.7 40.7,128.8 40.9,134.6 41.1,132.1 41.4,131.0 41.6,126.7 41.9,129.1 42.2,130.0 42.3,130.0 42.7,130.6 43.0,130.7 43.1,131.1 43.4,131.4 43.9,132.1 44.0,132.1 44.2,132.5 44.3,132.6 44.5,132.5 44.6,132.6 44.7,132.5 44.9,132.9 45.1,128.1 45.5,124.8 45.7,118.4 45.9,121.2 46.2,122.2 46.4,126.8 46.6,124.9 46.9,123.9 47.2,123.3 47.3,123.2 47.4,123.4 47.8,123.1 47.9,123.3 48.0,123.1 48.1,123.3 48.2,123.0 48.5,123.2 48.6,123.2 48.8,123.0 48.9,123.2 49.2,123.2 49.7,122.9 49.8,122.6 50.1,122.7 50.3,122.6 50.6,122.8 50.9,123.1 51.0,123.0 51.3,123.3 51.6,123.4 51.7,123.3 51.8,123.3 52.1,127.2 52.4,122.9 52.6,127.0 52.8,129.0 53.0,133.9 53.2,133.2 53.4,132.5 53.7,131.9 54.0,131.7 54.1,132.0 54.4,132.3 54.6,132.2 54.9,132.4 55.4,133.7 55.7,134.0 55.8,133.9 56.1,134.1 56.4,134.5 56.6,127.9 56.8,124.2 56.9,123.0 57.2,126.9 57.4,123.2 57.6,121.3 57.9,116.8 58.0,117.8 58.3,119.2 58.7,119.7 59.1,120.2 59.2,120.0 59.3,120.2 59.5,120.0 59.9,120.5 60.3,120.3 60.5,120.6 61.1,120.1 61.4,120.1 61.7,119.8 62.1,120.1 62.2,120.1 62.7,120.5 62.8,120.3 62.9,120.3 63.2,120.7 63.6,126.5 63.8,134.0 64.0,132.1 64.3,131.4 64.5,127.5 64.7,129.9 65.0,131.0 65.8,132.9 66.1,133.3 66.4,134.0 66.8,134.0 67.0,134.8 67.1,134.9 67.5,135.7 67.7,135.8 67.8,136.1 68.0,127.6 68.4,120.9 68.6,113.3 68.8,115.6 69.0,116.1 69.1,116.2 69.3,120.7 69.5,118.9 70.1,117.2 70.4,117.2 70.6,117.1 70.9,117.2 71.0,117.4 71.3,117.3 71.6,116.9 71.7,117.0 71.8,116.9 71.9,117.0 72.1,116.9 72.3,117.1 72.4,117.5 72.6,117.3 73.0,117.6 73.1,117.5 73.4,117.6 73.8,117.4 74.0,117.6 74.2,117.6 74.5,117.9 74.7,117.8 75.0,125.7 75.3,122.9 75.9,135.1 76.3,134.2 76.4,134.3 76.6,134.3 76.7,134.1 76.9,134.1 77.5,135.1 78.0,135.5 78.1,135.7 78.2,135.7 78.3,135.7 79.0,137.4 79.3,137.6 79.5,127.4 79.7,121.6 79.8,119.8 80.1,123.1 80.8,111.4 81.1,113.3 81.6,114.6 81.7,114.7 81.8,114.6 81.9,115.0 82.0,115.0 82.1,114.8 82.6,114.6 83.0,115.2 83.3,115.1 83.5,115.2 83.7,114.9 84.1,115.0 84.2,115.2 84.6,114.8 84.9,114.9 85.0,115.2 85.1,115.0 85.4,115.2 85.7,114.9 86.0,115.2 86.1,115.4 86.7,134.0 86.9,133.0 87.1,133.0 87.2,133.2 87.4,129.8 87.6,132.0 88.0,133.9 88.3,135.2 89.8,138.2 90.1,139.4 90.7,140.0 90.9,127.6 91.5,109.6 91.7,111.4 91.9,111.9 92.0,112.0 92.2,115.8 92.5,113.4 92.8,112.7 92.9,112.7 93.0,112.6 93.7,112.7 94.2,112.5 94.4,112.9 94.6,112.6 94.8,112.7 95.1,112.3 95.2,112.3 95.4,112.6 95.9,112.7 96.1,113.0 96.4,113.0 96.7,112.9 97.1,113.9 97.2,113.9 97.5,114.3 97.6,114.2 97.9,125.9 98.2,124.3 98.8,138.3 99.0,137.7 99.2,137.3 99.4,137.2 99.6,137.4 100.0,138.3 100.2,138.7 100.3,138.7 100.7,140.0 101.0,140.2 101.1,140.4 101.4,141.2 101.8,142.1 102.2,143.2 102.4,128.3 102.6,119.7 102.7,117.1 103.0,119.3 103.7,106.8 104.1,109.3 104.5,110.0 104.6,110.0 104.7,110.0 104.8,110.2 105.1,110.4 105.5,110.4 105.8,110.9 106.1,110.9 106.2,110.8 106.3,111.1 106.6,111.3 107.0,111.2 107.3,111.0 107.4,111.2 107.7,111.3 107.8,111.1 108.1,111.0 108.3,110.8 108.7,111.5 108.9,111.4 109.0,111.4 109.4,116.0 109.6,123.2 109.8,121.2 110.1,120.6 110.3,116.6 110.5,118.9 110.9,120.5 111.2,121.5 111.4,121.9 111.6,122.0 111.7,121.9 111.9,122.5 112.0,122.4 112.5,123.0 112.6,123.0 112.9,124.0 113.4,124.3 113.5,124.6 113.6,124.7 114.0,127.6 114.2,128.8 114.4,123.7 114.6,127.2 114.9,128.4 115.1,133.1 115.4,130.9 115.7,130.3 116.0,130.1 116.1,129.9 116.4,130.3 116.6,130.0 117.1,129.9 117.2,129.6 117.4,129.7 117.6,129.5 117.7,129.6 117.9,129.4 118.0,129.4 118.2,129.8 118.3,129.7 118.8,129.9 118.9,129.7 119.0,129.7 119.3,130.2 119.5,130.1 119.7,130.2 120.0,129.6 120.5,129.8 121.1,109.3 121.2,109.9 121.4,110.3 121.5,110.3 121.7,113.9 122.2,109.6 122.7,108.1 123.3,106.6 123.7,106.1 123.8,105.7 124.1,105.3 124.3,104.8 124.4,104.8 124.6,104.1 125.0,103.8 125.1,103.5 125.4,130.2 125.9,149.1 126.1,148.2 126.3,150.8 126.6,150.1 126.8,155.2 127.0,152.3 127.4,150.2 127.9,148.3 128.2,147.9 128.4,148.0 128.7,147.8 129.2,147.3 129.3,147.4 129.6,147.1 129.9,147.2 130.1,147.1 130.4,147.3 130.6,147.2 130.7,147.3 131.0,146.9 131.2,147.1 131.5,146.9 131.6,146.6 131.9,146.5 132.1,146.9 132.3,147.1 132.4,147.0 132.5,147.3 133.0,147.6 133.1,147.5 133.4,147.4 133.5,147.3 133.9,147.2 134.0,147.3 134.1,147.1 134.2,147.2 134.5,147.1 134.8,147.2 134.9,147.0 135.3,147.1 135.5,147.0 135.7,146.7 136.2,146.8 136.4,146.6 136.5,146.6 136.7,140.3 137.1,135.9 137.4,134.1 138.2,133.1 138.7,133.4 138.8,133.6 138.9,133.3 142.2,133.3 142.7,132.7 143.4,132.4 148.0,132.4 148.4,131.2 148.7,130.9 149.0,130.7 149.9,130.6 153.7,130.5 154.3,129.6 155.0,129.4 165.1,129.3 165.7,128.2 166.1,128.0 166.5,127.8 176.6,127.8 176.9,126.8 177.3,126.3 177.7,126.1 178.4,126.0 199.5,126.0 199.8,126.9 200.2,127.5 200.6,127.7 201.6,127.8 246.5,127.8" fill="none" stroke="#b0b0b0" stroke-width="0.7" stroke-linejoin="round" stroke-dasharray="1.2 0.8"/>
<path d="M29.0 129.1h0M29.9 128.1h0M30.8 129.9h0M31.7 130.1h0M32.7 130.3h0M33.6 129.6h0M34.5 130.4h0M35.4 127.2h0M36.3 127.6h0M37.2 127.7h0M38.2 128.1h0M39.1 127.5h0M40.0 127.5h0M40.9 134.6h0M41.8 128.4h0M42.7 130.6h0M43.7 131.8h0M44.6 132.6h0M45.5 124.8h0M46.4 126.8h0M47.3 123.2h0M48.2 123.0h0M49.2 123.2h0M50.1 122.7h0M51.0 123.0h0M51.9 125.0h0M52.8 129.0h0M53.7 131.9h0M54.6 132.2h0M55.6 133.9h0M56.5 130.9h0M57.4 123.2h0M58.3 119.2h0M59.2 120.0h0M60.1 120.4h0M61.1 120.1h0M62.0 119.9h0M62.9 120.3h0M63.8 134.0h0M64.7 129.9h0M65.6 132.6h0M66.6 134.0h0M67.5 135.7h0M68.4 120.9h0M69.3 120.7h0M70.2 117.2h0M71.1 117.3h0M72.1 116.9h0M73.0 117.6h0M73.9 117.4h0M74.8 121.4h0M75.7 130.1h0M76.6 134.3h0M77.5 135.1h0M78.5 135.9h0M79.4 131.9h0M80.3 118.5h0M81.2 113.5h0M82.1 114.8h0M83.0 115.2h0M84.0 115.0h0M84.9 114.9h0M85.8 115.0h0M86.7 134.0h0M87.6 132.0h0M88.5 135.7h0M89.5 137.6h0M90.4 139.7h0M91.3 118.3h0M92.2 115.8h0M93.1 112.5h0M94.0 112.6h0M95.0 112.5h0M95.9 112.7h0M96.8 113.1h0M97.7 119.3h0M98.6 132.8h0M99.5 137.3h0M100.4 139.1h0M101.4 141.2h0M102.3 134.9h0M103.2 114.2h0M104.1 109.3h0M105.0 110.3h0M105.9 110.9h0M106.9 111.2h0M107.8 111.1h0M108.7 111.5h0M109.6 123.2h0M110.5 118.9h0M111.4 121.9h0M112.4 122.8h0M113.3 124.2h0M114.2 128.8h0M115.1 133.1h0M116.0 130.1h0M116.9 129.9h0M117.9 129.4h0M118.8 129.9h0M119.7 130.2h0M120.6 124.8h0M121.5 110.3h0M122.4 108.8h0M123.3 106.6h0M124.3 104.8h0M125.2 114.6h0M126.1 148.2h0M127.0 152.3h0M127.9 148.3h0M128.8 147.7h0M129.8 147.2h0M130.7 147.3h0M131.6 146.6h0M132.5 147.3h0M133.4 147.4h0M134.3 147.1h0M135.3 147.1h0M136.2 146.8h0M137.1 135.9h0M138.0 133.4h0M138.9 133.3h0M139.8 133.3h0M140.8 133.3h0M141.7 133.3h0M142.6 132.8h0M143.5 132.4h0M144.4 132.4h0M145.3 132.4h0M146.2 132.4h0M147.2 132.4h0M148.1 132.1h0M149.0 130.7h0M149.9 130.6h0M150.8 130.5h0M151.7 130.5h0M152.7 130.5h0M153.6 130.5h0M154.5 129.5h0M155.4 129.3h0M156.3 129.3h0M157.2 129.3h0M158.2 129.3h0M159.1 129.3h0M160.0 129.3h0M160.9 129.3h0M161.8 129.3h0M162.7 129.3h0M163.7 129.3h0M164.6 129.3h0M165.5 128.5h0M166.4 127.9h0M167.3 127.8h0M168.2 127.8h0M169.1 127.8h0M170.1 127.8h0M171.0 127.8h0M171.9 127.8h0M172.8 127.8h0M173.7 127.8h0M174.6 127.8h0M175.6 127.8h0M176.5 127.8h0M177.4 126.2h0M178.3 126.0h0M179.2 126.0h0M180.1 126.0h0M181.1 126.0h0M182.0 126.0h0M182.9 126.0h0M183.8 126.0h0M184.7 126.0h0M185.6 126.0h0M186.6 126.0h0M187.5 126.0h0M188.4 126.0h0M189.3 126.0h0M190.2 126.0h0M191.1 126.0h0M192.0 126.0h0M193.0 126.0h0M193.9 126.0h0M194.8 126.0h0M195.7 126.0h0M196.6 126.0h0M197.5 126.0h0M198.5 126.0h0M199.4 126.0h0M200.3 127.5h0M201.2 127.8h0M202.1 127.8h0M203.0 127.8h0M204.0 127.8h0M204.9 127.8h0M205.8 127.8h0M206.7 127.8h0M207.6 127.8h0M208.5 127.8h0M209.5 127.8h0M210.4 127.8h0M211.3 127.8h0M212.2 127.8h0M213.1 127.8h0M214.0 127.8h0M214.9 127.8h0M215.9 127.8h0M216.8 127.8h0M217.7 127.8h0M218.6 127.8h0M219.5 127.8h0M220.4 127.8h0M221.4 127.8h0M222.3 127.8h0M223.2 127.8h0M224.1 127.8h0M225.0 127.8h0M225.9 127.8h0M226.9 127.8h0M227.8 127.8h0M228.7 127.8h0M229.6 127.8h0M230.5 127.8h0M231.4 127.8h0M232.4 127.8h0M233.3 127.8h0M234.2 127.8h0M235.1 127.8h0M236.0 127.8h0M236.9 127.8h0M237.8 127.8h0M238.8 127.8h0M239.7 127.8h0M240.6 127.8h0M241.5 127.8h0M242.4 127.8h0M243.3 127.8h0M244.3 127.8h0M245.2 127.8h0M246.1 127.8h0" stroke="#000" stroke-width="1.24" stroke-linecap="round" fill="none"/>
<polyline points="29.0,128.4 29.2,128.4 29.5,133.6 29.7,130.5 29.9,129.3 30.1,124.9 30.5,127.2 30.7,127.8 31.1,128.2 31.2,128.6 31.4,128.7 31.5,129.0 31.7,128.7 32.0,129.2 32.2,129.1 32.4,129.1 32.8,129.5 32.9,129.3 33.4,129.4 33.5,129.6 33.7,132.3 34.0,134.8 34.3,129.9 34.5,133.4 34.7,134.7 35.0,139.5 35.4,137.0 35.8,136.3 36.1,136.1 36.2,136.1 36.3,135.9 36.4,136.0 36.6,135.8 36.8,136.1 37.0,135.9 37.2,135.9 37.4,135.8 37.6,135.9 37.7,135.6 37.9,135.7 38.0,135.9 38.3,136.1 38.5,135.7 38.6,135.9 38.8,135.5 39.1,135.6 39.2,135.3 39.8,135.4 39.9,135.6 40.0,135.5 40.1,135.5 40.3,135.2 40.7,131.2 40.9,124.4 41.1,127.2 41.3,128.0 41.4,128.3 41.6,132.8 41.9,130.4 42.5,129.7 42.9,130.0 43.2,130.2 43.4,130.2 43.5,130.1 43.9,130.6 44.1,130.5 44.2,130.6 44.5,130.5 44.7,130.7 44.8,130.7 44.9,130.9 45.1,128.8 45.5,127.7 45.7,132.8 45.9,128.9 46.2,127.9 46.4,123.2 46.9,125.7 47.3,126.6 47.4,126.5 47.8,126.5 48.4,127.0 48.7,126.8 48.8,126.9 49.0,126.8 49.3,127.2 49.4,127.0 49.5,127.1 49.8,126.9 50.1,127.1 50.4,126.9 50.6,127.2 50.8,127.2 50.9,127.3 51.0,127.2 51.2,127.3 51.3,127.2 51.6,127.1 51.7,127.3 51.8,127.2 52.1,128.0 52.4,134.1 52.6,131.2 52.8,130.2 53.0,125.7 53.5,128.7 53.8,129.3 54.1,130.0 54.3,130.4 54.5,130.4 54.9,130.8 55.0,130.6 55.1,130.9 55.2,130.9 55.4,131.2 55.8,131.3 55.9,131.6 56.1,131.6 56.4,131.7 56.6,127.4 56.9,124.1 57.2,117.8 57.4,120.2 57.6,121.1 57.9,125.6 58.0,124.6 58.3,123.1 58.4,122.8 58.8,122.3 59.0,122.4 59.3,122.3 59.6,122.7 59.7,122.6 59.8,122.8 60.0,122.4 60.1,122.3 60.4,122.4 60.6,122.1 60.7,122.3 60.9,122.2 61.3,122.7 61.4,122.5 61.6,122.7 61.7,122.5 61.9,122.6 62.0,122.5 62.3,122.8 62.5,122.3 62.7,122.3 63.0,122.7 63.1,122.6 63.2,122.7 63.6,126.6 63.8,122.1 64.0,126.4 64.3,128.3 64.5,133.1 64.7,131.7 65.0,131.2 65.3,130.9 65.8,131.3 65.9,131.5 66.4,131.8 66.6,131.7 66.9,132.2 67.2,133.0 67.5,133.3 67.6,133.3 67.8,133.9 68.0,126.8 68.3,123.3 68.4,122.2 68.6,126.3 68.8,122.3 69.1,120.6 69.3,115.6 69.8,118.1 70.1,118.8 70.3,118.8 70.6,119.3 70.7,119.4 70.8,119.3 71.0,119.0 71.1,119.0 71.5,118.8 71.6,118.8 71.7,119.0 72.1,118.8 72.3,119.2 72.4,119.1 72.6,119.4 72.9,119.2 73.2,119.5 73.4,119.5 73.5,119.7 73.7,119.5 73.9,119.6 74.0,119.4 74.2,119.3 74.6,119.3 74.7,119.2 75.0,125.5 75.3,133.1 75.5,131.0 75.7,130.7 75.9,126.8 76.2,129.0 76.6,131.1 76.9,131.6 77.0,131.5 77.1,131.8 77.5,132.5 77.7,132.9 78.0,133.5 78.1,133.5 78.3,133.8 78.6,134.5 78.8,134.6 79.2,135.4 79.3,135.4 79.5,126.7 79.8,120.5 80.1,113.0 80.3,114.9 80.5,115.8 80.8,120.0 81.1,117.9 81.3,117.1 81.8,116.4 82.1,116.3 82.2,116.4 82.6,116.5 82.7,116.3 82.9,116.4 83.2,116.7 83.3,116.7 83.5,116.9 83.6,116.8 83.8,116.4 84.0,116.5 84.1,116.4 84.2,116.6 84.4,116.6 84.6,116.9 85.0,116.9 85.2,116.8 85.3,117.1 85.4,116.9 85.7,116.9 86.1,117.2 86.5,125.2 86.7,122.2 86.9,126.9 87.2,129.1 87.4,134.5 87.6,133.4 88.1,133.1 88.3,133.3 88.4,133.3 88.7,133.8 88.8,133.7 89.5,135.3 89.6,135.2 89.8,135.8 89.9,135.8 90.1,136.3 90.3,136.3 90.5,137.1 90.7,137.5 90.9,127.2 91.3,118.9 91.5,122.0 91.7,117.8 92.0,115.5 92.2,110.7 92.4,112.3 92.8,113.3 93.1,113.8 93.2,113.7 93.5,113.8 93.6,113.6 93.7,113.7 93.8,113.7 94.0,114.0 94.2,113.8 94.4,114.2 94.8,114.5 95.4,114.4 95.6,114.4 95.8,114.6 96.2,114.4 96.7,114.8 97.0,115.0 97.2,115.3 97.4,115.1 97.5,115.3 97.6,115.3 98.2,134.3 98.4,132.9 98.5,132.7 98.6,132.8 98.8,129.1 99.2,132.7 99.6,134.8 99.8,135.2 99.9,135.2 101.1,137.8 101.4,138.8 101.6,138.9 102.2,140.1 102.4,127.8 103.0,109.9 103.2,111.3 103.4,111.9 103.7,116.2 103.9,114.2 104.6,112.0 104.8,112.1 105.0,112.5 105.4,112.4 105.5,112.5 105.7,112.4 105.8,112.6 105.9,112.4 106.2,112.5 106.6,113.0 107.2,113.0 107.4,112.7 107.5,112.8 108.0,112.8 108.2,112.8 108.5,113.1 108.6,113.2 108.7,113.1 108.9,113.3 109.0,113.6 109.4,125.4 109.6,123.8 110.3,137.8 110.4,137.2 110.6,137.0 111.1,137.4 111.3,138.0 111.4,138.0 112.0,139.5 112.1,139.6 112.2,139.9 113.0,142.1 113.6,143.0 113.8,128.1 114.1,119.6 114.2,117.2 114.4,119.2 114.6,114.4 114.9,112.2 115.1,107.0 115.6,109.4 116.0,110.0 116.2,109.8 116.5,110.0 116.6,109.8 116.9,110.3 117.3,110.4 117.4,110.6 117.7,110.6 118.0,110.9 118.3,110.5 118.7,111.0 118.8,111.0 119.1,111.3 119.2,111.2 119.8,111.6 119.9,111.4 120.1,111.4 120.5,111.8 120.8,115.9 121.1,123.1 121.3,121.1 121.4,120.5 121.5,120.4 121.7,116.4 122.3,120.3 122.7,120.8 123.3,122.3 123.9,122.8 124.1,123.4 124.4,123.6 124.5,123.6 124.6,123.7 125.1,124.9 125.3,118.4 125.6,114.1 125.9,107.1 126.1,109.4 126.3,110.4 126.6,114.7 126.8,113.0 127.1,111.6 127.5,111.3 127.8,111.5 128.2,111.4 128.7,111.7 129.2,112.3 129.3,111.9 129.4,112.1 130.1,111.9 130.3,112.1 130.6,112.5 130.7,112.6 130.8,112.4 130.9,112.4 131.0,112.3 131.2,112.6 131.7,112.7 131.8,113.0 131.9,113.0 132.2,112.3 132.3,112.3 132.5,111.7 132.7,111.6 133.2,111.8 133.5,111.7 133.9,112.0 134.1,112.0 134.2,111.8 134.6,112.1 134.7,112.3 135.0,112.5 135.1,112.3 135.4,112.7 135.6,112.7 135.7,112.5 136.2,112.8 136.4,112.8 136.5,113.0 136.9,125.2 137.2,130.3 137.7,132.5 138.0,133.0 138.3,133.3 138.5,133.2 138.8,133.6 138.9,133.8 142.2,133.9 142.8,133.4 143.7,133.3 153.7,133.3 154.3,132.6 155.2,132.4 165.1,132.4 165.7,131.4 166.1,131.3 166.6,131.2 176.6,131.1 177.2,130.0 177.5,129.8 178.0,129.7 188.0,129.6 188.4,128.7 188.7,128.1 189.2,127.9 189.8,127.8 246.5,127.8" fill="none" stroke="#000000" stroke-width="1.25" stroke-linejoin="round"/>
<rect x="29" y="96.4" width="229.00" height="62.80" fill="none" stroke="#6a6a6a" stroke-width="0.6"/>
<path d="M51.90 159.2v-2.0M51.90 96.4v2.0M74.80 159.2v-2.0M74.80 96.4v2.0M97.70 159.2v-2.0M97.70 96.4v2.0M120.60 159.2v-2.0M120.60 96.4v2.0M143.50 159.2v-2.0M143.50 96.4v2.0M166.40 159.2v-2.0M166.40 96.4v2.0M189.30 159.2v-2.0M189.30 96.4v2.0M212.20 159.2v-2.0M212.20 96.4v2.0M235.10 159.2v-2.0M235.10 96.4v2.0M29 151.35h2.0M258 151.35h-2.0M29 143.50h2.0M258 143.50h-2.0M29 135.65h2.0M258 135.65h-2.0M29 127.80h2.0M258 127.80h-2.0M29 119.95h2.0M258 119.95h-2.0M29 112.10h2.0M258 112.10h-2.0M29 104.25h2.0M258 104.25h-2.0" stroke="#6a6a6a" stroke-width="0.6" fill="none"/>
<text transform="translate(29.80 168.10) scale(0.91 1)" text-anchor="middle">0</text>
<text transform="translate(52.70 168.10) scale(0.91 1)" text-anchor="middle">10</text>
<text transform="translate(75.60 168.10) scale(0.91 1)" text-anchor="middle">20</text>
<text transform="translate(98.50 168.10) scale(0.91 1)" text-anchor="middle">30</text>
<text transform="translate(121.40 168.10) scale(0.91 1)" text-anchor="middle">40</text>
<text transform="translate(144.30 168.10) scale(0.91 1)" text-anchor="middle">50</text>
<text transform="translate(167.20 168.10) scale(0.91 1)" text-anchor="middle">60</text>
<text transform="translate(190.10 168.10) scale(0.91 1)" text-anchor="middle">70</text>
<text transform="translate(213.00 168.10) scale(0.91 1)" text-anchor="middle">80</text>
<text transform="translate(235.90 168.10) scale(0.91 1)" text-anchor="middle">90</text>
<text transform="translate(258.80 168.10) scale(0.91 1)" text-anchor="middle">100</text>
<text transform="translate(25.80 161.90) scale(0.91 1)" text-anchor="end">-0.4</text>
<text transform="translate(25.80 154.05) scale(0.91 1)" text-anchor="end">-0.3</text>
<text transform="translate(25.80 146.20) scale(0.91 1)" text-anchor="end">-0.2</text>
<text transform="translate(25.80 138.35) scale(0.91 1)" text-anchor="end">-0.1</text>
<text transform="translate(25.80 130.50) scale(0.91 1)" text-anchor="end">0</text>
<text transform="translate(25.80 122.65) scale(0.91 1)" text-anchor="end">0.1</text>
<text transform="translate(25.80 114.80) scale(0.91 1)" text-anchor="end">0.2</text>
<text transform="translate(25.80 106.95) scale(0.91 1)" text-anchor="end">0.3</text>
<text transform="translate(25.80 99.10) scale(0.91 1)" text-anchor="end">0.4</text>
<text transform="translate(143.50 177.60) scale(0.94 1)" text-anchor="middle">time[s]</text>
<text transform="translate(9.30 127.80) scale(0.91 1) rotate(-90)" text-anchor="middle">s-mean v̅<tspan font-size="4.2" dy="1.3">x</tspan><tspan dy="-1.3">[cm/s]</tspan></text>
<polyline points="36.0,223.3 36.9,221.3 39.3,223.3 40.0,227.3 40.9,225.3 42.7,225.1 48.4,223.3 50.0,222.1 51.1,223.3 51.5,228.3 52.6,225.6 59.3,223.8 61.1,222.6 62.2,223.6 62.6,228.3 64.0,226.1 68.2,222.6 71.1,221.8 72.0,226.3 73.3,224.3 73.7,212.0 74.4,217.3 76.0,218.1 81.3,218.6 82.0,228.3 83.7,232.3 84.6,230.8 85.1,205.3 85.6,213.3 87.1,214.3 92.8,215.0 93.5,215.8 94.8,219.6 95.9,230.3 96.6,219.3 98.2,218.3 105.3,218.3 106.2,217.3 106.9,236.4 107.7,226.3 109.3,225.8 115.0,225.1 115.7,219.1 116.4,220.8 117.7,220.8 118.1,230.8 120.4,229.8 125.5,228.3 126.1,218.8 126.8,220.8 128.4,220.8 129.0,229.8 133.7,228.8 139.5,227.8 139.9,224.8 140.8,223.3 141.4,224.8 142.3,224.1 158.1,223.3 246.9,223.3" fill="none" stroke="#e51e10" stroke-width="0.7" stroke-linejoin="round"/>
<path d="M36.0 223.3h0M36.7 221.8h0M37.3 221.7h0M38.0 222.2h0M38.7 222.8h0M39.3 223.3h0M40.0 227.3h0M40.7 225.8h0M41.3 225.3h0M42.0 225.2h0M42.7 225.1h0M43.3 224.9h0M44.0 224.7h0M44.7 224.5h0M45.3 224.3h0M46.0 224.1h0M46.7 223.9h0M47.3 223.7h0M48.0 223.5h0M48.7 223.1h0M49.3 222.6h0M50.0 222.1h0M50.7 222.8h0M51.3 225.8h0M52.0 227.2h0M52.6 225.6h0M53.3 225.4h0M54.0 225.2h0M54.6 225.1h0M55.3 224.9h0M56.0 224.7h0M56.6 224.5h0M57.3 224.3h0M58.0 224.2h0M58.6 224.0h0M59.3 223.8h0M60.0 223.4h0M60.6 222.9h0M61.3 222.8h0M62.0 223.4h0M62.6 228.3h0M63.3 227.2h0M64.0 226.1h0M64.6 225.5h0M65.3 225.0h0M66.0 224.4h0M66.6 223.9h0M67.3 223.3h0M68.0 222.8h0M68.6 222.5h0M69.3 222.3h0M70.0 222.1h0M70.6 221.9h0M71.3 222.9h0M72.0 226.3h0M72.6 225.3h0M73.3 224.3h0M74.0 213.8h0M74.6 217.4h0M75.3 217.7h0M76.0 218.1h0M76.6 218.1h0M77.3 218.2h0M78.0 218.2h0M78.6 218.3h0M79.3 218.4h0M80.0 218.4h0M80.6 218.5h0M81.3 218.6h0M82.0 228.3h0M82.6 229.8h0M83.3 231.3h0M84.0 232.0h0M84.6 230.8h0M85.3 208.5h0M86.0 213.5h0M86.6 214.0h0M87.3 214.3h0M87.9 214.4h0M88.6 214.5h0M89.3 214.6h0M89.9 214.7h0M90.6 214.8h0M91.3 214.8h0M91.9 214.9h0M92.6 215.0h0M93.3 215.5h0M93.9 217.1h0M94.6 218.9h0M95.3 223.9h0M95.9 230.3h0M96.6 219.3h0M97.3 218.9h0M97.9 218.4h0M98.6 218.3h0M99.3 218.3h0M99.9 218.3h0M100.6 218.3h0M101.3 218.3h0M101.9 218.3h0M102.6 218.3h0M103.3 218.3h0M103.9 218.3h0M104.6 218.3h0M105.3 218.3h0M105.9 217.6h0M106.6 228.2h0M107.3 232.1h0M107.9 226.3h0M108.6 226.0h0M109.3 225.8h0M109.9 225.7h0M110.6 225.7h0M111.3 225.6h0M111.9 225.5h0M112.6 225.4h0M113.3 225.3h0M113.9 225.2h0M114.6 225.1h0M115.3 223.1h0M115.9 219.6h0M116.6 220.8h0M117.3 220.8h0M117.9 225.8h0M118.6 230.6h0M119.2 230.3h0M119.9 230.0h0M120.6 229.8h0M121.2 229.6h0M121.9 229.4h0M122.6 229.2h0M123.2 229.0h0M123.9 228.8h0M124.6 228.6h0M125.2 228.4h0M125.9 222.0h0M126.6 220.1h0M127.2 220.8h0M127.9 220.8h0M128.6 223.8h0M129.2 229.8h0M129.9 229.6h0M130.6 229.5h0M131.2 229.4h0M131.9 229.2h0M132.6 229.1h0M133.2 228.9h0M133.9 228.8h0M134.6 228.7h0M135.2 228.6h0M135.9 228.5h0M136.6 228.3h0M137.2 228.2h0M137.9 228.1h0M138.6 228.0h0M139.2 227.9h0M139.9 224.8h0M140.6 223.7h0M141.2 224.3h0M141.9 224.4h0M142.6 224.1h0M143.2 224.0h0M143.9 224.0h0M144.6 224.0h0M145.2 223.9h0M145.9 223.9h0M146.6 223.8h0M147.2 223.8h0M147.9 223.8h0M148.6 223.8h0M149.2 223.7h0M149.9 223.7h0M150.6 223.7h0M151.2 223.6h0M151.9 223.6h0M152.6 223.6h0M153.2 223.5h0M153.9 223.5h0M154.5 223.5h0M155.2 223.5h0M155.9 223.4h0M156.5 223.4h0M157.2 223.4h0M157.9 223.3h0M158.5 223.3h0M159.2 223.3h0M159.9 223.3h0M160.5 223.3h0M161.2 223.3h0M161.9 223.3h0M162.5 223.3h0M163.2 223.3h0M163.9 223.3h0M164.5 223.3h0M165.2 223.3h0M165.9 223.3h0M166.5 223.3h0M167.2 223.3h0M167.9 223.3h0M168.5 223.3h0M169.2 223.3h0M169.9 223.3h0M170.5 223.3h0M171.2 223.3h0M171.9 223.3h0M172.5 223.3h0M173.2 223.3h0M173.9 223.3h0M174.5 223.3h0M175.2 223.3h0M175.9 223.3h0M176.5 223.3h0M177.2 223.3h0M177.9 223.3h0M178.5 223.3h0M179.2 223.3h0M179.9 223.3h0M180.5 223.3h0M181.2 223.3h0M181.9 223.3h0M182.5 223.3h0M183.2 223.3h0M183.9 223.3h0M184.5 223.3h0M185.2 223.3h0M185.9 223.3h0M186.5 223.3h0M187.2 223.3h0M187.8 223.3h0M188.5 223.3h0M189.2 223.3h0M189.8 223.3h0M190.5 223.3h0M191.2 223.3h0M191.8 223.3h0M192.5 223.3h0M193.2 223.3h0M193.8 223.3h0M194.5 223.3h0M195.2 223.3h0M195.8 223.3h0M196.5 223.3h0M197.2 223.3h0M197.8 223.3h0M198.5 223.3h0M199.2 223.3h0M199.8 223.3h0M200.5 223.3h0M201.2 223.3h0M201.8 223.3h0M202.5 223.3h0M203.2 223.3h0M203.8 223.3h0M204.5 223.3h0M205.2 223.3h0M205.8 223.3h0M206.5 223.3h0M207.2 223.3h0M207.8 223.3h0M208.5 223.3h0M209.2 223.3h0M209.8 223.3h0M210.5 223.3h0M211.2 223.3h0M211.8 223.3h0M212.5 223.3h0M213.2 223.3h0M213.8 223.3h0M214.5 223.3h0M215.2 223.3h0M215.8 223.3h0M216.5 223.3h0M217.2 223.3h0M217.8 223.3h0M218.5 223.3h0M219.1 223.3h0M219.8 223.3h0M220.5 223.3h0M221.1 223.3h0M221.8 223.3h0M222.5 223.3h0M223.1 223.3h0M223.8 223.3h0M224.5 223.3h0M225.1 223.3h0M225.8 223.3h0M226.5 223.3h0M227.1 223.3h0M227.8 223.3h0M228.5 223.3h0M229.1 223.3h0M229.8 223.3h0M230.5 223.3h0M231.1 223.3h0M231.8 223.3h0M232.5 223.3h0M233.1 223.3h0M233.8 223.3h0M234.5 223.3h0M235.1 223.3h0M235.8 223.3h0M236.5 223.3h0M237.1 223.3h0M237.8 223.3h0M238.5 223.3h0M239.1 223.3h0M239.8 223.3h0M240.5 223.3h0M241.1 223.3h0M241.8 223.3h0M242.5 223.3h0M243.1 223.3h0M243.8 223.3h0M244.5 223.3h0M245.1 223.3h0M245.8 223.3h0M246.5 223.3h0" stroke="#e51e10" stroke-width="0.84" stroke-linecap="round" fill="none"/>
<polyline points="36.0,223.3 36.9,220.3 39.3,222.3 40.0,225.3 40.9,224.3 42.7,224.1 48.4,222.6 50.0,221.1 51.1,222.6 51.5,226.3 52.6,224.8 59.3,223.1 61.1,221.6 62.2,222.8 62.6,226.3 64.0,225.3 68.2,221.3 71.1,220.3 72.0,224.8 73.3,223.3 73.7,204.5 74.4,214.8 76.0,216.0 81.3,216.5 82.0,224.6 83.7,228.3 84.6,225.8 85.1,193.2 85.6,207.5 87.1,209.3 92.8,210.8 94.7,185.7 95.1,185.7 95.2,186.0 95.9,191.2 98.2,200.7 100.4,207.8 102.6,211.8 105.3,214.3 106.2,201.2 106.8,213.3 107.5,210.3 109.3,214.3 111.5,219.8 113.3,222.8 115.0,223.1 115.7,218.1 116.4,220.3 117.7,220.3 118.1,227.8 120.4,227.8 125.5,226.1 126.1,217.8 126.8,220.6 128.4,220.6 129.0,227.8 139.5,226.1 139.9,224.3 140.8,222.8 141.4,224.6 142.3,223.6 147.0,223.6 158.1,223.1 169.2,223.3 246.9,223.3" fill="none" stroke="#009e73" stroke-width="0.9" stroke-linejoin="round"/>
<polyline points="36.0,223.3 36.9,222.1 39.3,224.3 40.0,229.8 40.9,226.3 48.4,224.1 50.0,223.1 51.1,224.3 51.5,230.8 52.6,226.3 59.3,224.6 61.1,223.3 62.2,224.3 62.6,231.1 64.0,227.1 68.2,223.8 71.1,223.3 72.0,228.6 73.3,225.8 73.7,217.8 74.4,219.1 76.0,219.6 81.1,219.8 81.5,237.9 84.6,241.1 85.1,214.3 85.6,215.8 87.1,215.8 92.6,216.3 93.3,222.8 95.1,223.3 95.9,241.1 96.6,222.3 98.2,220.8 105.3,220.8 106.2,222.3 106.9,243.9 107.7,233.9 109.3,233.4 115.0,232.3 115.7,219.8 116.4,221.3 117.7,221.3 118.1,234.9 120.4,233.6 125.5,232.1 126.1,219.6 126.8,221.3 128.4,221.3 129.0,233.6 139.5,230.8 139.9,225.3 140.8,223.8 141.4,225.6 142.3,224.6 158.1,223.6 169.2,223.3 246.9,223.3" fill="none" stroke="#000" stroke-width="1.0" stroke-linejoin="round"/>
<text transform="translate(231.00 233.00) scale(0.94 1)" text-anchor="end">s-mean P</text>
<path d="M233.80 230.40h16.6" stroke="#e51e10" stroke-width="0.7" fill="none"/>
<circle cx="242.10" cy="230.40" r="0.55" fill="#e51e10"/>
<text transform="translate(231.00 239.20) scale(0.94 1)" text-anchor="end">s-max  P</text>
<path d="M233.80 236.60h16.6" stroke="#009e73" stroke-width="1.0" fill="none"/>
<text transform="translate(231.00 245.40) scale(0.94 1)" text-anchor="end">s-min  P</text>
<path d="M233.80 242.80h16.6" stroke="#000" stroke-width="1.3" fill="none"/>
<rect x="36" y="185.7" width="222.00" height="62.70" fill="none" stroke="#6a6a6a" stroke-width="0.6"/>
<path d="M58.20 248.4v-2.0M58.20 185.7v2.0M80.40 248.4v-2.0M80.40 185.7v2.0M102.60 248.4v-2.0M102.60 185.7v2.0M124.80 248.4v-2.0M124.80 185.7v2.0M147.00 248.4v-2.0M147.00 185.7v2.0M169.20 248.4v-2.0M169.20 185.7v2.0M191.40 248.4v-2.0M191.40 185.7v2.0M213.60 248.4v-2.0M213.60 185.7v2.0M235.80 248.4v-2.0M235.80 185.7v2.0M36 235.86h2.0M258 235.86h-2.0M36 223.32h2.0M258 223.32h-2.0M36 210.78h2.0M258 210.78h-2.0M36 198.24h2.0M258 198.24h-2.0" stroke="#6a6a6a" stroke-width="0.6" fill="none"/>
<text transform="translate(36.80 257.30) scale(0.91 1)" text-anchor="middle">0</text>
<text transform="translate(59.00 257.30) scale(0.91 1)" text-anchor="middle">10</text>
<text transform="translate(81.20 257.30) scale(0.91 1)" text-anchor="middle">20</text>
<text transform="translate(103.40 257.30) scale(0.91 1)" text-anchor="middle">30</text>
<text transform="translate(125.60 257.30) scale(0.91 1)" text-anchor="middle">40</text>
<text transform="translate(147.80 257.30) scale(0.91 1)" text-anchor="middle">50</text>
<text transform="translate(170.00 257.30) scale(0.91 1)" text-anchor="middle">60</text>
<text transform="translate(192.20 257.30) scale(0.91 1)" text-anchor="middle">70</text>
<text transform="translate(214.40 257.30) scale(0.91 1)" text-anchor="middle">80</text>
<text transform="translate(236.60 257.30) scale(0.91 1)" text-anchor="middle">90</text>
<text transform="translate(258.80 257.30) scale(0.91 1)" text-anchor="middle">100</text>
<text transform="translate(32.80 251.10) scale(0.91 1)" text-anchor="end">-0.01</text>
<text transform="translate(32.80 238.56) scale(0.91 1)" text-anchor="end">-0.005</text>
<text transform="translate(32.80 226.02) scale(0.91 1)" text-anchor="end">0</text>
<text transform="translate(32.80 213.48) scale(0.91 1)" text-anchor="end">0.005</text>
<text transform="translate(32.80 200.94) scale(0.91 1)" text-anchor="end">0.01</text>
<text transform="translate(32.80 188.40) scale(0.91 1)" text-anchor="end">0.015</text>
<text transform="translate(147.00 266.80) scale(0.94 1)" text-anchor="middle">time[s]</text>
<text transform="translate(9.30 217.05) scale(0.91 1) rotate(-90)" text-anchor="middle">seg.6: P[mmHg]</text>
<polyline points="314.0,44.8 314.7,48.3 318.6,48.6 319.2,40.8 325.4,41.5 326.3,49.0 329.9,49.3 330.6,39.1 331.8,39.8 336.5,40.0 337.7,49.6 341.5,49.8 342.2,37.2 343.6,38.2 348.4,38.5 349.5,49.8 352.7,49.8 353.4,35.7 354.7,37.0 359.3,37.2 360.9,40.8 362.7,41.3 363.8,44.2 365.2,43.3 370.9,42.3 372.7,35.3 374.5,35.0 375.9,48.6 376.8,52.4 381.8,51.7 383.0,44.8 384.3,47.3 386.4,47.3 387.7,51.9 389.1,48.8 394.1,48.3 395.3,42.9 396.8,44.8 398.2,46.1 399.1,48.6 400.3,46.8 405.5,46.7 406.4,43.3 407.8,44.8 419.8,44.8 421.9,43.3 443.7,43.3 466.5,44.8 530.2,44.8" fill="none" stroke="#e51e10" stroke-width="0.7" stroke-linejoin="round"/>
<path d="M314.0 44.8h0M314.7 48.3h0M315.4 48.4h0M316.0 48.4h0M316.7 48.5h0M317.4 48.5h0M318.1 48.6h0M318.8 46.0h0M319.5 40.8h0M320.1 40.9h0M320.8 41.0h0M321.5 41.0h0M322.2 41.1h0M322.9 41.2h0M323.6 41.3h0M324.2 41.4h0M324.9 41.5h0M325.6 43.4h0M326.3 49.0h0M327.0 49.0h0M327.7 49.1h0M328.3 49.2h0M329.0 49.2h0M329.7 49.3h0M330.4 42.5h0M331.1 39.4h0M331.8 39.8h0M332.4 39.8h0M333.1 39.8h0M333.8 39.9h0M334.5 39.9h0M335.2 39.9h0M335.8 40.0h0M336.5 40.0h0M337.2 45.8h0M337.9 49.6h0M338.6 49.6h0M339.3 49.7h0M339.9 49.7h0M340.6 49.8h0M341.3 49.8h0M342.0 41.4h0M342.7 37.6h0M343.4 38.1h0M344.0 38.3h0M344.7 38.3h0M345.4 38.3h0M346.1 38.4h0M346.8 38.4h0M347.5 38.5h0M348.1 38.5h0M348.8 43.0h0M349.5 49.8h0M350.2 49.8h0M350.9 49.8h0M351.6 49.8h0M352.2 49.8h0M352.9 45.1h0M353.6 35.9h0M354.3 36.6h0M355.0 37.0h0M355.7 37.0h0M356.3 37.1h0M357.0 37.1h0M357.7 37.2h0M358.4 37.2h0M359.1 37.2h0M359.7 38.2h0M360.4 39.8h0M361.1 40.8h0M361.8 41.0h0M362.5 41.2h0M363.2 42.4h0M363.8 44.2h0M364.5 43.7h0M365.2 43.3h0M365.9 43.2h0M366.6 43.0h0M367.3 42.9h0M367.9 42.8h0M368.6 42.7h0M369.3 42.6h0M370.0 42.4h0M370.7 42.3h0M371.4 40.5h0M372.0 37.9h0M372.7 35.3h0M373.4 35.2h0M374.1 35.1h0M374.8 37.2h0M375.5 44.0h0M376.1 49.5h0M376.8 52.4h0M377.5 52.3h0M378.2 52.2h0M378.9 52.1h0M379.5 52.0h0M380.2 51.9h0M380.9 51.8h0M381.6 51.8h0M382.3 49.0h0M383.0 44.8h0M383.6 46.1h0M384.3 47.3h0M385.0 47.3h0M385.7 47.3h0M386.4 47.3h0M387.1 49.6h0M387.7 51.9h0M388.4 50.3h0M389.1 48.8h0M389.8 48.8h0M390.5 48.7h0M391.2 48.6h0M391.8 48.6h0M392.5 48.5h0M393.2 48.4h0M393.9 48.4h0M394.6 46.2h0M395.3 42.9h0M395.9 43.7h0M396.6 44.5h0M397.3 45.2h0M398.0 45.8h0M398.7 47.3h0M399.4 48.2h0M400.0 47.2h0M400.7 46.8h0M401.4 46.8h0M402.1 46.8h0M402.8 46.8h0M403.4 46.7h0M404.1 46.7h0M404.8 46.7h0M405.5 46.7h0M406.2 44.1h0M406.9 43.8h0M407.5 44.5h0M408.2 44.8h0M408.9 44.8h0M409.6 44.8h0M410.3 44.8h0M411.0 44.8h0M411.6 44.8h0M412.3 44.8h0M413.0 44.8h0M413.7 44.8h0M414.4 44.8h0M415.1 44.8h0M415.7 44.8h0M416.4 44.8h0M417.1 44.8h0M417.8 44.8h0M418.5 44.8h0M419.2 44.8h0M419.8 44.8h0M420.5 44.3h0M421.2 43.8h0M421.9 43.3h0M422.6 43.3h0M423.2 43.3h0M423.9 43.3h0M424.6 43.3h0M425.3 43.3h0M426.0 43.3h0M426.7 43.3h0M427.3 43.3h0M428.0 43.3h0M428.7 43.3h0M429.4 43.3h0M430.1 43.3h0M430.8 43.3h0M431.4 43.3h0M432.1 43.3h0M432.8 43.3h0M433.5 43.3h0M434.2 43.3h0M434.9 43.3h0M435.5 43.3h0M436.2 43.3h0M436.9 43.3h0M437.6 43.3h0M438.3 43.3h0M439.0 43.3h0M439.6 43.3h0M440.3 43.3h0M441.0 43.3h0M441.7 43.3h0M442.4 43.3h0M443.0 43.3h0M443.7 43.3h0M444.4 43.3h0M445.1 43.4h0M445.8 43.4h0M446.5 43.5h0M447.1 43.5h0M447.8 43.6h0M448.5 43.6h0M449.2 43.7h0M449.9 43.7h0M450.6 43.7h0M451.2 43.8h0M451.9 43.8h0M452.6 43.9h0M453.3 43.9h0M454.0 44.0h0M454.7 44.0h0M455.3 44.1h0M456.0 44.1h0M456.7 44.1h0M457.4 44.2h0M458.1 44.2h0M458.8 44.3h0M459.4 44.3h0M460.1 44.4h0M460.8 44.4h0M461.5 44.5h0M462.2 44.5h0M462.9 44.6h0M463.5 44.6h0M464.2 44.6h0M464.9 44.7h0M465.6 44.7h0M466.3 44.8h0M466.9 44.8h0M467.6 44.8h0M468.3 44.8h0M469.0 44.8h0M469.7 44.8h0M470.4 44.8h0M471.0 44.8h0M471.7 44.8h0M472.4 44.8h0M473.1 44.8h0M473.8 44.8h0M474.5 44.8h0M475.1 44.8h0M475.8 44.8h0M476.5 44.8h0M477.2 44.8h0M477.9 44.8h0M478.6 44.8h0M479.2 44.8h0M479.9 44.8h0M480.6 44.8h0M481.3 44.8h0M482.0 44.8h0M482.7 44.8h0M483.3 44.8h0M484.0 44.8h0M484.7 44.8h0M485.4 44.8h0M486.1 44.8h0M486.7 44.8h0M487.4 44.8h0M488.1 44.8h0M488.8 44.8h0M489.5 44.8h0M490.2 44.8h0M490.8 44.8h0M491.5 44.8h0M492.2 44.8h0M492.9 44.8h0M493.6 44.8h0M494.3 44.8h0M494.9 44.8h0M495.6 44.8h0M496.3 44.8h0M497.0 44.8h0M497.7 44.8h0M498.4 44.8h0M499.0 44.8h0M499.7 44.8h0M500.4 44.8h0M501.1 44.8h0M501.8 44.8h0M502.5 44.8h0M503.1 44.8h0M503.8 44.8h0M504.5 44.8h0M505.2 44.8h0M505.9 44.8h0M506.5 44.8h0M507.2 44.8h0M507.9 44.8h0M508.6 44.8h0M509.3 44.8h0M510.0 44.8h0M510.6 44.8h0M511.3 44.8h0M512.0 44.8h0M512.7 44.8h0M513.4 44.8h0M514.1 44.8h0M514.7 44.8h0M515.4 44.8h0M516.1 44.8h0M516.8 44.8h0M517.5 44.8h0M518.2 44.8h0M518.8 44.8h0M519.5 44.8h0M520.2 44.8h0M520.9 44.8h0M521.6 44.8h0M522.3 44.8h0M522.9 44.8h0M523.6 44.8h0M524.3 44.8h0M525.0 44.8h0M525.7 44.8h0M526.4 44.8h0M527.0 44.8h0M527.7 44.8h0M528.4 44.8h0M529.1 44.8h0M529.8 44.8h0" stroke="#e51e10" stroke-width="0.84" stroke-linecap="round" fill="none"/>
<polyline points="314.0,44.8 318.6,44.8 319.2,32.8 320.8,37.0 325.4,37.7 326.3,44.8 329.9,44.8 330.5,28.4 332.0,33.7 336.3,34.2 337.7,44.8 341.5,44.8 342.1,27.7 343.6,30.7 348.4,31.6 349.5,44.8 352.7,44.8 353.4,26.9 354.7,29.7 359.3,30.1 360.0,28.4 361.8,16.5 362.7,13.3 363.4,24.6 364.3,36.0 365.2,33.2 370.9,31.6 371.6,28.4 372.7,15.8 374.5,11.4 375.5,29.7 376.4,41.0 378.2,44.5 381.8,44.8 383.0,39.5 384.1,44.4 386.1,44.8 386.8,37.7 388.2,44.4 394.3,44.8 395.0,37.9 395.9,39.8 397.8,42.0 398.9,44.5 405.5,44.8 406.2,38.5 407.3,42.9 409.6,42.5 416.4,42.3 420.5,42.3 421.9,41.0 432.4,41.0 443.7,41.3 452.8,42.3 461.9,43.5 473.3,44.4 484.7,44.8 530.2,44.8" fill="none" stroke="#009e73" stroke-width="0.9" stroke-linejoin="round"/>
<polyline points="314.0,44.8 314.7,53.0 316.3,49.8 317.4,52.4 318.6,51.1 319.0,44.8 325.6,44.8 326.5,56.1 327.7,52.4 329.0,54.4 329.9,52.4 330.4,44.8 336.8,44.8 337.7,56.1 339.0,53.6 340.4,55.1 341.5,53.6 342.0,44.8 348.4,44.8 349.3,56.8 350.6,54.2 352.0,55.6 352.7,54.2 353.1,44.8 359.1,44.8 360.0,46.1 360.9,51.1 362.7,51.7 363.6,55.1 364.8,55.5 365.4,61.2 366.1,57.4 371.1,57.4 372.7,46.1 374.1,48.6 375.0,49.8 376.4,66.8 376.9,57.4 377.5,60.5 381.8,60.5 383.0,46.7 385.2,47.3 386.6,52.4 387.7,66.8 388.7,58.9 393.7,58.7 395.0,44.8 397.1,48.6 398.2,51.1 398.9,59.3 400.0,52.6 405.5,52.1 406.4,43.3 407.3,47.3 408.5,49.8 410.7,48.6 417.6,48.0 420.1,46.1 421.9,45.4 432.4,44.8 530.2,44.8" fill="none" stroke="#000" stroke-width="1.0" stroke-linejoin="round"/>
<text transform="translate(515.40 55.10) scale(0.94 1)" text-anchor="end">s-mean v</text>
<path d="M518.10 52.50h16.4" stroke="#e51e10" stroke-width="0.7" fill="none"/>
<circle cx="526.30" cy="52.50" r="0.55" fill="#e51e10"/>
<text transform="translate(515.40 61.30) scale(0.94 1)" text-anchor="end">s-max  v</text>
<path d="M518.10 58.70h16.4" stroke="#009e73" stroke-width="1.0" fill="none"/>
<text transform="translate(515.40 67.40) scale(0.94 1)" text-anchor="end">s-min  v</text>
<path d="M518.10 64.80h16.4" stroke="#000" stroke-width="1.3" fill="none"/>
<rect x="314" y="7" width="227.60" height="63.00" fill="none" stroke="#6a6a6a" stroke-width="0.6"/>
<path d="M336.76 70v-2.0M336.76 7v2.0M359.52 70v-2.0M359.52 7v2.0M382.28 70v-2.0M382.28 7v2.0M405.04 70v-2.0M405.04 7v2.0M427.80 70v-2.0M427.80 7v2.0M450.56 70v-2.0M450.56 7v2.0M473.32 70v-2.0M473.32 7v2.0M496.08 70v-2.0M496.08 7v2.0M518.84 70v-2.0M518.84 7v2.0M314 63.70h2.0M541.6 63.70h-2.0M314 57.40h2.0M541.6 57.40h-2.0M314 51.10h2.0M541.6 51.10h-2.0M314 44.80h2.0M541.6 44.80h-2.0M314 38.50h2.0M541.6 38.50h-2.0M314 32.20h2.0M541.6 32.20h-2.0M314 25.90h2.0M541.6 25.90h-2.0M314 19.60h2.0M541.6 19.60h-2.0M314 13.30h2.0M541.6 13.30h-2.0" stroke="#6a6a6a" stroke-width="0.6" fill="none"/>
<text transform="translate(314.80 78.90) scale(0.91 1)" text-anchor="middle">0</text>
<text transform="translate(337.56 78.90) scale(0.91 1)" text-anchor="middle">10</text>
<text transform="translate(360.32 78.90) scale(0.91 1)" text-anchor="middle">20</text>
<text transform="translate(383.08 78.90) scale(0.91 1)" text-anchor="middle">30</text>
<text transform="translate(405.84 78.90) scale(0.91 1)" text-anchor="middle">40</text>
<text transform="translate(428.60 78.90) scale(0.91 1)" text-anchor="middle">50</text>
<text transform="translate(451.36 78.90) scale(0.91 1)" text-anchor="middle">60</text>
<text transform="translate(474.12 78.90) scale(0.91 1)" text-anchor="middle">70</text>
<text transform="translate(496.88 78.90) scale(0.91 1)" text-anchor="middle">80</text>
<text transform="translate(519.64 78.90) scale(0.91 1)" text-anchor="middle">90</text>
<text transform="translate(542.40 78.90) scale(0.91 1)" text-anchor="middle">100</text>
<text transform="translate(310.80 72.70) scale(0.91 1)" text-anchor="end">-2</text>
<text transform="translate(310.80 66.40) scale(0.91 1)" text-anchor="end">-1.5</text>
<text transform="translate(310.80 60.10) scale(0.91 1)" text-anchor="end">-1</text>
<text transform="translate(310.80 53.80) scale(0.91 1)" text-anchor="end">-0.5</text>
<text transform="translate(310.80 47.50) scale(0.91 1)" text-anchor="end">0</text>
<text transform="translate(310.80 41.20) scale(0.91 1)" text-anchor="end">0.5</text>
<text transform="translate(310.80 34.90) scale(0.91 1)" text-anchor="end">1</text>
<text transform="translate(310.80 28.60) scale(0.91 1)" text-anchor="end">1.5</text>
<text transform="translate(310.80 22.30) scale(0.91 1)" text-anchor="end">2</text>
<text transform="translate(310.80 16.00) scale(0.91 1)" text-anchor="end">2.5</text>
<text transform="translate(310.80 9.70) scale(0.91 1)" text-anchor="end">3</text>
<text transform="translate(427.80 88.40) scale(0.94 1)" text-anchor="middle">time[s]</text>
<text transform="translate(293.00 38.50) scale(0.91 1) rotate(-90)" text-anchor="middle">seg.6:  v/v<tspan font-size="4.2" dy="1.4">in</tspan><tspan dy="-1.4">, v</tspan><tspan font-size="4.2" dy="1.4">in</tspan><tspan dy="-1.4">=0.4 cm/s</tspan></text>
<polyline points="314.0,121.5 318.6,96.4 329.9,96.4 381.1,121.5 530.2,121.5" fill="none" stroke="#b8b8b8" stroke-width="0.8" stroke-linejoin="round" stroke-dasharray="1.4 0.7"/>
<path d="M314.0 121.5h0M315.1 115.2h0M316.3 109.0h0M317.4 102.7h0M318.6 96.4h0M319.7 96.4h0M320.8 96.4h0M322.0 96.4h0M323.1 96.4h0M324.2 96.4h0M325.4 96.4h0M326.5 96.4h0M327.7 96.4h0M328.8 96.4h0M329.9 96.4h0M331.1 97.0h0M332.2 97.5h0M333.3 98.1h0M334.5 98.6h0M335.6 99.2h0M336.8 99.7h0M337.9 100.3h0M339.0 100.9h0M340.2 101.4h0M341.3 102.0h0M342.4 102.5h0M343.6 103.1h0M344.7 103.7h0M345.9 104.2h0M347.0 104.8h0M348.1 105.3h0M349.3 105.9h0M350.4 106.4h0M351.6 107.0h0M352.7 107.6h0M353.8 108.1h0M355.0 108.7h0M356.1 109.2h0M357.2 109.8h0M358.4 110.4h0M359.5 110.9h0M360.7 111.5h0M361.8 112.0h0M362.9 112.6h0M364.1 113.1h0M365.2 113.7h0M366.3 114.3h0M367.5 114.8h0M368.6 115.4h0M369.8 115.9h0M370.9 116.5h0M372.0 117.1h0M373.2 117.6h0M374.3 118.2h0M375.5 118.7h0M376.6 119.3h0M377.7 119.8h0M378.9 120.4h0M380.0 121.0h0M381.1 121.5h0M382.3 121.5h0M383.4 121.5h0M384.6 121.5h0M385.7 121.5h0M386.8 121.5h0M388.0 121.5h0M389.1 121.5h0M390.2 121.5h0M391.4 121.5h0M392.5 121.5h0M393.7 121.5h0M394.8 121.5h0M395.9 121.5h0M397.1 121.5h0M398.2 121.5h0M399.4 121.5h0M400.5 121.5h0M401.6 121.5h0M402.8 121.5h0M403.9 121.5h0M405.0 121.5h0M406.2 121.5h0M407.3 121.5h0M408.5 121.5h0M409.6 121.5h0M410.7 121.5h0M411.9 121.5h0M413.0 121.5h0M414.1 121.5h0M415.3 121.5h0M416.4 121.5h0M417.6 121.5h0M418.7 121.5h0M419.8 121.5h0M421.0 121.5h0M422.1 121.5h0M423.2 121.5h0M424.4 121.5h0M425.5 121.5h0M426.7 121.5h0M427.8 121.5h0M428.9 121.5h0M430.1 121.5h0M431.2 121.5h0M432.4 121.5h0M433.5 121.5h0M434.6 121.5h0M435.8 121.5h0M436.9 121.5h0M438.0 121.5h0M439.2 121.5h0M440.3 121.5h0M441.5 121.5h0M442.6 121.5h0M443.7 121.5h0M444.9 121.5h0M446.0 121.5h0M447.1 121.5h0M448.3 121.5h0M449.4 121.5h0M450.6 121.5h0M451.7 121.5h0M452.8 121.5h0M454.0 121.5h0M455.1 121.5h0M456.2 121.5h0M457.4 121.5h0M458.5 121.5h0M459.7 121.5h0M460.8 121.5h0M461.9 121.5h0M463.1 121.5h0M464.2 121.5h0M465.4 121.5h0M466.5 121.5h0M467.6 121.5h0M468.8 121.5h0M469.9 121.5h0M471.0 121.5h0M472.2 121.5h0M473.3 121.5h0M474.5 121.5h0M475.6 121.5h0M476.7 121.5h0M477.9 121.5h0M479.0 121.5h0M480.1 121.5h0M481.3 121.5h0M482.4 121.5h0M483.6 121.5h0M484.7 121.5h0M485.8 121.5h0M487.0 121.5h0M488.1 121.5h0M489.3 121.5h0M490.4 121.5h0M491.5 121.5h0M492.7 121.5h0M493.8 121.5h0M494.9 121.5h0M496.1 121.5h0M497.2 121.5h0M498.4 121.5h0M499.5 121.5h0M500.6 121.5h0M501.8 121.5h0M502.9 121.5h0M504.0 121.5h0M505.2 121.5h0M506.3 121.5h0M507.5 121.5h0M508.6 121.5h0M509.7 121.5h0M510.9 121.5h0M512.0 121.5h0M513.2 121.5h0M514.3 121.5h0M515.4 121.5h0M516.6 121.5h0M517.7 121.5h0M518.8 121.5h0M520.0 121.5h0M521.1 121.5h0M522.3 121.5h0M523.4 121.5h0M524.5 121.5h0M525.7 121.5h0M526.8 121.5h0M527.9 121.5h0M529.1 121.5h0M530.2 121.5h0" stroke="#a0a0a0" stroke-width="0.84" stroke-linecap="round" fill="none"/>
<polyline points="314.0,121.5 318.6,159.2 329.9,96.4 341.3,96.4 392.5,121.5 530.2,121.5" fill="none" stroke="#9400d3" stroke-width="1.05" stroke-linejoin="round"/>
<polyline points="314.0,121.5 325.4,121.5 329.9,159.2 341.3,96.4 352.7,96.4 403.9,121.5 530.2,121.5" fill="none" stroke="#009e73" stroke-width="1.05" stroke-linejoin="round"/>
<polyline points="314.0,121.5 336.8,121.5 341.3,159.2 352.7,96.4 364.1,96.4 415.3,121.5 530.2,121.5" fill="none" stroke="#56b4e9" stroke-width="1.05" stroke-linejoin="round"/>
<polyline points="314.0,121.5 348.1,121.5 352.7,159.2 364.1,96.4 375.5,96.4 426.7,121.5 530.2,121.5" fill="none" stroke="#e69f00" stroke-width="1.05" stroke-linejoin="round"/>
<polyline points="314.0,121.5 359.5,121.5 364.1,159.2 375.5,96.4 386.8,96.4 438.0,121.5 530.2,121.5" fill="none" stroke="#e51e10" stroke-width="1.05" stroke-linejoin="round"/>
<polyline points="314.0,121.5 370.9,121.5 375.5,159.2 386.8,96.4 398.2,96.4 449.4,121.5 530.2,121.5" fill="none" stroke="#0072b2" stroke-width="1.05" stroke-linejoin="round"/>
<polyline points="314.0,121.5 382.3,121.5 386.8,159.2 398.2,96.4 409.6,96.4 460.8,121.5 530.2,121.5" fill="none" stroke="#f0e442" stroke-width="1.05" stroke-linejoin="round"/>
<polyline points="314.0,121.5 393.7,121.5 398.2,159.2 409.6,96.4 421.0,96.4 472.2,121.5 530.2,121.5" fill="none" stroke="#b0b0b0" stroke-width="0.7" stroke-linejoin="round" stroke-dasharray="1.2 0.8"/>
<path d="M314.0 121.5h0M315.1 121.5h0M316.3 121.5h0M317.4 121.5h0M318.6 121.5h0M319.7 121.5h0M320.8 121.5h0M322.0 121.5h0M323.1 121.5h0M324.2 121.5h0M325.4 121.5h0M326.5 121.5h0M327.7 121.5h0M328.8 121.5h0M329.9 121.5h0M331.1 121.5h0M332.2 121.5h0M333.3 121.5h0M334.5 121.5h0M335.6 121.5h0M336.8 121.5h0M337.9 121.5h0M339.0 121.5h0M340.2 121.5h0M341.3 121.5h0M342.4 121.5h0M343.6 121.5h0M344.7 121.5h0M345.9 121.5h0M347.0 121.5h0M348.1 121.5h0M349.3 121.5h0M350.4 121.5h0M351.6 121.5h0M352.7 121.5h0M353.8 121.5h0M355.0 121.5h0M356.1 121.5h0M357.2 121.5h0M358.4 121.5h0M359.5 121.5h0M360.7 121.5h0M361.8 121.5h0M362.9 121.5h0M364.1 121.5h0M365.2 121.5h0M366.3 121.5h0M367.5 121.5h0M368.6 121.5h0M369.8 121.5h0M370.9 121.5h0M372.0 121.5h0M373.2 121.5h0M374.3 121.5h0M375.5 121.5h0M376.6 121.5h0M377.7 121.5h0M378.9 121.5h0M380.0 121.5h0M381.1 121.5h0M382.3 121.5h0M383.4 121.5h0M384.6 121.5h0M385.7 121.5h0M386.8 121.5h0M388.0 121.5h0M389.1 121.5h0M390.2 121.5h0M391.4 121.5h0M392.5 121.5h0M393.7 121.5h0M394.8 130.9h0M395.9 140.4h0M397.1 149.8h0M398.2 159.2h0M399.4 152.9h0M400.5 146.6h0M401.6 140.4h0M402.8 134.1h0M403.9 127.8h0M405.0 121.5h0M406.2 115.2h0M407.3 109.0h0M408.5 102.7h0M409.6 96.4h0M410.7 96.4h0M411.9 96.4h0M413.0 96.4h0M414.1 96.4h0M415.3 96.4h0M416.4 96.4h0M417.6 96.4h0M418.7 96.4h0M419.8 96.4h0M421.0 96.4h0M422.1 97.0h0M423.2 97.5h0M424.4 98.1h0M425.5 98.6h0M426.7 99.2h0M427.8 99.7h0M428.9 100.3h0M430.1 100.9h0M431.2 101.4h0M432.4 102.0h0M433.5 102.5h0M434.6 103.1h0M435.8 103.7h0M436.9 104.2h0M438.0 104.8h0M439.2 105.3h0M440.3 105.9h0M441.5 106.4h0M442.6 107.0h0M443.7 107.6h0M444.9 108.1h0M446.0 108.7h0M447.1 109.2h0M448.3 109.8h0M449.4 110.4h0M450.6 110.9h0M451.7 111.5h0M452.8 112.0h0M454.0 112.6h0M455.1 113.1h0M456.2 113.7h0M457.4 114.3h0M458.5 114.8h0M459.7 115.4h0M460.8 115.9h0M461.9 116.5h0M463.1 117.1h0M464.2 117.6h0M465.4 118.2h0M466.5 118.7h0M467.6 119.3h0M468.8 119.8h0M469.9 120.4h0M471.0 121.0h0M472.2 121.5h0M473.3 121.5h0M474.5 121.5h0M475.6 121.5h0M476.7 121.5h0M477.9 121.5h0M479.0 121.5h0M480.1 121.5h0M481.3 121.5h0M482.4 121.5h0M483.6 121.5h0M484.7 121.5h0M485.8 121.5h0M487.0 121.5h0M488.1 121.5h0M489.3 121.5h0M490.4 121.5h0M491.5 121.5h0M492.7 121.5h0M493.8 121.5h0M494.9 121.5h0M496.1 121.5h0M497.2 121.5h0M498.4 121.5h0M499.5 121.5h0M500.6 121.5h0M501.8 121.5h0M502.9 121.5h0M504.0 121.5h0M505.2 121.5h0M506.3 121.5h0M507.5 121.5h0M508.6 121.5h0M509.7 121.5h0M510.9 121.5h0M512.0 121.5h0M513.2 121.5h0M514.3 121.5h0M515.4 121.5h0M516.6 121.5h0M517.7 121.5h0M518.8 121.5h0M520.0 121.5h0M521.1 121.5h0M522.3 121.5h0M523.4 121.5h0M524.5 121.5h0M525.7 121.5h0M526.8 121.5h0M527.9 121.5h0M529.1 121.5h0M530.2 121.5h0" stroke="#000" stroke-width="1.36" stroke-linecap="round" fill="none"/>
<polyline points="314.0,121.5 405.0,121.5 409.6,159.2 421.0,96.4 432.4,96.4 483.6,121.5 530.2,121.5" fill="none" stroke="#000000" stroke-width="1.1" stroke-linejoin="round"/>
<text transform="translate(471.00 132.00) scale(0.94 1)" text-anchor="end">seg 1</text>
<path d="M474.50 129.40h16.5" stroke="#b8b8b8" stroke-width="0.8" fill="none" stroke-dasharray="1.4 0.7"/>
<circle cx="482.75" cy="129.40" r="0.5" fill="#a0a0a0"/>
<text transform="translate(515.00 132.00) scale(0.94 1)" text-anchor="end">seg 6</text>
<path d="M518.50 129.40h16.5" stroke="#e51e10" stroke-width="1.2" fill="none"/>
<circle cx="526.75" cy="129.40" r="0.6" fill="#e51e10"/>
<text transform="translate(471.00 138.10) scale(0.94 1)" text-anchor="end">seg 2</text>
<path d="M474.50 135.50h16.5" stroke="#9400d3" stroke-width="1.2" fill="none"/>
<text transform="translate(515.00 138.10) scale(0.94 1)" text-anchor="end">seg 7</text>
<path d="M518.50 135.50h16.5" stroke="#0072b2" stroke-width="1.2" fill="none"/>
<circle cx="526.75" cy="135.50" r="0.5" fill="#0072b2"/>
<text transform="translate(471.00 144.20) scale(0.94 1)" text-anchor="end">seg 3</text>
<path d="M474.50 141.60h16.5" stroke="#009e73" stroke-width="1.2" fill="none"/>
<text transform="translate(515.00 144.20) scale(0.94 1)" text-anchor="end">seg 8</text>
<path d="M518.50 141.60h16.5" stroke="#f0e442" stroke-width="1.2" fill="none"/>
<circle cx="526.75" cy="141.60" r="0.5" fill="#f0e442"/>
<text transform="translate(471.00 150.30) scale(0.94 1)" text-anchor="end">seg 4</text>
<path d="M474.50 147.70h16.5" stroke="#56b4e9" stroke-width="1.2" fill="none"/>
<text transform="translate(515.00 150.30) scale(0.94 1)" text-anchor="end">seg 9</text>
<path d="M518.50 147.70h16.5" stroke="#b0b0b0" stroke-width="0.7" fill="none" stroke-dasharray="1.2 0.8"/>
<circle cx="526.75" cy="147.70" r="0.7" fill="#000"/>
<text transform="translate(471.00 156.40) scale(0.94 1)" text-anchor="end">seg 5</text>
<path d="M474.50 153.80h16.5" stroke="#e69f00" stroke-width="1.2" fill="none"/>
<circle cx="482.75" cy="153.80" r="0.6" fill="#e69f00"/>
<text transform="translate(515.00 156.40) scale(0.94 1)" text-anchor="end">seg 10</text>
<path d="M518.50 153.80h16.5" stroke="#000000" stroke-width="1.25" fill="none"/>
<circle cx="526.75" cy="153.80" r="0.6" fill="#000"/>
<rect x="314" y="96.4" width="227.60" height="62.80" fill="none" stroke="#6a6a6a" stroke-width="0.6"/>
<path d="M336.76 159.2v-2.0M336.76 96.4v2.0M359.52 159.2v-2.0M359.52 96.4v2.0M382.28 159.2v-2.0M382.28 96.4v2.0M405.04 159.2v-2.0M405.04 96.4v2.0M427.80 159.2v-2.0M427.80 96.4v2.0M450.56 159.2v-2.0M450.56 96.4v2.0M473.32 159.2v-2.0M473.32 96.4v2.0M496.08 159.2v-2.0M496.08 96.4v2.0M518.84 159.2v-2.0M518.84 96.4v2.0M314 152.92h2.0M541.6 152.92h-2.0M314 146.64h2.0M541.6 146.64h-2.0M314 140.36h2.0M541.6 140.36h-2.0M314 134.08h2.0M541.6 134.08h-2.0M314 127.80h2.0M541.6 127.80h-2.0M314 121.52h2.0M541.6 121.52h-2.0M314 115.24h2.0M541.6 115.24h-2.0M314 108.96h2.0M541.6 108.96h-2.0M314 102.68h2.0M541.6 102.68h-2.0" stroke="#6a6a6a" stroke-width="0.6" fill="none"/>
<text transform="translate(314.80 168.10) scale(0.91 1)" text-anchor="middle">0</text>
<text transform="translate(337.56 168.10) scale(0.91 1)" text-anchor="middle">10</text>
<text transform="translate(360.32 168.10) scale(0.91 1)" text-anchor="middle">20</text>
<text transform="translate(383.08 168.10) scale(0.91 1)" text-anchor="middle">30</text>
<text transform="translate(405.84 168.10) scale(0.91 1)" text-anchor="middle">40</text>
<text transform="translate(428.60 168.10) scale(0.91 1)" text-anchor="middle">50</text>
<text transform="translate(451.36 168.10) scale(0.91 1)" text-anchor="middle">60</text>
<text transform="translate(474.12 168.10) scale(0.91 1)" text-anchor="middle">70</text>
<text transform="translate(496.88 168.10) scale(0.91 1)" text-anchor="middle">80</text>
<text transform="translate(519.64 168.10) scale(0.91 1)" text-anchor="middle">90</text>
<text transform="translate(542.40 168.10) scale(0.91 1)" text-anchor="middle">100</text>
<text transform="translate(310.80 161.90) scale(0.91 1)" text-anchor="end">-0.6</text>
<text transform="translate(310.80 155.62) scale(0.91 1)" text-anchor="end">-0.5</text>
<text transform="translate(310.80 149.34) scale(0.91 1)" text-anchor="end">-0.4</text>
<text transform="translate(310.80 143.06) scale(0.91 1)" text-anchor="end">-0.3</text>
<text transform="translate(310.80 136.78) scale(0.91 1)" text-anchor="end">-0.2</text>
<text transform="translate(310.80 130.50) scale(0.91 1)" text-anchor="end">-0.1</text>
<text transform="translate(310.80 124.22) scale(0.91 1)" text-anchor="end">0</text>
<text transform="translate(310.80 117.94) scale(0.91 1)" text-anchor="end">0.1</text>
<text transform="translate(310.80 111.66) scale(0.91 1)" text-anchor="end">0.2</text>
<text transform="translate(310.80 105.38) scale(0.91 1)" text-anchor="end">0.3</text>
<text transform="translate(310.80 99.10) scale(0.91 1)" text-anchor="end">0.4</text>
<text transform="translate(427.80 177.60) scale(0.94 1)" text-anchor="middle">time[s]</text>
<text transform="translate(293.00 127.80) scale(0.91 1) rotate(-90)" text-anchor="middle">occlusion to neutral</text>
<polyline points="317.3,198.2 320.7,192.8 321.8,191.4 328.5,209.6 333.0,203.1 339.7,219.2 344.2,211.9 350.9,226.4 355.4,218.2 362.2,231.0 366.6,221.6 373.4,233.2 377.9,222.9 383.5,231.2 384.6,233.2 389.1,222.9 394.7,231.2 395.8,233.1 400.3,222.9 405.9,231.2 407.0,233.1 411.5,222.9 417.1,231.2 422.7,240.8 424.5,237.9 425.9,236.2 427.0,235.2 428.3,234.3 433.9,229.0 435.6,226.3 437.0,224.5 438.1,223.5 439.5,222.5 445.2,217.2 446.8,214.9 448.2,213.5 449.3,212.7 450.8,212.0 456.4,208.2 458.0,206.4 459.4,205.3 460.5,204.8 462.0,204.5 467.6,202.1 469.3,200.6 470.5,199.9 471.7,199.6 473.2,199.7 478.8,198.6 484.4,197.9 487.8,198.2 530.4,198.2" fill="none" stroke="#e69f00" stroke-width="0.95" stroke-linejoin="round"/>
<path d="M317.3 198.2h0M318.4 196.4h0M319.5 194.6h0M320.7 192.8h0M321.8 191.4h0M322.9 194.4h0M324.0 197.4h0M325.2 200.5h0M326.3 203.5h0M327.4 206.5h0M328.5 209.6h0M329.6 208.0h0M330.8 206.4h0M331.9 204.7h0M333.0 203.1h0M334.1 205.8h0M335.2 208.5h0M336.4 211.2h0M337.5 213.8h0M338.6 216.5h0M339.7 219.2h0M340.9 217.4h0M342.0 215.5h0M343.1 213.7h0M344.2 211.9h0M345.3 214.3h0M346.5 216.8h0M347.6 219.2h0M348.7 221.6h0M349.8 224.0h0M350.9 226.4h0M352.1 224.4h0M353.2 222.3h0M354.3 220.2h0M355.4 218.2h0M356.6 220.3h0M357.7 222.4h0M358.8 224.6h0M359.9 226.7h0M361.0 228.9h0M362.2 231.0h0M363.3 228.7h0M364.4 226.3h0M365.5 224.0h0M366.6 221.6h0M367.8 223.5h0M368.9 225.5h0M370.0 227.4h0M371.1 229.3h0M372.3 231.3h0M373.4 233.2h0M374.5 230.6h0M375.6 228.1h0M376.7 225.5h0M377.9 222.9h0M379.0 224.6h0M380.1 226.3h0M381.2 227.9h0M382.3 229.6h0M383.5 231.2h0M384.6 233.2h0M385.7 230.6h0M386.8 228.0h0M388.0 225.5h0M389.1 222.9h0M390.2 224.6h0M391.3 226.2h0M392.4 227.9h0M393.6 229.6h0M394.7 231.2h0M395.8 233.1h0M396.9 230.6h0M398.0 228.0h0M399.2 225.5h0M400.3 222.9h0M401.4 224.6h0M402.5 226.2h0M403.7 227.9h0M404.8 229.5h0M405.9 231.2h0M407.0 233.1h0M408.1 230.6h0M409.3 228.0h0M410.4 225.4h0M411.5 222.9h0M412.6 224.5h0M413.7 226.2h0M414.9 227.9h0M416.0 229.5h0M417.1 231.2h0M418.2 233.1h0M419.4 235.0h0M420.5 237.0h0M421.6 238.9h0M422.7 240.8h0M423.8 239.0h0M425.0 237.3h0M426.1 236.0h0M427.2 235.0h0M428.3 234.3h0M429.5 233.2h0M430.6 232.2h0M431.7 231.1h0M432.8 230.1h0M433.9 229.0h0M435.1 227.2h0M436.2 225.5h0M437.3 224.2h0M438.4 223.2h0M439.5 222.5h0M440.7 221.4h0M441.8 220.4h0M442.9 219.3h0M444.0 218.3h0M445.2 217.2h0M446.3 215.6h0M447.4 214.2h0M448.5 213.2h0M449.6 212.5h0M450.8 212.0h0M451.9 211.2h0M453.0 210.5h0M454.1 209.7h0M455.2 209.0h0M456.4 208.2h0M457.5 206.9h0M458.6 205.8h0M459.7 205.1h0M460.9 204.7h0M462.0 204.5h0M463.1 204.0h0M464.2 203.5h0M465.3 203.1h0M466.5 202.6h0M467.6 202.1h0M468.7 201.1h0M469.8 200.2h0M470.9 199.8h0M472.1 199.6h0M473.2 199.7h0M474.3 199.5h0M475.4 199.3h0M476.6 199.1h0M477.7 198.8h0M478.8 198.6h0M479.9 198.5h0M481.0 198.3h0M482.2 198.2h0M483.3 198.0h0M484.4 197.9h0M485.5 198.0h0M486.6 198.1h0M487.8 198.2h0M488.9 198.2h0M490.0 198.2h0M491.1 198.2h0M492.3 198.2h0M493.4 198.2h0M494.5 198.2h0M495.6 198.2h0M496.7 198.2h0M497.9 198.2h0M499.0 198.2h0M500.1 198.2h0M501.2 198.2h0M502.3 198.2h0M503.5 198.2h0M504.6 198.2h0M505.7 198.2h0M506.8 198.2h0M508.0 198.2h0M509.1 198.2h0M510.2 198.2h0M511.3 198.2h0M512.4 198.2h0M513.6 198.2h0M514.7 198.2h0M515.8 198.2h0M516.9 198.2h0M518.0 198.2h0M519.2 198.2h0M520.3 198.2h0M521.4 198.2h0M522.5 198.2h0M523.7 198.2h0M524.8 198.2h0M525.9 198.2h0M527.0 198.2h0M528.1 198.2h0M529.3 198.2h0M530.4 198.2h0" stroke="#e69f00" stroke-width="1.0" stroke-linecap="round" fill="none"/>
<polyline points="317.3,198.2 321.8,192.3 328.5,210.2 333.0,204.2 339.7,220.6 344.2,213.5 350.9,228.3 355.4,220.2 362.2,233.4 366.6,224.2 373.4,235.8 377.9,225.5 383.5,233.8 384.6,235.8 389.1,225.5 394.7,233.8 395.8,235.8 400.3,225.5 405.9,233.8 407.0,235.8 411.5,225.5 417.1,233.8 422.7,243.5 428.3,236.8 433.9,231.5 439.5,224.9 450.8,214.2 462.0,206.2 473.2,200.9 484.4,198.2 530.4,198.2" fill="none" stroke="#009e73" stroke-width="1.0" stroke-linejoin="round"/>
<polyline points="317.3,195.3 317.7,196.8 318.0,197.2 318.1,197.8 318.3,197.5 318.5,197.9 318.6,197.8 318.9,198.0 319.0,198.4 319.1,198.3 319.3,198.2 319.4,198.6 319.5,198.1 319.7,198.1 319.8,198.2 319.9,197.7 320.2,198.3 320.3,198.9 320.4,198.5 320.7,198.7 320.8,198.4 320.9,198.8 321.0,198.6 321.1,199.0 321.3,199.3 321.6,198.2 321.7,198.3 321.8,198.1 321.9,198.2 322.0,198.0 322.3,199.1 322.6,198.2 322.7,198.1 322.8,198.3 322.9,197.8 323.4,197.9 323.6,198.4 323.7,198.3 323.8,198.3 323.9,198.0 324.0,198.1 324.1,198.6 324.3,198.6 324.4,198.1 324.8,198.9 324.9,198.9 325.0,199.1 325.2,198.6 325.4,198.5 325.6,197.8 325.7,197.9 325.9,197.7 326.0,197.8 326.2,198.4 326.5,197.9 326.6,198.2 326.9,198.4 327.2,197.7 327.5,197.5 328.0,198.0 328.1,197.5 328.2,197.4 328.5,198.1 328.7,197.9 328.9,198.3 329.0,198.2 329.1,198.4 329.4,197.6 329.6,197.9 330.0,197.6 330.1,198.0 330.3,198.0 330.5,198.3 330.6,197.9 330.9,198.3 331.0,198.1 331.2,198.1 331.7,197.6 331.8,197.7 332.1,198.2 332.2,198.2 332.4,198.9 332.6,198.8 332.8,199.4 332.9,199.1 333.0,199.2 333.1,198.9 333.2,199.0 333.4,199.3 333.9,199.2 334.0,199.5 334.1,199.3 334.2,199.6 334.3,199.4 334.7,198.2 334.8,198.6 335.1,197.8 335.2,198.1 335.4,198.0 335.5,197.6 335.6,198.1 335.8,197.7 335.9,198.0 336.0,197.9 336.4,198.6 336.6,198.5 336.7,198.2 336.8,198.4 336.9,198.4 337.2,198.0 337.3,198.4 337.4,198.2 337.5,198.3 337.7,198.2 337.8,197.9 337.9,197.9 338.2,198.7 338.3,198.5 338.4,198.5 338.5,198.2 338.6,198.1 338.7,198.3 338.8,198.0 339.1,198.8 339.2,198.2 339.3,198.7 339.5,198.2 339.6,198.2 339.7,198.6 339.8,198.3 340.1,198.9 340.2,198.9 340.5,198.3 340.7,198.4 340.9,198.7 341.0,198.7 341.1,198.5 341.2,198.5 341.3,198.3 341.5,198.6 341.7,198.5 342.0,198.3 342.1,197.8 342.3,198.1 342.4,198.3 342.5,198.3 342.6,198.1 342.8,198.3 342.9,198.3 343.0,198.1 343.2,198.3 343.3,198.1 343.5,198.0 343.8,197.5 344.0,197.9 344.2,198.0 344.3,198.5 344.4,198.1 344.6,198.1 344.7,198.0 344.8,198.3 344.9,198.0 345.1,198.2 345.2,198.6 345.4,198.6 345.8,198.4 345.9,198.1 346.1,198.5 346.2,198.5 346.6,197.8 346.7,198.3 346.9,197.8 347.1,198.1 347.2,198.0 347.4,198.2 347.5,198.0 347.6,198.1 347.7,197.7 347.8,197.7 347.9,197.9 348.1,197.7 348.4,198.0 348.5,198.6 348.6,198.4 348.7,198.5 348.9,199.3 349.4,198.6 349.6,199.1 350.0,198.2 350.3,198.5 350.5,197.7 350.6,197.8 350.7,197.4 350.8,197.7 351.1,197.8 351.2,198.3 351.4,198.0 351.6,198.1 351.7,197.8 352.0,198.5 352.2,198.9 352.3,198.5 352.4,198.4 352.6,198.7 352.7,197.9 353.0,198.3 353.3,198.0 353.5,198.6 353.6,198.4 353.7,198.4 353.9,198.8 354.1,198.2 354.3,198.3 354.4,198.2 354.6,198.7 354.8,198.6 354.9,198.9 355.0,198.7 355.1,199.0 355.3,198.9 355.4,198.3 355.7,198.9 356.0,199.2 356.3,198.2 356.4,198.4 356.7,197.3 356.8,197.4 356.9,198.1 357.1,198.2 357.2,198.8 357.4,198.7 357.6,198.8 357.8,198.3 357.9,198.4 358.0,198.3 358.2,198.6 358.5,198.4 358.6,198.5 358.7,199.0 358.8,198.8 358.9,199.1 359.0,198.9 359.1,198.4 359.2,198.4 359.5,199.0 359.6,198.6 359.7,198.5 359.9,198.1 360.1,198.2 360.3,198.5 360.5,199.5 361.0,198.8 361.2,198.5 361.3,198.7 361.4,198.7 361.5,199.0 361.6,198.7 361.8,198.4 362.0,197.8 362.2,197.8 362.4,198.8 362.6,198.6 362.7,199.1 362.8,198.7 362.9,198.9 363.1,198.7 363.2,198.8 363.4,198.3 363.6,199.0 363.7,199.0 363.8,198.7 364.1,198.9 364.2,198.8 364.3,199.5 364.5,199.8 364.6,199.5 364.9,199.8 365.0,199.7 365.1,199.9 365.2,199.7 365.5,199.7 365.6,199.3 366.0,198.9 366.1,199.0 366.4,198.6 366.5,198.7 366.9,197.0 367.0,197.3 367.1,197.2 367.2,197.3 367.5,196.9 367.7,197.7 367.9,198.0 368.0,197.9 368.2,198.1 368.4,197.3 368.6,198.0 368.9,197.7 369.0,197.7 369.2,198.1 369.4,197.5 369.6,197.4 369.7,197.6 369.9,197.6 370.1,197.3 370.2,197.5 370.3,197.4 370.5,197.7 370.7,197.1 370.8,197.4 370.9,197.3 371.0,197.5 371.2,197.0 371.4,197.1 371.5,196.8 371.8,197.3 372.0,197.4 372.1,197.4 372.3,197.5 372.5,197.0 372.7,197.6 372.9,197.0 373.0,197.1 373.2,197.5 373.3,197.4 373.4,197.0 373.5,197.5 373.6,197.4 373.8,197.7 373.9,197.5 374.0,197.8 374.3,197.4 374.4,197.3 374.8,198.7 374.9,198.1 375.1,198.1 375.4,198.7 375.5,198.7 375.6,198.9 375.7,198.3 376.0,198.5 376.3,197.6 376.4,197.8 376.9,197.7 377.1,198.3 377.2,198.3 377.3,198.5 377.4,198.2 377.5,198.2 377.7,198.5 377.9,195.8 378.0,195.8 378.1,195.5 378.3,196.3 378.8,195.9 378.9,195.9 379.0,195.7 379.1,195.9 379.2,195.9 379.4,196.4 379.7,196.0 379.9,196.7 380.1,196.2 380.3,196.3 380.4,196.7 380.6,196.0 381.1,195.4 381.2,195.6 381.3,195.6 381.4,195.7 381.6,195.4 381.8,196.0 382.0,195.7 382.5,196.4 382.6,195.9 382.8,195.6 383.0,196.0 383.2,195.5 383.5,195.8 383.6,195.6 383.7,195.9 383.8,195.9 384.0,196.6 384.3,196.5 384.4,196.1 384.6,196.4 384.9,197.8 385.0,197.6 385.2,197.8 385.4,197.1 385.5,197.2 385.6,196.8 385.7,196.8 385.8,196.6 385.9,196.8 386.0,196.7 386.2,197.0 386.3,196.9 386.5,197.2 386.6,197.1 386.8,197.3 387.1,197.0 387.2,197.5 387.4,197.3 387.5,197.5 387.6,197.5 387.7,197.9 387.8,197.5 388.1,197.7 388.2,197.4 388.3,197.6 388.4,197.5 388.7,198.4 388.9,198.4 389.0,198.1 389.1,195.2 389.2,195.0 389.5,195.7 390.0,195.3 390.2,195.4 390.3,195.1 390.4,195.4 390.5,195.4 390.6,195.0 390.8,195.1 390.9,195.0 391.0,195.3 391.1,194.9 391.2,195.6 391.4,196.2 391.5,195.8 391.7,195.7 391.9,196.2 392.1,196.0 392.4,196.8 392.7,196.5 392.9,196.5 393.0,196.9 393.1,196.8 393.2,197.0 393.4,196.7 393.7,197.1 393.9,196.6 394.0,196.8 394.1,197.5 394.5,196.8 394.8,197.1 394.9,196.9 395.0,197.2 395.1,197.1 395.2,197.3 395.4,197.2 395.5,197.5 395.6,197.4 395.8,197.4 396.0,196.9 396.1,197.4 396.3,197.1 396.4,196.9 396.5,197.0 396.6,196.7 396.7,196.7 396.8,196.5 397.0,197.0 397.3,196.3 397.5,196.2 397.7,197.0 397.8,197.1 397.9,196.8 398.3,198.0 398.5,197.7 398.6,198.0 398.7,198.0 398.8,197.7 398.9,197.7 399.3,198.7 399.4,198.4 399.5,198.5 399.7,197.9 400.0,198.2 400.1,198.0 400.2,198.0 400.3,195.1 400.4,195.5 400.5,195.3 400.7,196.0 400.9,196.1 401.1,195.3 401.3,195.8 401.4,195.2 401.5,195.2 401.9,195.9 402.0,195.5 402.3,195.8 402.4,195.4 402.5,195.6 402.6,195.5 402.9,195.5 403.0,195.8 403.2,195.2 403.5,196.1 403.7,196.0 404.0,196.1 404.1,196.5 404.2,196.2 404.6,196.2 404.7,195.9 404.8,196.0 404.9,196.2 405.0,196.0 405.3,196.8 405.4,196.7 405.7,197.0 406.1,196.5 406.5,196.8 406.6,196.6 406.8,196.8 406.9,196.6 407.0,196.6 407.2,197.1 407.6,196.9 407.8,197.3 408.0,197.2 408.4,197.4 408.6,197.2 408.7,197.4 409.0,196.8 409.3,197.1 409.4,197.4 409.5,197.2 409.6,197.8 409.8,197.9 409.9,197.6 410.0,197.6 410.4,198.3 410.6,198.1 410.9,198.2 411.1,197.9 411.2,198.2 411.3,198.1 411.4,197.7 411.5,194.7 411.6,194.9 411.7,194.8 411.8,195.0 412.0,195.1 412.2,194.3 412.3,194.9 412.5,194.3 412.6,194.6 412.7,194.7 412.9,194.4 413.0,194.7 413.2,194.8 413.3,195.4 413.4,195.3 413.5,195.4 413.7,194.7 413.9,194.7 414.0,194.9 414.2,195.0 414.3,194.8 414.6,196.2 414.8,196.0 414.9,196.0 415.3,196.6 415.5,196.6 415.7,196.2 415.8,196.1 416.0,196.4 416.1,196.1 416.4,195.8 416.6,195.5 416.9,196.6 417.0,196.5 417.3,196.9 417.4,196.7 417.7,196.8 417.8,196.4 418.0,197.0 418.1,196.3 418.5,196.9 418.6,196.9 418.9,196.4 419.1,197.0 419.2,196.9 419.5,196.3 419.6,196.5 419.7,196.4 419.9,196.6 420.0,197.0 420.4,197.2 420.7,196.3 421.2,197.4 421.7,197.2 421.9,197.5 422.2,196.9 422.5,197.7 422.6,197.7 422.7,194.9 423.1,194.3 423.3,194.2 423.5,194.4 423.6,195.0 423.7,195.1 423.8,194.7 424.1,195.1 424.2,194.9 424.4,195.2 424.5,194.8 424.7,194.7 424.9,194.9 425.1,194.9 425.4,194.5 425.5,194.6 425.6,194.6 425.7,195.0 426.0,194.9 426.4,195.8 426.6,195.7 426.8,195.9 426.9,195.9 427.2,195.2 427.5,195.7 427.7,195.6 427.8,195.0 428.1,194.5 428.2,195.1 428.4,195.5 428.7,195.0 428.8,195.3 428.9,195.4 429.0,195.4 429.3,196.1 429.5,195.9 429.6,196.2 429.7,195.9 429.8,195.9 429.9,195.8 430.0,195.5 430.2,196.1 430.3,196.0 430.6,196.5 430.8,196.5 430.9,196.8 431.0,196.9 431.2,196.3 431.4,196.8 431.6,196.3 431.8,197.0 431.9,196.8 432.0,196.9 432.1,196.8 432.3,196.6 432.4,196.7 432.6,196.6 432.9,195.7 433.2,196.0 433.3,195.5 433.5,195.6 433.6,196.1 433.7,196.0 433.8,196.3 433.9,194.7 434.0,195.1 434.2,195.2 434.3,195.2 434.4,195.5 434.5,195.7 434.6,195.7 435.1,196.4 435.2,196.1 435.3,196.2 435.5,195.6 435.6,195.9 435.7,195.8 436.0,196.1 436.1,196.0 436.2,196.0 436.4,195.5 436.6,195.8 436.9,195.3 437.0,196.0 437.1,195.6 437.2,195.6 437.3,195.2 437.5,195.6 437.6,195.6 437.7,195.3 437.9,195.4 438.0,196.0 438.1,195.8 438.6,197.1 438.9,197.1 439.1,196.9 439.2,197.1 439.5,196.3 439.9,195.8 440.1,195.1 440.3,195.5 440.7,194.7 441.0,196.6 441.1,196.3 441.5,196.3 441.6,196.0 441.7,196.1 441.9,195.8 442.2,195.8 442.3,196.2 442.6,195.9 442.7,196.0 442.9,195.7 443.0,196.2 443.4,196.7 443.5,196.6 443.7,196.9 444.0,196.6 444.1,196.0 444.3,196.2 444.4,196.2 444.5,196.6 444.8,196.0 445.0,196.4 445.2,194.3 445.3,194.4 445.4,194.2 445.5,194.6 445.7,194.1 445.8,194.2 446.0,194.6 446.3,194.6 446.5,194.9 446.6,194.8 446.7,194.5 447.1,195.9 447.3,196.3 447.5,195.9 447.7,196.0 448.1,195.6 448.2,195.7 448.3,195.5 448.4,195.9 448.5,195.5 448.6,196.3 448.9,196.5 449.0,196.2 449.1,196.5 449.2,195.9 449.3,196.2 449.4,195.6 449.7,195.4 449.9,194.9 450.0,194.8 450.1,195.5 450.2,195.2 450.3,195.2 450.4,195.7 450.5,195.5 450.6,195.9 450.9,195.8 451.0,195.9 451.1,195.8 451.2,196.0 451.3,196.0 451.5,196.1 451.7,195.6 451.8,195.6 451.9,196.0 452.1,196.2 452.6,196.1 452.7,196.2 452.9,195.8 453.0,196.0 453.2,196.1 453.5,195.6 453.6,195.8 453.7,195.9 453.9,196.6 454.0,196.5 454.2,196.1 454.5,196.6 454.6,196.5 454.7,196.5 454.9,196.3 455.2,195.9 455.4,196.1 455.5,195.9 455.7,196.2 455.8,195.8 455.9,195.8 456.0,196.2 456.3,195.8 456.4,193.7 456.6,193.9 456.8,194.4 456.9,194.1 457.3,194.7 457.5,194.1 457.7,194.4 457.9,194.3 458.0,194.8 458.2,194.6 458.5,195.1 458.7,194.5 458.9,194.5 459.1,194.8 459.3,194.6 459.5,195.2 459.6,195.1 459.7,195.5 459.8,195.6 460.0,195.4 460.1,195.8 460.2,195.9 460.4,195.5 460.5,195.8 461.0,194.9 461.2,194.9 461.5,196.0 461.6,196.0 461.7,195.7 461.9,196.2 462.0,196.2 462.2,196.7 462.6,195.4 462.9,196.2 463.0,195.6 463.2,196.0 463.3,195.8 463.4,195.8 463.7,196.1 463.9,196.0 464.0,195.8 464.2,196.0 464.6,195.6 464.8,195.8 464.9,196.1 465.0,195.8 465.1,196.2 465.2,196.1 465.3,196.4 465.6,196.1 465.9,196.9 466.0,196.5 466.3,197.0 466.7,195.9 466.9,196.3 467.0,195.9 467.5,196.8 467.6,194.6 467.9,194.3 468.1,193.8 468.5,194.5 468.6,194.3 468.8,194.9 469.0,195.0 469.3,194.5 469.7,195.4 470.0,195.2 470.3,195.8 470.4,195.4 470.5,195.6 470.7,195.1 470.9,195.5 471.1,195.4 471.2,195.6 471.4,195.5 471.5,195.7 471.7,195.7 471.8,195.9 472.1,196.0 472.2,196.4 472.5,196.3 472.6,196.7 472.9,196.0 473.1,195.7 473.2,196.0 473.3,195.9 473.4,196.1 473.5,195.4 473.6,195.6 473.7,195.4 474.0,196.1 474.1,196.2 474.4,195.7 474.5,196.2 474.6,195.9 474.8,196.1 475.0,195.3 475.2,195.1 475.3,195.6 475.4,195.0 475.5,195.1 475.7,195.0 476.1,196.1 476.3,196.1 476.4,195.8 476.8,195.9 476.9,195.5 477.0,195.8 477.1,195.6 477.3,196.6 477.5,196.5 477.6,196.6 477.8,195.3 478.0,196.3 478.1,196.4 478.3,195.9 478.5,196.0 478.7,196.8 478.8,196.4 478.9,196.7 479.1,196.3 479.2,196.6 479.4,196.5 479.5,196.0 479.7,196.2 479.9,195.9 480.5,196.5 481.2,195.1 481.4,195.5 481.5,195.1 481.8,196.3 482.0,196.3 482.2,196.2 482.4,196.9 482.6,196.7 482.8,196.8 483.1,196.5 483.3,197.1 483.5,197.3 483.6,197.7 483.7,197.5 483.8,197.7 484.1,197.5 484.2,197.6 484.3,197.2 484.5,197.5 484.7,197.4 485.0,197.6 485.2,197.5 485.3,197.2 485.7,197.7 486.0,197.7 486.3,197.9 486.4,197.8 487.1,198.0 530.4,197.9" fill="none" stroke="#000" stroke-width="1.15" stroke-linejoin="round"/>
<text transform="translate(515.10 233.00) scale(0.94 1)" text-anchor="end">E(vol num)</text>
<path d="M518.00 230.40h16.2" stroke="#e69f00" stroke-width="0.7" fill="none"/>
<circle cx="526.10" cy="230.40" r="0.5" fill="#e69f00"/>
<text transform="translate(512.90 239.20) scale(0.94 1)" text-anchor="end">E(vol ex)</text>
<path d="M518.00 236.60h16.2" stroke="#009e73" stroke-width="1.0" fill="none"/>
<text transform="translate(509.60 245.40) scale(0.94 1)" text-anchor="end">E(mass)</text>
<path d="M518.00 242.80h16.2" stroke="#000" stroke-width="1.3" fill="none"/>
<rect x="317.3" y="185.7" width="224.30" height="62.70" fill="none" stroke="#6a6a6a" stroke-width="0.6"/>
<path d="M339.73 248.4v-2.0M339.73 185.7v2.0M362.16 248.4v-2.0M362.16 185.7v2.0M384.59 248.4v-2.0M384.59 185.7v2.0M407.02 248.4v-2.0M407.02 185.7v2.0M429.45 248.4v-2.0M429.45 185.7v2.0M451.88 248.4v-2.0M451.88 185.7v2.0M474.31 248.4v-2.0M474.31 185.7v2.0M496.74 248.4v-2.0M496.74 185.7v2.0M519.17 248.4v-2.0M519.17 185.7v2.0M317.3 242.13h2.0M541.6 242.13h-2.0M317.3 235.86h2.0M541.6 235.86h-2.0M317.3 229.59h2.0M541.6 229.59h-2.0M317.3 223.32h2.0M541.6 223.32h-2.0M317.3 217.05h2.0M541.6 217.05h-2.0M317.3 210.78h2.0M541.6 210.78h-2.0M317.3 204.51h2.0M541.6 204.51h-2.0M317.3 198.24h2.0M541.6 198.24h-2.0M317.3 191.97h2.0M541.6 191.97h-2.0" stroke="#6a6a6a" stroke-width="0.6" fill="none"/>
<text transform="translate(318.10 257.30) scale(0.91 1)" text-anchor="middle">0</text>
<text transform="translate(340.53 257.30) scale(0.91 1)" text-anchor="middle">10</text>
<text transform="translate(362.96 257.30) scale(0.91 1)" text-anchor="middle">20</text>
<text transform="translate(385.39 257.30) scale(0.91 1)" text-anchor="middle">30</text>
<text transform="translate(407.82 257.30) scale(0.91 1)" text-anchor="middle">40</text>
<text transform="translate(430.25 257.30) scale(0.91 1)" text-anchor="middle">50</text>
<text transform="translate(452.68 257.30) scale(0.91 1)" text-anchor="middle">60</text>
<text transform="translate(475.11 257.30) scale(0.91 1)" text-anchor="middle">70</text>
<text transform="translate(497.54 257.30) scale(0.91 1)" text-anchor="middle">80</text>
<text transform="translate(519.97 257.30) scale(0.91 1)" text-anchor="middle">90</text>
<text transform="translate(542.40 257.30) scale(0.91 1)" text-anchor="middle">100</text>
<text transform="translate(314.10 251.10) scale(0.91 1)" text-anchor="end">-0.16</text>
<text transform="translate(314.10 244.83) scale(0.91 1)" text-anchor="end">-0.14</text>
<text transform="translate(314.10 238.56) scale(0.91 1)" text-anchor="end">-0.12</text>
<text transform="translate(314.10 232.29) scale(0.91 1)" text-anchor="end">-0.1</text>
<text transform="translate(314.10 226.02) scale(0.91 1)" text-anchor="end">-0.08</text>
<text transform="translate(314.10 219.75) scale(0.91 1)" text-anchor="end">-0.06</text>
<text transform="translate(314.10 213.48) scale(0.91 1)" text-anchor="end">-0.04</text>
<text transform="translate(314.10 207.21) scale(0.91 1)" text-anchor="end">-0.02</text>
<text transform="translate(314.10 200.94) scale(0.91 1)" text-anchor="end">0</text>
<text transform="translate(314.10 194.67) scale(0.91 1)" text-anchor="end">0.02</text>
<text transform="translate(314.10 188.40) scale(0.91 1)" text-anchor="end">0.04</text>
<text transform="translate(429.45 266.80) scale(0.94 1)" text-anchor="middle">time[s]</text>
<text transform="translate(293.00 217.05) scale(0.91 1) rotate(-90)" text-anchor="middle">volume and mass</text>
</svg>
</body></html>
